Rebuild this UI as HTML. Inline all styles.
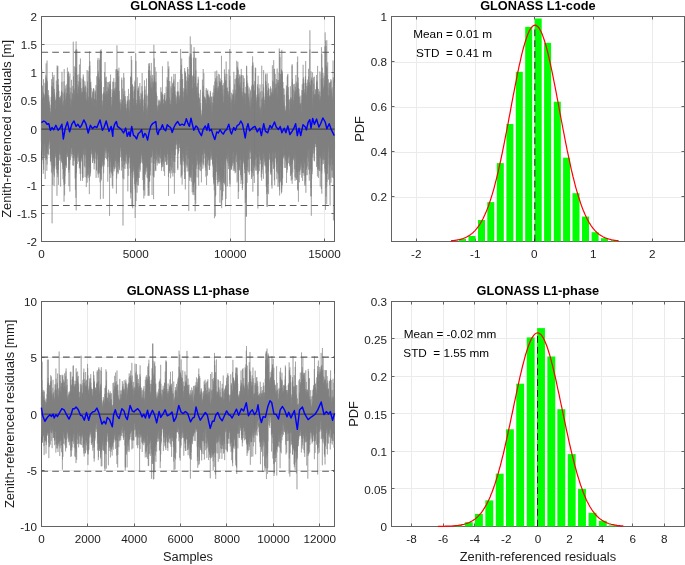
<!DOCTYPE html>
<html><head><meta charset="utf-8"><style>html,body{margin:0;padding:0;background:#fff;width:685px;height:565px;overflow:hidden}svg{display:block;will-change:transform}</style></head>
<body>
<svg width="685" height="565" viewBox="0 0 685 565">
<rect width="685" height="565" fill="#fff"/>
<line x1="135.5" y1="16.5" x2="135.5" y2="241.5" stroke="#ebebeb" stroke-width="1"/>
<line x1="230.5" y1="16.5" x2="230.5" y2="241.5" stroke="#ebebeb" stroke-width="1"/>
<line x1="324.5" y1="16.5" x2="324.5" y2="241.5" stroke="#ebebeb" stroke-width="1"/>
<line x1="41.5" y1="213.5" x2="334.5" y2="213.5" stroke="#ebebeb" stroke-width="1"/>
<line x1="41.5" y1="185.5" x2="334.5" y2="185.5" stroke="#ebebeb" stroke-width="1"/>
<line x1="41.5" y1="157.5" x2="334.5" y2="157.5" stroke="#ebebeb" stroke-width="1"/>
<line x1="41.5" y1="128.5" x2="334.5" y2="128.5" stroke="#ebebeb" stroke-width="1"/>
<line x1="41.5" y1="100.5" x2="334.5" y2="100.5" stroke="#ebebeb" stroke-width="1"/>
<line x1="41.5" y1="72.5" x2="334.5" y2="72.5" stroke="#ebebeb" stroke-width="1"/>
<line x1="41.5" y1="44.5" x2="334.5" y2="44.5" stroke="#ebebeb" stroke-width="1"/>
<rect x="41.5" y="16.5" width="293.0" height="225.0" fill="none" stroke="#636363" stroke-width="1"/>
<path d="M41.5 241.5v-3M41.5 16.5v3M135.5 241.5v-3M135.5 16.5v3M230.5 241.5v-3M230.5 16.5v3M324.5 241.5v-3M324.5 16.5v3M41.5 241.5h3M334.5 241.5h-3M41.5 213.5h3M334.5 213.5h-3M41.5 185.5h3M334.5 185.5h-3M41.5 157.5h3M334.5 157.5h-3M41.5 128.5h3M334.5 128.5h-3M41.5 100.5h3M334.5 100.5h-3M41.5 72.5h3M334.5 72.5h-3M41.5 44.5h3M334.5 44.5h-3M41.5 16.5h3M334.5 16.5h-3" stroke="#636363" stroke-width="1" fill="none"/>
<line x1="416.5" y1="16.5" x2="416.5" y2="241.5" stroke="#ebebeb" stroke-width="1"/>
<line x1="475.5" y1="16.5" x2="475.5" y2="241.5" stroke="#ebebeb" stroke-width="1"/>
<line x1="534.5" y1="16.5" x2="534.5" y2="241.5" stroke="#ebebeb" stroke-width="1"/>
<line x1="593.5" y1="16.5" x2="593.5" y2="241.5" stroke="#ebebeb" stroke-width="1"/>
<line x1="652.5" y1="16.5" x2="652.5" y2="241.5" stroke="#ebebeb" stroke-width="1"/>
<line x1="391.5" y1="197.5" x2="684.5" y2="197.5" stroke="#ebebeb" stroke-width="1"/>
<line x1="391.5" y1="152.5" x2="684.5" y2="152.5" stroke="#ebebeb" stroke-width="1"/>
<line x1="391.5" y1="107.5" x2="684.5" y2="107.5" stroke="#ebebeb" stroke-width="1"/>
<line x1="391.5" y1="62.5" x2="684.5" y2="62.5" stroke="#ebebeb" stroke-width="1"/>
<rect x="391.5" y="16.5" width="293.0" height="225.0" fill="none" stroke="#636363" stroke-width="1"/>
<path d="M416.5 241.5v-3M416.5 16.5v3M475.5 241.5v-3M475.5 16.5v3M534.5 241.5v-3M534.5 16.5v3M593.5 241.5v-3M593.5 16.5v3M652.5 241.5v-3M652.5 16.5v3M391.5 241.5h3M684.5 241.5h-3M391.5 196.5h3M684.5 196.5h-3M391.5 151.5h3M684.5 151.5h-3M391.5 106.5h3M684.5 106.5h-3M391.5 61.5h3M684.5 61.5h-3M391.5 16.5h3M684.5 16.5h-3" stroke="#636363" stroke-width="1" fill="none"/>
<line x1="87.5" y1="301.5" x2="87.5" y2="526.5" stroke="#ebebeb" stroke-width="1"/>
<line x1="134.5" y1="301.5" x2="134.5" y2="526.5" stroke="#ebebeb" stroke-width="1"/>
<line x1="180.5" y1="301.5" x2="180.5" y2="526.5" stroke="#ebebeb" stroke-width="1"/>
<line x1="226.5" y1="301.5" x2="226.5" y2="526.5" stroke="#ebebeb" stroke-width="1"/>
<line x1="273.5" y1="301.5" x2="273.5" y2="526.5" stroke="#ebebeb" stroke-width="1"/>
<line x1="319.5" y1="301.5" x2="319.5" y2="526.5" stroke="#ebebeb" stroke-width="1"/>
<line x1="41.5" y1="470.5" x2="334.5" y2="470.5" stroke="#ebebeb" stroke-width="1"/>
<line x1="41.5" y1="413.5" x2="334.5" y2="413.5" stroke="#ebebeb" stroke-width="1"/>
<line x1="41.5" y1="357.5" x2="334.5" y2="357.5" stroke="#ebebeb" stroke-width="1"/>
<rect x="41.5" y="301.5" width="293.0" height="225.0" fill="none" stroke="#636363" stroke-width="1"/>
<path d="M41.5 526.5v-3M41.5 301.5v3M87.5 526.5v-3M87.5 301.5v3M134.5 526.5v-3M134.5 301.5v3M180.5 526.5v-3M180.5 301.5v3M226.5 526.5v-3M226.5 301.5v3M273.5 526.5v-3M273.5 301.5v3M319.5 526.5v-3M319.5 301.5v3M41.5 526.5h3M334.5 526.5h-3M41.5 470.5h3M334.5 470.5h-3M41.5 413.5h3M334.5 413.5h-3M41.5 357.5h3M334.5 357.5h-3M41.5 301.5h3M334.5 301.5h-3" stroke="#636363" stroke-width="1" fill="none"/>
<line x1="411.5" y1="301.5" x2="411.5" y2="526.5" stroke="#ebebeb" stroke-width="1"/>
<line x1="443.5" y1="301.5" x2="443.5" y2="526.5" stroke="#ebebeb" stroke-width="1"/>
<line x1="474.5" y1="301.5" x2="474.5" y2="526.5" stroke="#ebebeb" stroke-width="1"/>
<line x1="506.5" y1="301.5" x2="506.5" y2="526.5" stroke="#ebebeb" stroke-width="1"/>
<line x1="537.5" y1="301.5" x2="537.5" y2="526.5" stroke="#ebebeb" stroke-width="1"/>
<line x1="569.5" y1="301.5" x2="569.5" y2="526.5" stroke="#ebebeb" stroke-width="1"/>
<line x1="601.5" y1="301.5" x2="601.5" y2="526.5" stroke="#ebebeb" stroke-width="1"/>
<line x1="632.5" y1="301.5" x2="632.5" y2="526.5" stroke="#ebebeb" stroke-width="1"/>
<line x1="664.5" y1="301.5" x2="664.5" y2="526.5" stroke="#ebebeb" stroke-width="1"/>
<line x1="391.5" y1="488.5" x2="684.5" y2="488.5" stroke="#ebebeb" stroke-width="1"/>
<line x1="391.5" y1="451.5" x2="684.5" y2="451.5" stroke="#ebebeb" stroke-width="1"/>
<line x1="391.5" y1="413.5" x2="684.5" y2="413.5" stroke="#ebebeb" stroke-width="1"/>
<line x1="391.5" y1="376.5" x2="684.5" y2="376.5" stroke="#ebebeb" stroke-width="1"/>
<line x1="391.5" y1="338.5" x2="684.5" y2="338.5" stroke="#ebebeb" stroke-width="1"/>
<rect x="391.5" y="301.5" width="293.0" height="225.0" fill="none" stroke="#636363" stroke-width="1"/>
<path d="M411.5 526.5v-3M411.5 301.5v3M443.5 526.5v-3M443.5 301.5v3M474.5 526.5v-3M474.5 301.5v3M506.5 526.5v-3M506.5 301.5v3M537.5 526.5v-3M537.5 301.5v3M569.5 526.5v-3M569.5 301.5v3M601.5 526.5v-3M601.5 301.5v3M632.5 526.5v-3M632.5 301.5v3M664.5 526.5v-3M664.5 301.5v3M391.5 526.5h3M684.5 526.5h-3M391.5 488.5h3M684.5 488.5h-3M391.5 451.5h3M684.5 451.5h-3M391.5 413.5h3M684.5 413.5h-3M391.5 376.5h3M684.5 376.5h-3M391.5 338.5h3M684.5 338.5h-3M391.5 301.5h3M684.5 301.5h-3" stroke="#636363" stroke-width="1" fill="none"/>
<path transform="translate(41.400,0) scale(0.018880,0.1)" d="M0 1397l1 -397 1 426 1 -160 1 -158 1 -161 1 222 1 44 1 -7 1 -82 1 68 1 193 1 -319 1 125 1 120 1 -86 1 158 1 125 1 -344 1 103 1 -570 1 468 1 184 1 -325 1 444 1 -582 1 583 1 -336 1 -90 1 96 1 40 1 -134 1 -63 1 151 1 259 1 -96 1 161 1 -338 1 44 1 4 1 81 1 54 1 214 1 -175 1 -90 1 194 1 -350 1 -86 1 321 1 -81 1 -8 1 127 1 -199 1 35 1 76 1 42 1 50 1 -133 1 22 1 -404 1 547 1 -418 1 228 1 387 1 -430 1 -189 1 478 1 -323 1 58 1 -1 1 135 1 6 1 -135 1 188 1 -307 1 240 1 -197 1 200 1 -208 1 34 1 295 1 -403 1 -8 1 272 1 -131 1 -26 1 45 1 361 1 -504 1 122 1 69 1 -176 1 144 1 83 1 -224 1 326 1 -365 1 161 1 78 1 469 1 -815 1 338 1 378 1 -526 1 283 1 -146 1 -279 1 309 1 -218 1 166 1 -276 1 387 1 -547 1 390 1 257 1 -136 1 -153 1 20 1 -35 1 563 1 -496 1 7 1 -131 1 47 1 196 1 -221 1 -33 1 45 1 35 1 95 1 -118 1 53 1 -99 1 351 1 -202 1 -71 1 106 1 -59 1 -264 1 241 1 317 1 -199 1 114 1 -314 1 -137 1 133 1 346 1 -393 1 34 1 314 1 -224 1 9 1 95 1 -48 1 -63 1 90 1 -154 1 107 1 110 1 -268 1 131 1 -144 1 293 1 -20 1 50 1 13 1 -2 1 -46 1 -228 1 261 1 -281 1 495 1 -312 1 46 1 -277 1 351 1 17 1 -422 1 156 1 14 1 -28 1 315 1 124 1 -506 1 332 1 -206 1 258 1 -605 1 320 1 263 1 -316 1 316 1 -277 1 268 1 -89 1 -165 1 -57 1 98 1 223 1 -196 1 -111 1 686 1 -847 1 234 1 135 1 -280 1 183 1 -74 1 -195 1 355 1 -295 1 71 1 374 1 -447 1 332 1 116 1 -36 1 -103 1 -143 1 -242 1 321 1 63 1 -201 1 -105 1 402 1 -419 1 327 1 -202 1 -268 1 735 1 -223 1 -15 1 -445 1 293 1 94 1 -234 1 550 1 -850 1 634 1 -608 1 75 1 65 1 438 1 -302 1 9 1 -57 1 -134 1 138 1 -23 1 157 1 -15 1 -495 1 427 1 451 1 -408 1 96 1 -157 1 10 1 146 1 -303 1 280 1 -357 1 475 1 -451 1 525 1 86 1 -622 1 541 1 -254 1 364 1 -393 1 58 1 -2 1 357 1 -728 1 612 1 -152 1 -130 1 56 1 263 1 -25 1 192 1 -518 1 -276 1 296 1 81 1 -53 1 360 1 227 1 -410 1 -463 1 604 1 -360 1 148 1 169 1 -100 1 -92 1 75 1 97 1 -26 1 296 1 -1040 1 454 1 41 1 287 1 -123 1 126 1 -455 1 241 1 171 1 -138 1 -68 1 132 1 267 1 -728 1 714 1 -253 1 -217 1 289 1 -118 1 223 1 -384 1 336 1 -352 1 229 1 70 1 -145 1 135 1 -230 1 306 1 -287 1 -36 1 107 1 11 1 -142 1 296 1 -167 1 131 1 -373 1 34 1 185 1 -126 1 150 1 118 1 92 1 60 1 -115 1 -250 1 209 1 -177 1 175 1 -261 1 390 1 -152 1 -112 1 -170 1 261 1 -127 1 122 1 -150 1 26 1 180 1 128 1 -412 1 160 1 87 1 -81 1 -42 1 382 1 -438 1 173 1 -121 1 56 1 -308 1 446 1 -153 1 -103 1 356 1 -261 1 -45 1 -31 1 254 1 -137 1 -44 1 -131 1 56 1 159 1 -46 1 -247 1 142 1 135 1 301 1 -421 1 -179 1 367 1 -151 1 -100 1 227 1 -94 1 -85 1 -41 1 142 1 25 1 -217 1 323 1 -260 1 309 1 -123 1 -58 1 60 1 -105 1 61 1 193 1 -247 1 155 1 -189 1 97 1 109 1 -237 1 170 1 -270 1 110 1 80 1 142 1 -17 1 -176 1 85 1 36 1 -190 1 217 1 102 1 -12 1 -198 1 20 1 -57 1 49 1 28 1 103 1 -65 1 -112 1 196 1 7 1 -166 1 42 1 17 1 -173 1 201 1 62 1 145 1 -198 1 -53 1 16 1 86 1 22 1 -186 1 120 1 53 1 -303 1 389 1 -183 1 128 1 -107 1 -23 1 21 1 44 1 70 1 -135 1 -104 1 52 1 -35 1 217 1 -215 1 315 1 -176 1 -27 1 180 1 -215 1 9 1 142 1 -6 1 -230 1 458 1 -251 1 -244 1 145 1 146 1 -94 1 87 1 208 1 -196 1 151 1 -187 1 -188 1 308 1 -316 1 239 1 -42 1 -223 1 20 1 79 1 87 1 144 1 -193 1 290 1 -163 1 -241 1 2 1 113 1 -100 1 71 1 146 1 -87 1 123 1 -287 1 -32 1 -95 1 -67 1 234 1 91 1 -48 1 37 1 370 1 -573 1 151 1 -42 1 -80 1 429 1 -264 1 246 1 -460 1 586 1 80 1 -621 1 171 1 -24 1 139 1 -379 1 362 1 54 1 -277 1 -359 1 337 1 61 1 253 1 -305 1 -121 1 397 1 -55 1 83 1 -157 1 232 1 -126 1 -531 1 459 1 134 1 -172 1 337 1 -454 1 274 1 -459 1 292 1 -131 1 -110 1 -74 1 369 1 50 1 859 1 -1263 1 90 1 394 1 -471 1 567 1 -686 1 477 1 98 1 140 1 -414 1 -85 1 -169 1 595 1 -264 1 -84 1 10 1 172 1 -56 1 297 1 -860 1 775 1 -357 1 118 1 -61 1 60 1 218 1 -138 1 -430 1 356 1 -7 1 120 1 -84 1 -31 1 284 1 -545 1 850 1 -714 1 -121 1 472 1 75 1 45 1 55 1 -254 1 -106 1 80 1 -97 1 -137 1 545 1 52 1 -456 1 -59 1 -64 1 -293 1 249 1 40 1 122 1 -241 1 -218 1 626 1 262 1 -941 1 486 1 240 1 -486 1 -63 1 352 1 -63 1 -95 1 539 1 -35 1 -198 1 -170 1 -59 1 282 1 -260 1 403 1 -56 1 -433 1 321 1 187 1 -213 1 -370 1 159 1 -16 1 106 1 -20 1 -87 1 275 1 111 1 -434 1 -204 1 415 1 -82 1 93 1 -245 1 215 1 -263 1 434 1 124 1 -557 1 -356 1 449 1 -6 1 151 1 -37 1 98 1 458 1 -676 1 38 1 167 1 -470 1 541 1 -289 1 -167 1 122 1 274 1 69 1 83 1 -165 1 -236 1 258 1 -128 1 484 1 -878 1 731 1 -169 1 -72 1 -100 1 -92 1 -76 1 -112 1 685 1 -211 1 -52 1 -58 1 -423 1 303 1 74 1 190 1 -396 1 232 1 -92 1 47 1 -143 1 201 1 -50 1 -340 1 535 1 163 1 -522 1 342 1 -358 1 75 1 378 1 -258 1 215 1 -200 1 116 1 -191 1 255 1 51 1 -175 1 -194 1 31 1 -90 1 240 1 -14 1 -188 1 248 1 -229 1 367 1 -153 1 116 1 -351 1 -43 1 -127 1 376 1 -268 1 368 1 -179 1 90 1 -299 1 100 1 114 1 79 1 -295 1 238 1 -173 1 243 1 -155 1 -11 1 111 1 107 1 -210 1 222 1 -338 1 195 1 -216 1 205 1 -175 1 147 1 91 1 -248 1 -126 1 251 1 112 1 -46 1 -186 1 287 1 -185 1 179 1 -282 1 230 1 132 1 -325 1 66 1 168 1 -18 1 -28 1 -90 1 -282 1 306 1 -260 1 279 1 -501 1 785 1 104 1 -307 1 -279 1 118 1 268 1 -50 1 -310 1 446 1 -111 1 -43 1 -213 1 85 1 -174 1 223 1 -212 1 462 1 -285 1 45 1 33 1 -1 1 -464 1 726 1 -318 1 -177 1 -117 1 78 1 18 1 178 1 -250 1 279 1 11 1 -244 1 849 1 -681 1 135 1 -66 1 -80 1 249 1 213 1 -436 1 -238 1 429 1 -829 1 711 1 -108 1 161 1 -573 1 334 1 -189 1 155 1 359 1 -251 1 -129 1 573 1 -377 1 -647 1 311 1 461 1 8 1 -68 1 12 1 -368 1 255 1 -340 1 112 1 -23 1 23 1 151 1 35 1 -174 1 567 1 -462 1 599 1 -161 1 -664 1 627 1 -685 1 853 1 -336 1 -394 1 -352 1 529 1 -278 1 717 1 -686 1 297 1 209 1 -140 1 73 1 -148 1 282 1 -480 1 435 1 -514 1 399 1 -380 1 270 1 226 1 181 1 -862 1 294 1 -57 1 613 1 -583 1 438 1 -338 1 -251 1 422 1 -333 1 496 1 21 1 130 1 -604 1 659 1 -157 1 -691 1 1000 1 -134 1 -677 1 337 1 -405 1 292 1 77 1 102 1 -342 1 188 1 -211 1 306 1 65 1 -138 1 243 1 -90 1 -88 1 172 1 -527 1 265 1 -374 1 377 1 -95 1 273 1 -267 1 -39 1 112 1 -8 1 132 1 -280 1 -120 1 -15 1 529 1 -459 1 152 1 -119 1 370 1 -270 1 332 1 -357 1 185 1 83 1 37 1 -389 1 148 1 51 1 -302 1 438 1 -56 1 19 1 -318 1 263 1 41 1 97 1 -254 1 196 1 208 1 -390 1 4 1 14 1 -185 1 179 1 315 1 -404 1 115 1 223 1 -102 1 -55 1 -91 1 35 1 21 1 110 1 -100 1 141 1 -461 1 441 1 -222 1 88 1 -71 1 173 1 -124 1 120 1 -232 1 161 1 171 1 -18 1 -244 1 83 1 -86 1 41 1 23 1 201 1 -106 1 148 1 14 1 -476 1 266 1 -128 1 -199 1 90 1 98 1 369 1 -270 1 -46 1 26 1 -125 1 159 1 -46 1 -271 1 192 1 692 1 -485 1 -131 1 140 1 -304 1 197 1 150 1 -473 1 166 1 63 1 22 1 -44 1 149 1 145 1 -131 1 131 1 3 1 -317 1 168 1 -127 1 202 1 -197 1 31 1 367 1 -366 1 -271 1 328 1 35 1 -158 1 113 1 187 1 -304 1 65 1 -102 1 202 1 -88 1 -157 1 150 1 385 1 -687 1 62 1 334 1 -331 1 639 1 -659 1 34 1 152 1 306 1 -54 1 -45 1 -53 1 190 1 -593 1 398 1 218 1 -474 1 262 1 170 1 5 1 -262 1 373 1 -254 1 104 1 -397 1 58 1 -1 1 464 1 -751 1 97 1 479 1 -117 1 -559 1 465 1 19 1 274 1 -556 1 250 1 280 1 -50 1 -290 1 112 1 -201 1 487 1 -303 1 287 1 -78 1 -278 1 125 1 135 1 -32 1 185 1 -66 1 -132 1 64 1 -236 1 21 1 207 1 -43 1 -245 1 178 1 -122 1 44 1 321 1 -386 1 52 1 217 1 -85 1 18 1 -282 1 252 1 -59 1 -77 1 46 1 51 1 208 1 196 1 -325 1 260 1 -254 1 -299 1 292 1 236 1 26 1 -435 1 601 1 -571 1 3 1 43 1 386 1 -202 1 104 1 -621 1 434 1 -10 1 169 1 -240 1 353 1 -397 1 -146 1 -55 1 627 1 -105 1 -339 1 417 1 -285 1 10 1 -311 1 210 1 151 1 22 1 -182 1 370 1 109 1 -546 1 296 1 -479 1 482 1 -350 1 205 1 83 1 -108 1 336 1 -479 1 79 1 210 1 -97 1 77 1 -126 1 -165 1 402 1 -161 1 227 1 121 1 -471 1 -108 1 79 1 -55 1 -375 1 1009 1 -342 1 536 1 -810 1 325 1 -91 1 -100 1 301 1 -281 1 -25 1 70 1 -715 1 451 1 -6 1 715 1 -321 1 59 1 -47 1 -250 1 558 1 -564 1 -370 1 623 1 169 1 -331 1 78 1 178 1 173 1 -290 1 322 1 -414 1 530 1 -1021 1 681 1 -196 1 -50 1 -402 1 670 1 -360 1 -225 1 100 1 112 1 91 1 -278 1 -3 1 361 1 -132 1 538 1 -632 1 303 1 254 1 -501 1 298 1 -173 1 -64 1 383 1 -641 1 96 1 -277 1 391 1 258 1 -290 1 245 1 -362 1 432 1 -286 1 -82 1 466 1 -363 1 126 1 -100 1 123 1 -124 1 -278 1 310 1 38 1 -19 1 -126 1 411 1 -511 1 168 1 16 1 -248 1 -19 1 349 1 1 1 -101 1 -324 1 243 1 97 1 69 1 101 1 -134 1 93 1 125 1 -726 1 602 1 -258 1 165 1 -50 1 -220 1 22 1 236 1 -109 1 160 1 -199 1 455 1 -433 1 419 1 -512 1 240 1 104 1 -450 1 62 1 255 1 137 1 42 1 -153 1 92 1 -414 1 137 1 354 1 -381 1 59 1 -284 1 293 1 -268 1 372 1 215 1 -225 1 -28 1 -111 1 186 1 -328 1 128 1 512 1 -680 1 145 1 -166 1 519 1 -291 1 -207 1 3 1 469 1 -87 1 25 1 -173 1 196 1 84 1 -132 1 -466 1 -76 1 101 1 356 1 -368 1 85 1 232 1 -189 1 -81 1 457 1 -96 1 59 1 26 1 104 1 -302 1 -30 1 -319 1 305 1 -74 1 336 1 -77 1 163 1 -81 1 17 1 -133 1 -80 1 -104 1 71 1 -187 1 267 1 -95 1 -392 1 -137 1 400 1 54 1 33 1 324 1 -390 1 -129 1 337 1 129 1 134 1 -549 1 159 1 -36 1 412 1 -174 1 -141 1 147 1 -226 1 33 1 36 1 -97 1 52 1 132 1 -23 1 277 1 -135 1 -210 1 -486 1 164 1 224 1 27 1 -215 1 218 1 116 1 -178 1 118 1 12 1 -151 1 -42 1 185 1 102 1 -336 1 -261 1 278 1 387 1 -569 1 687 1 -411 1 195 1 -244 1 371 1 -145 1 89 1 -645 1 746 1 -672 1 377 1 242 1 -202 1 202 1 -96 1 -22 1 -268 1 547 1 37 1 -502 1 -111 1 337 1 -296 1 278 1 209 1 -47 1 252 1 -312 1 -462 1 61 1 426 1 423 1 -692 1 -167 1 695 1 -456 1 247 1 116 1 -620 1 189 1 -59 1 328 1 38 1 -343 1 313 1 -688 1 628 1 -2 1 -98 1 -416 1 388 1 -272 1 709 1 -486 1 24 1 28 1 179 1 -126 1 123 1 -389 1 539 1 -418 1 326 1 -135 1 210 1 -287 1 -348 1 86 1 227 1 390 1 -435 1 113 1 279 1 -423 1 199 1 -7 1 -199 1 185 1 178 1 -3 1 -299 1 685 1 -541 1 -131 1 -89 1 -54 1 361 1 -728 1 535 1 -236 1 232 1 25 1 -238 1 60 1 419 1 -339 1 100 1 -56 1 205 1 69 1 -57 1 -65 1 0 1 -306 1 434 1 -325 1 -56 1 87 1 -71 1 203 1 51 1 91 1 -228 1 -82 1 51 1 -144 1 70 1 435 1 -440 1 49 1 171 1 -60 1 79 1 -255 1 -31 1 370 1 -311 1 89 1 48 1 -324 1 259 1 -73 1 183 1 -130 1 -301 1 469 1 -513 1 328 1 -43 1 12 1 90 1 143 1 -272 1 38 1 199 1 -35 1 30 1 -57 1 -85 1 -36 1 1 1 199 1 84 1 67 1 -432 1 114 1 34 1 -25 1 -138 1 472 1 -97 1 -239 1 -42 1 63 1 -169 1 121 1 156 1 122 1 -108 1 56 1 -328 1 -302 1 640 1 -168 1 -37 1 241 1 -365 1 0 1 30 1 324 1 -94 1 -372 1 467 1 -224 1 55 1 -162 1 356 1 -194 1 117 1 -309 1 226 1 -82 1 -42 1 -79 1 15 1 -64 1 67 1 86 1 82 1 -291 1 70 1 58 1 -143 1 186 1 3 1 10 1 82 1 73 1 -19 1 -72 1 43 1 -195 1 -22 1 226 1 -11 1 236 1 -351 1 -114 1 190 1 -111 1 -68 1 342 1 87 1 -238 1 -159 1 141 1 -49 1 -211 1 352 1 -78 1 147 1 -294 1 88 1 -17 1 -273 1 724 1 -795 1 163 1 137 1 -215 1 352 1 -159 1 97 1 29 1 -29 1 4 1 -46 1 106 1 71 1 -197 1 -35 1 7 1 132 1 -125 1 -4 1 -209 1 643 1 -597 1 557 1 -170 1 45 1 -148 1 45 1 -39 1 -857 1 965 1 136 1 -497 1 294 1 227 1 -45 1 -487 1 269 1 -7 1 -6 1 -502 1 626 1 -496 1 763 1 -310 1 -150 1 144 1 -97 1 -132 1 86 1 85 1 -222 1 290 1 75 1 -9 1 17 1 20 1 -109 1 110 1 -229 1 63 1 187 1 96 1 -423 1 -201 1 662 1 -183 1 124 1 -170 1 -122 1 -164 1 -60 1 456 1 -89 1 -124 1 -272 1 112 1 -17 1 60 1 -499 1 602 1 261 1 -410 1 112 1 50 1 -252 1 283 1 -245 1 73 1 140 1 -62 1 32 1 -207 1 339 1 -378 1 408 1 -283 1 -153 1 239 1 -211 1 115 1 83 1 207 1 4 1 -69 1 -170 1 -283 1 296 1 -22 1 44 1 -94 1 0 1 322 1 -523 1 331 1 313 1 -510 1 -55 1 194 1 -31 1 158 1 286 1 -387 1 181 1 -301 1 24 1 210 1 -261 1 518 1 -447 1 68 1 -253 1 173 1 -167 1 150 1 -385 1 527 1 537 1 -1110 1 1116 1 -575 1 314 1 -594 1 964 1 -986 1 317 1 527 1 -912 1 -338 1 726 1 -222 1 -67 1 20 1 -177 1 923 1 -62 1 -825 1 403 1 -112 1 497 1 -617 1 784 1 -515 1 -251 1 222 1 -156 1 901 1 -668 1 -199 1 183 1 433 1 -767 1 -228 1 947 1 -219 1 -336 1 117 1 371 1 -1198 1 1253 1 -456 1 267 1 -228 1 854 1 -1027 1 520 1 -1106 1 785 1 217 1 -677 1 -134 1 608 1 258 1 46 1 -522 1 284 1 -479 1 856 1 -625 1 490 1 -409 1 -15 1 510 1 -651 1 559 1 -424 1 -131 1 11 1 489 1 -300 1 -68 1 -283 1 657 1 -35 1 -175 1 105 1 -941 1 635 1 160 1 -14 1 -152 1 181 1 -215 1 17 1 -128 1 301 1 -186 1 48 1 403 1 -305 1 2 1 -313 1 211 1 312 1 -91 1 -102 1 -46 1 48 1 66 1 -145 1 -435 1 890 1 -166 1 -255 1 309 1 -535 1 509 1 -216 1 136 1 -242 1 97 1 84 1 86 1 -103 1 -14 1 -196 1 435 1 -284 1 -82 1 -19 1 -163 1 87 1 -145 1 318 1 -52 1 55 1 -272 1 153 1 -41 1 303 1 -462 1 -4 1 525 1 -174 1 -365 1 553 1 27 1 -65 1 -612 1 419 1 -190 1 116 1 -251 1 636 1 -466 1 187 1 101 1 -36 1 -38 1 -155 1 118 1 -84 1 -394 1 630 1 -315 1 20 1 23 1 -191 1 33 1 -114 1 444 1 141 1 -217 1 -242 1 486 1 -322 1 -254 1 -63 1 418 1 256 1 -370 1 -51 1 73 1 -118 1 62 1 166 1 -204 1 347 1 -401 1 356 1 -76 1 -155 1 19 1 -6 1 431 1 -535 1 430 1 -38 1 -290 1 423 1 -866 1 570 1 -25 1 -24 1 182 1 -274 1 47 1 301 1 -285 1 -210 1 368 1 -150 1 -113 1 261 1 -309 1 -47 1 167 1 16 1 59 1 -304 1 708 1 -251 1 -130 1 22 1 -676 1 851 1 -488 1 384 1 -427 1 551 1 -386 1 82 1 446 1 -138 1 -606 1 175 1 229 1 -110 1 271 1 -390 1 -320 1 257 1 194 1 198 1 57 1 137 1 -276 1 -122 1 262 1 -232 1 -103 1 1 1 388 1 157 1 -48 1 -816 1 759 1 -626 1 220 1 262 1 -539 1 31 1 133 1 675 1 -171 1 -542 1 283 1 -1 1 48 1 -280 1 590 1 -499 1 324 1 -669 1 552 1 -67 1 320 1 -1041 1 828 1 68 1 -284 1 412 1 199 1 -315 1 -20 1 135 1 -233 1 192 1 -157 1 -311 1 -86 1 532 1 -139 1 -297 1 161 1 327 1 -717 1 182 1 353 1 26 1 -429 1 39 1 245 1 257 1 -289 1 -480 1 687 1 -215 1 -87 1 -139 1 465 1 -183 1 25 1 -11 1 15 1 73 1 162 1 -513 1 181 1 -68 1 382 1 -352 1 -231 1 277 1 -123 1 -1 1 52 1 -145 1 -105 1 654 1 -351 1 -135 1 261 1 119 1 -516 1 216 1 122 1 -189 1 218 1 -288 1 96 1 94 1 93 1 -67 1 -124 1 53 1 -303 1 734 1 -439 1 19 1 96 1 54 1 -40 1 -183 1 -176 1 265 1 -115 1 44 1 101 1 44 1 197 1 -270 1 -299 1 437 1 66 1 -494 1 432 1 -81 1 -143 1 139 1 43 1 41 1 112 1 -234 1 1 1 504 1 -728 1 166 1 -18 1 239 1 73 1 -523 1 551 1 -528 1 839 1 -729 1 398 1 -309 1 221 1 -333 1 201 1 -26 1 16 1 160 1 -283 1 26 1 -230 1 272 1 -82 1 314 1 -49 1 -319 1 267 1 198 1 -348 1 -218 1 819 1 -430 1 31 1 403 1 -739 1 247 1 -494 1 534 1 -23 1 -259 1 -15 1 147 1 -12 1 390 1 -393 1 18 1 -4 1 -305 1 238 1 -184 1 313 1 -493 1 228 1 291 1 -495 1 117 1 529 1 -481 1 272 1 63 1 -275 1 -125 1 641 1 -415 1 212 1 -253 1 223 1 -338 1 -14 1 67 1 85 1 0 1 59 1 150 1 -192 1 291 1 -318 1 263 1 129 1 83 1 -738 1 734 1 -689 1 633 1 -286 1 73 1 -257 1 374 1 -49 1 -246 1 -13 1 295 1 37 1 -51 1 -234 1 79 1 193 1 -18 1 62 1 -206 1 -177 1 208 1 34 1 -205 1 206 1 -271 1 232 1 -183 1 579 1 -196 1 -197 1 -336 1 18 1 412 1 -181 1 99 1 -403 1 15 1 348 1 -70 1 -241 1 116 1 338 1 -260 1 217 1 230 1 -280 1 -44 1 -156 1 391 1 -573 1 77 1 231 1 -306 1 518 1 -338 1 242 1 -175 1 13 1 55 1 -408 1 182 1 128 1 550 1 -286 1 -18 1 -364 1 402 1 75 1 -102 1 391 1 -829 1 57 1 170 1 -148 1 214 1 97 1 -110 1 24 1 61 1 74 1 -287 1 0 1 370 1 -304 1 -97 1 222 1 -127 1 95 1 -37 1 140 1 58 1 -351 1 -76 1 563 1 -456 1 -170 1 -69 1 370 1 -120 1 -238 1 175 1 -22 1 413 1 -152 1 -49 1 -255 1 221 1 173 1 -103 1 183 1 -199 1 125 1 -47 1 -209 1 395 1 -202 1 97 1 -396 1 -4 1 191 1 -132 1 304 1 -44 1 177 1 -136 1 -370 1 450 1 -345 1 -17 1 172 1 -14 1 229 1 394 1 -526 1 227 1 -365 1 122 1 -188 1 22 1 389 1 -195 1 -1 1 -272 1 548 1 -411 1 -103 1 140 1 153 1 18 1 161 1 -562 1 141 1 450 1 162 1 -656 1 122 1 -325 1 162 1 -13 1 178 1 -247 1 481 1 -222 1 -42 1 262 1 -264 1 -218 1 285 1 480 1 -462 1 95 1 -159 1 -4 1 160 1 -694 1 308 1 145 1 73 1 380 1 221 1 -400 1 -51 1 64 1 183 1 -548 1 108 1 144 1 32 1 -478 1 507 1 -435 1 507 1 18 1 -664 1 592 1 -65 1 -173 1 337 1 227 1 -323 1 -345 1 -78 1 61 1 31 1 478 1 -185 1 -70 1 200 1 -188 1 4 1 -194 1 50 1 145 1 -268 1 635 1 -343 1 -151 1 345 1 -460 1 483 1 -222 1 415 1 -561 1 36 1 -103 1 -93 1 350 1 -308 1 326 1 -228 1 407 1 -866 1 714 1 -89 1 -12 1 -155 1 575 1 -523 1 204 1 -170 1 -24 1 109 1 145 1 -446 1 161 1 -234 1 448 1 -312 1 26 1 347 1 -166 1 104 1 -138 1 138 1 -82 1 -307 1 338 1 -142 1 26 1 131 1 -212 1 -130 1 572 1 171 1 -565 1 385 1 -198 1 -267 1 -50 1 144 1 -40 1 24 1 54 1 -262 1 516 1 -513 1 15 1 510 1 -42 1 177 1 -339 1 -202 1 460 1 -320 1 -8 1 -188 1 324 1 -729 1 762 1 -669 1 759 1 -645 1 594 1 475 1 -732 1 -240 1 838 1 -645 1 -182 1 638 1 -1104 1 362 1 44 1 166 1 -373 1 794 1 59 1 -307 1 -103 1 -328 1 578 1 -334 1 375 1 117 1 -281 1 -625 1 340 1 664 1 -315 1 334 1 -1069 1 620 1 -19 1 -428 1 286 1 484 1 -130 1 -325 1 260 1 261 1 -689 1 417 1 231 1 -534 1 612 1 -429 1 366 1 -58 1 -202 1 -170 1 -111 1 251 1 11 1 368 1 -459 1 134 1 405 1 -417 1 40 1 349 1 -460 1 93 1 106 1 -260 1 -292 1 -100 1 369 1 385 1 -39 1 177 1 -208 1 -435 1 -217 1 259 1 69 1 -125 1 436 1 -445 1 354 1 50 1 -635 1 332 1 418 1 -105 1 -177 1 -292 1 99 1 185 1 270 1 -178 1 -131 1 72 1 119 1 -550 1 168 1 218 1 243 1 -30 1 -374 1 161 1 -149 1 69 1 103 1 -94 1 -35 1 -108 1 -72 1 249 1 68 1 75 1 -251 1 18 1 342 1 -145 1 80 1 -246 1 -24 1 -71 1 355 1 -349 1 -97 1 162 1 325 1 -198 1 33 1 -19 1 -25 1 -19 1 -197 1 490 1 -290 1 216 1 -440 1 335 1 -273 1 -19 1 249 1 122 1 54 1 -6 1 -254 1 168 1 -220 1 8 1 128 1 -59 1 160 1 -448 1 499 1 -288 1 347 1 -55 1 -390 1 188 1 125 1 -251 1 8 1 75 1 183 1 27 1 -230 1 221 1 116 1 -98 1 -297 1 -19 1 204 1 98 1 -70 1 -149 1 -100 1 404 1 -260 1 373 1 -557 1 150 1 -57 1 465 1 -115 1 -324 1 -267 1 575 1 -191 1 -238 1 -71 1 360 1 -115 1 66 1 47 1 -144 1 18 1 176 1 -146 1 -31 1 172 1 -490 1 604 1 -150 1 -229 1 111 1 267 1 -129 1 -441 1 145 1 224 1 294 1 -188 1 -176 1 141 1 -102 1 -58 1 123 1 -453 1 565 1 -85 1 -175 1 -74 1 -63 1 264 1 -22 1 5 1 276 1 -705 1 266 1 -10 1 311 1 -216 1 -126 1 208 1 35 1 218 1 -246 1 -123 1 -12 1 -53 1 228 1 56 1 -182 1 16 1 268 1 -227 1 71 1 -283 1 85 1 -276 1 139 1 312 1 160 1 -276 1 -169 1 234 1 193 1 -240 1 198 1 -180 1 -215 1 59 1 120 1 471 1 -315 1 -154 1 99 1 -15 1 -124 1 64 1 -29 1 188 1 156 1 -44 1 -314 1 169 1 -249 1 -70 1 226 1 105 1 -133 1 180 1 -1 1 -15 1 -183 1 -246 1 643 1 -465 1 249 1 -51 1 -171 1 440 1 -232 1 -140 1 -82 1 -114 1 -62 1 379 1 -209 1 -2 1 198 1 -176 1 207 1 -268 1 25 1 299 1 -334 1 271 1 -22 1 -104 1 -353 1 71 1 47 1 -41 1 459 1 -371 1 -81 1 158 1 89 1 -341 1 494 1 25 1 -287 1 306 1 -513 1 218 1 84 1 50 1 232 1 -317 1 -145 1 262 1 -13 1 62 1 -166 1 108 1 -158 1 241 1 -260 1 9 1 378 1 -408 1 162 1 118 1 -184 1 252 1 -305 1 327 1 -524 1 43 1 287 1 271 1 34 1 -488 1 164 1 -90 1 -323 1 559 1 -213 1 337 1 -211 1 -154 1 -29 1 95 1 120 1 -173 1 597 1 -471 1 -236 1 213 1 185 1 -125 1 -131 1 -56 1 -22 1 -65 1 114 1 131 1 -138 1 363 1 -207 1 -134 1 67 1 243 1 -511 1 311 1 390 1 -269 1 -302 1 164 1 -57 1 470 1 -537 1 62 1 -9 1 -168 1 -291 1 474 1 115 1 -144 1 141 1 39 1 -8 1 -362 1 484 1 -97 1 -9 1 -120 1 -2 1 -84 1 149 1 79 1 -236 1 221 1 -206 1 171 1 -121 1 167 1 182 1 -288 1 -124 1 11 1 182 1 -196 1 260 1 -121 1 111 1 -266 1 -78 1 38 1 215 1 -227 1 286 1 -541 1 274 1 98 1 -333 1 239 1 -182 1 292 1 -37 1 209 1 -339 1 -175 1 236 1 147 1 -8 1 16 1 241 1 -363 1 33 1 -156 1 59 1 405 1 -169 1 -744 1 957 1 -817 1 405 1 361 1 -220 1 114 1 84 1 -154 1 -426 1 447 1 -295 1 -478 1 588 1 235 1 -120 1 -32 1 493 1 -419 1 183 1 -166 1 382 1 -586 1 453 1 187 1 -643 1 417 1 -704 1 488 1 123 1 -461 1 -283 1 542 1 -112 1 153 1 32 1 161 1 216 1 -336 1 -589 1 659 1 -85 1 -73 1 420 1 -387 1 -181 1 240 1 -606 1 750 1 -263 1 479 1 -296 1 -92 1 -55 1 -402 1 323 1 111 1 201 1 -162 1 76 1 -2 1 -357 1 243 1 -152 1 -302 1 -77 1 683 1 179 1 -4 1 -664 1 683 1 15 1 -674 1 363 1 361 1 -477 1 322 1 -531 1 82 1 357 1 -307 1 86 1 -11 1 -332 1 749 1 -486 1 -57 1 -35 1 150 1 -300 1 542 1 -366 1 350 1 -520 1 -48 1 29 1 364 1 -496 1 690 1 -375 1 394 1 -412 1 387 1 -604 1 -32 1 572 1 -392 1 555 1 -609 1 421 1 -468 1 -325 1 1126 1 -589 1 425 1 -287 1 -691 1 772 1 254 1 83 1 131 1 -465 1 -183 1 65 1 -466 1 723 1 -3 1 -144 1 -429 1 544 1 -458 1 690 1 -710 1 30 1 82 1 -273 1 53 1 236 1 -612 1 1488 1 -623 1 -31 1 -447 1 410 1 -75 1 41 1 -597 1 517 1 -661 1 632 1 -249 1 103 1 104 1 422 1 134 1 -426 1 -390 1 897 1 -999 1 295 1 117 1 -174 1 689 1 -309 1 218 1 -443 1 371 1 -323 1 3 1 140 1 27 1 54 1 -236 1 -374 1 348 1 -663 1 676 1 -145 1 451 1 -965 1 1279 1 -628 1 -326 1 527 1 17 1 -16 1 442 1 -756 1 280 1 -35 1 -198 1 231 1 225 1 -487 1 300 1 127 1 -81 1 -504 1 420 1 -146 1 349 1 -290 1 444 1 -674 1 364 1 -284 1 546 1 -43 1 -507 1 339 1 -159 1 -315 1 117 1 229 1 83 1 -175 1 132 1 3 1 -4 1 -279 1 252 1 74 1 -376 1 563 1 -17 1 -237 1 350 1 -523 1 -24 1 59 1 -16 1 458 1 -319 1 -18 1 76 1 220 1 -253 1 -96 1 116 1 178 1 -261 1 290 1 -197 1 -86 1 121 1 264 1 -397 1 291 1 -146 1 -73 1 -20 1 138 1 -36 1 -45 1 52 1 -277 1 37 1 -64 1 120 1 24 1 -30 1 168 1 -278 1 132 1 210 1 155 1 -310 1 218 1 34 1 -458 1 241 1 -249 1 126 1 155 1 -332 1 359 1 -136 1 -21 1 159 1 -281 1 -182 1 358 1 -160 1 111 1 -193 1 34 1 -24 1 -56 1 101 1 6 1 177 1 693 1 -838 1 -218 1 484 1 -405 1 75 1 122 1 86 1 7 1 39 1 -84 1 286 1 -62 1 -326 1 77 1 -273 1 480 1 -207 1 503 1 -616 1 523 1 -583 1 -187 1 200 1 289 1 162 1 -456 1 442 1 -356 1 0 1 51 1 463 1 -348 1 29 1 -431 1 396 1 26 1 314 1 -582 1 38 1 -48 1 62 1 300 1 -335 1 469 1 -281 1 -212 1 59 1 -156 1 -16 1 563 1 -60 1 -400 1 113 1 436 1 -494 1 199 1 59 1 -148 1 2 1 -32 1 94 1 -344 1 328 1 26 1 -305 1 359 1 -281 1 -343 1 139 1 410 1 93 1 -201 1 -206 1 260 1 213 1 -192 1 -284 1 385 1 -134 1 5 1 46 1 100 1 -135 1 -170 1 169 1 48 1 205 1 -475 1 214 1 -148 1 228 1 -164 1 -506 1 803 1 -322 1 -87 1 -83 1 88 1 -47 1 230 1 57 1 -46 1 89 1 -244 1 293 1 -145 1 111 1 33 1 -199 1 324 1 -89 1 -244 1 435 1 -18 1 -644 1 -141 1 322 1 219 1 96 1 -57 1 -137 1 198 1 -51 1 -233 1 124 1 177 1 -344 1 2 1 -41 1 455 1 -156 1 33 1 -239 1 67 1 239 1 -288 1 277 1 -228 1 -1 1 107 1 56 1 162 1 -386 1 369 1 -444 1 -17 1 -241 1 543 1 111 1 -469 1 151 1 12 1 -222 1 277 1 39 1 -133 1 -84 1 191 1 76 1 -329 1 217 1 107 1 -535 1 497 1 222 1 -474 1 409 1 -250 1 141 1 -119 1 -151 1 -88 1 638 1 -579 1 167 1 263 1 -173 1 -19 1 -338 1 218 1 -108 1 -73 1 334 1 71 1 -243 1 18 1 166 1 70 1 -296 1 342 1 -34 1 -143 1 -172 1 260 1 20 1 168 1 -368 1 348 1 -309 1 143 1 -103 1 33 1 226 1 -350 1 248 1 -179 1 39 1 -112 1 152 1 -369 1 294 1 217 1 -27 1 -422 1 87 1 122 1 391 1 -393 1 73 1 -40 1 95 1 -211 1 206 1 40 1 101 1 -340 1 316 1 182 1 -200 1 -16 1 -563 1 683 1 109 1 -126 1 -130 1 60 1 399 1 -681 1 58 1 281 1 -157 1 -450 1 444 1 24 1 -236 1 244 1 -24 1 -376 1 426 1 301 1 -74 1 -526 1 -34 1 253 1 41 1 -298 1 112 1 385 1 -203 1 149 1 -198 1 197 1 -288 1 2 1 -79 1 -177 1 281 1 -180 1 166 1 117 1 6 1 44 1 -152 1 66 1 235 1 -252 1 35 1 -478 1 261 1 430 1 -388 1 -42 1 410 1 -439 1 444 1 -217 1 -106 1 -292 1 691 1 -643 1 118 1 419 1 -423 1 367 1 -114 1 -49 1 -168 1 85 1 201 1 -271 1 351 1 -84 1 68 1 -69 1 76 1 -41 1 103 1 -104 1 -13 1 -294 1 -196 1 425 1 223 1 -467 1 -168 1 261 1 227 1 127 1 -301 1 -223 1 288 1 193 1 -191 1 282 1 -403 1 367 1 205 1 -710 1 31 1 417 1 684 1 -722 1 -149 1 370 1 -396 1 -422 1 184 1 647 1 -854 1 72 1 635 1 -191 1 301 1 -646 1 92 1 111 1 -247 1 280 1 17 1 287 1 -265 1 -87 1 247 1 164 1 -20 1 -207 1 -177 1 -25 1 -218 1 362 1 -25 1 440 1 -378 1 135 1 140 1 -802 1 309 1 101 1 88 1 -309 1 487 1 11 1 -99 1 40 1 -419 1 519 1 -404 1 -290 1 458 1 66 1 -244 1 -210 1 112 1 214 1 -497 1 741 1 -10 1 -239 1 245 1 -242 1 -190 1 344 1 -15 1 -283 1 -88 1 82 1 393 1 -269 1 565 1 -630 1 227 1 -51 1 -98 1 188 1 -298 1 139 1 -194 1 -170 1 384 1 -207 1 -28 1 321 1 -127 1 93 1 225 1 -261 1 45 1 -275 1 338 1 3 1 -313 1 282 1 -54 1 -87 1 51 1 390 1 -510 1 54 1 73 1 -46 1 -273 1 415 1 48 1 140 1 -389 1 -117 1 326 1 -286 1 176 1 -69 1 106 1 -112 1 205 1 -290 1 600 1 -287 1 -259 1 -62 1 146 1 -52 1 -65 1 421 1 -78 1 -394 1 319 1 -105 1 151 1 -286 1 571 1 -418 1 400 1 -512 1 381 1 -303 1 377 1 -391 1 -187 1 -4 1 95 1 272 1 -48 1 -55 1 213 1 134 1 -599 1 458 1 305 1 -674 1 12 1 229 1 -39 1 -182 1 113 1 408 1 -168 1 -414 1 -216 1 142 1 316 1 -237 1 -13 1 389 1 -250 1 -23 1 151 1 313 1 -287 1 97 1 -151 1 381 1 -719 1 31 1 159 1 656 1 -126 1 -692 1 162 1 260 1 -130 1 212 1 -368 1 -312 1 596 1 162 1 -736 1 -95 1 372 1 -373 1 595 1 -420 1 500 1 -287 1 124 1 137 1 -226 1 -215 1 506 1 -624 1 750 1 -524 1 22 1 236 1 5 1 22 1 -507 1 149 1 312 1 7 1 -118 1 352 1 -374 1 281 1 34 1 -185 1 -137 1 235 1 -75 1 41 1 -368 1 328 1 278 1 -464 1 103 1 -92 1 269 1 -706 1 872 1 -259 1 -174 1 116 1 197 1 -177 1 67 1 118 1 -233 1 126 1 162 1 -203 1 -264 1 310 1 275 1 -518 1 169 1 -6 1 100 1 -286 1 86 1 432 1 -278 1 -286 1 303 1 -156 1 314 1 -672 1 363 1 187 1 -479 1 111 1 259 1 -94 1 -73 1 129 1 -362 1 118 1 542 1 -501 1 226 1 -103 1 193 1 -113 1 16 1 160 1 -180 1 -432 1 223 1 440 1 -76 1 -274 1 -289 1 186 1 596 1 -190 1 3 1 -602 1 56 1 161 1 -164 1 312 1 -253 1 328 1 -146 1 -72 1 257 1 -44 1 -68 1 -105 1 66 1 -399 1 -8 1 273 1 173 1 343 1 -289 1 -295 1 107 1 -165 1 258 1 -10 1 11 1 65 1 162 1 -76 1 -387 1 420 1 -390 1 291 1 -60 1 327 1 -368 1 0 1 -37 1 236 1 -115 1 -120 1 230 1 268 1 -105 1 -27 1 -423 1 92 1 53 1 -388 1 712 1 -658 1 383 1 -343 1 285 1 147 1 -64 1 -290 1 44 1 331 1 -209 1 38 1 173 1 -728 1 583 1 211 1 114 1 -233 1 -302 1 363 1 202 1 -551 1 -19 1 126 1 -59 1 -367 1 -74 1 235 1 151 1 247 1 -225 1 165 1 282 1 391 1 -502 1 -445 1 478 1 -242 1 86 1 158 1 -45 1 -528 1 41 1 363 1 114 1 371 1 -392 1 -256 1 -34 1 -63 1 -165 1 -3 1 211 1 183 1 -244 1 222 1 -84 1 15 1 -61 1 215 1 -80 1 -795 1 872 1 -47 1 -220 1 243 1 -273 1 261 1 -322 1 506 1 -107 1 -591 1 246 1 468 1 -96 1 -90 1 -434 1 155 1 291 1 47 1 -108 1 -288 1 214 1 -96 1 -238 1 23 1 107 1 -248 1 707 1 109 1 46 1 -606 1 11 1 361 1 -257 1 56 1 0 1 -462 1 1026 1 -962 1 -47 1 840 1 -671 1 761 1 -255 1 6 1 -255 1 -354 1 80 1 440 1 -72 1 -372 1 26 1 95 1 268 1 165 1 151 1 -415 1 580 1 -229 1 242 1 -751 1 462 1 157 1 -899 1 845 1 -160 1 152 1 -226 1 293 1 -470 1 -28 1 364 1 -1 1 -595 1 725 1 -7 1 -43 1 -492 1 556 1 -208 1 112 1 -270 1 -102 1 -73 1 27 1 397 1 -433 1 43 1 239 1 -149 1 -444 1 349 1 74 1 476 1 -229 1 -396 1 -25 1 155 1 160 1 -236 1 285 1 -427 1 401 1 194 1 -867 1 592 1 63 1 42 1 -77 1 -35 1 74 1 -37 1 -4 1 304 1 -112 1 -22 1 -317 1 31 1 310 1 -418 1 404 1 -455 1 663 1 -170 1 -337 1 18 1 -285 1 361 1 219 1 -104 1 -151 1 389 1 -251 1 -25 1 -116 1 143 1 327 1 -350 1 -333 1 296 1 260 1 -113 1 -258 1 130 1 -268 1 309 1 -219 1 51 1 -4 1 -19 1 333 1 -32 1 -240 1 51 1 209 1 -259 1 -20 1 -51 1 309 1 -179 1 -19 1 -53 1 -58 1 225 1 -207 1 30 1 -134 1 68 1 69 1 4 1 -115 1 102 1 54 1 -276 1 356 1 -95 1 -117 1 118 1 78 1 -48 1 5 1 -3 1 70 1 -219 1 84 1 106 1 -39 1 -118 1 85 1 -46 1 79 1 -185 1 4 1 19 1 145 1 297 1 -168 1 29 1 -141 1 187 1 -145 1 -35 1 124 1 -279 1 -120 1 121 1 324 1 -63 1 -90 1 -54 1 8 1 74 1 -166 1 219 1 -236 1 316 1 -230 1 -81 1 88 1 -89 1 110 1 -236 1 185 1 81 1 46 1 -114 1 238 1 -433 1 220 1 -41 1 73 1 -40 1 262 1 -221 1 -151 1 564 1 -406 1 -33 1 176 1 -249 1 62 1 187 1 -351 1 125 1 242 1 151 1 -329 1 -4 1 209 1 -450 1 137 1 -18 1 -227 1 -152 1 447 1 239 1 -43 1 109 1 -730 1 472 1 272 1 -404 1 -81 1 305 1 -61 1 116 1 -119 1 232 1 -102 1 -80 1 -117 1 201 1 -253 1 300 1 36 1 -37 1 -411 1 318 1 -13 1 93 1 -450 1 178 1 98 1 275 1 -371 1 279 1 -140 1 338 1 -303 1 -364 1 251 1 100 1 190 1 -112 1 -177 1 -182 1 242 1 -29 1 271 1 -75 1 -431 1 -167 1 351 1 126 1 -228 1 84 1 315 1 -83 1 -455 1 383 1 -34 1 -67 1 144 1 5 1 356 1 -423 1 -180 1 44 1 230 1 234 1 568 1 -834 1 -51 1 -136 1 100 1 -250 1 382 1 -53 1 -56 1 -205 1 118 1 -61 1 173 1 -116 1 129 1 114 1 69 1 -460 1 139 1 -155 1 481 1 -432 1 454 1 -383 1 320 1 -329 1 67 1 74 1 -8 1 -50 1 171 1 110 1 -71 1 -282 1 -286 1 410 1 -619 1 736 1 -11 1 -386 1 377 1 -261 1 405 1 -428 1 -14 1 37 1 186 1 -266 1 688 1 -550 1 441 1 -425 1 -7 1 -84 1 -11 1 252 1 156 1 -226 1 -206 1 226 1 -204 1 -379 1 564 1 -372 1 221 1 135 1 -90 1 27 1 353 1 -116 1 104 1 -250 1 2 1 296 1 -459 1 181 1 -38 1 29 1 57 1 -90 1 126 1 -304 1 246 1 -283 1 386 1 -19 1 -215 1 -55 1 86 1 104 1 -372 1 92 1 344 1 -203 1 -189 1 -166 1 313 1 -231 1 329 1 -37 1 335 1 -540 1 328 1 -318 1 28 1 142 1 -113 1 464 1 -326 1 -121 1 528 1 -536 1 72 1 28 1 -99 1 237 1 102 1 -428 1 137 1 17 1 -178 1 12 1 164 1 -95 1 214 1 89 1 -112 1 17 1 -213 1 55 1 174 1 33 1 -118 1 112 1 -143 1 -166 1 267 1 -135 1 -234 1 466 1 -84 1 64 1 -225 1 361 1 -184 1 91 1 -297 1 63 1 294 1 -239 1 10 1 268 1 -61 1 -167 1 305 1 -613 1 258 1 -87 1 366 1 21 1 -370 1 114 1 143 1 -74 1 -45 1 131 1 171 1 -324 1 -216 1 177 1 14 1 -59 1 191 1 7 1 32 1 -75 1 -37 1 -223 1 120 1 -88 1 204 1 -74 1 14 1 97 1 -138 1 231 1 -3 1 -333 1 378 1 -274 1 -61 1 68 1 -153 1 261 1 140 1 -437 1 313 1 26 1 13 1 -2 1 -32 1 -142 1 215 1 -87 1 74 1 -75 1 -89 1 35 1 103 1 68 1 -461 1 98 1 -56 1 176 1 -20 1 138 1 -79 1 262 1 -311 1 -13 1 -18 1 84 1 76 1 -104 1 -71 1 -68 1 250 1 -118 1 -70 1 116 1 96 1 278 1 -68 1 -411 1 71 1 -251 1 -2 1 17 1 461 1 -180 1 -222 1 134 1 26 1 -28 1 364 1 -584 1 254 1 120 1 41 1 -467 1 415 1 -261 1 121 1 -185 1 431 1 432 1 -389 1 -241 1 -269 1 484 1 61 1 -428 1 381 1 -515 1 99 1 266 1 -289 1 402 1 129 1 -259 1 82 1 215 1 -210 1 153 1 27 1 -485 1 630 1 -196 1 -199 1 130 1 -99 1 -17 1 -235 1 114 1 13 1 267 1 -115 1 -15 1 -96 1 250 1 -671 1 279 1 330 1 -242 1 185 1 161 1 -137 1 -388 1 212 1 -157 1 273 1 91 1 -210 1 122 1 -116 1 336 1 -284 1 15 1 51 1 75 1 -57 1 -111 1 13 1 67 1 11 1 -143 1 -30 1 50 1 100 1 -130 1 -88 1 107 1 -20 1 153 1 -154 1 16 1 311 1 -194 1 -183 1 284 1 -207 1 -58 1 192 1 -269 1 178 1 83 1 23 1 -163 1 4 1 54 1 170 1 -393 1 345 1 -68 1 147 1 -336 1 307 1 -273 1 160 1 -94 1 -293 1 340 1 66 1 70 1 -218 1 -81 1 283 1 -162 1 219 1 61 1 -259 1 10 1 -90 1 -217 1 336 1 125 1 60 1 -185 1 330 1 -418 1 90 1 -95 1 19 1 30 1 -78 1 50 1 138 1 -34 1 -233 1 312 1 -274 1 265 1 -81 1 -439 1 190 1 445 1 -362 1 -5 1 48 1 126 1 108 1 -207 1 480 1 -550 1 24 1 67 1 85 1 318 1 219 1 -665 1 40 1 201 1 -191 1 250 1 -494 1 490 1 -787 1 704 1 37 1 477 1 -897 1 421 1 -13 1 -417 1 312 1 -286 1 -86 1 -92 1 335 1 -217 1 -269 1 613 1 -517 1 618 1 -117 1 -274 1 -194 1 172 1 -115 1 245 1 2 1 726 1 -1167 1 381 1 290 1 116 1 81 1 -590 1 449 1 -934 1 672 1 272 1 -38 1 -539 1 145 1 -345 1 362 1 -166 1 427 1 -271 1 352 1 -185 1 -59 1 545 1 -155 1 -656 1 714 1 -164 1 150 1 -233 1 -608 1 381 1 -561 1 280 1 195 1 542 1 -338 1 50 1 148 1 -461 1 570 1 -250 1 -341 1 111 1 97 1 252 1 242 1 -511 1 26 1 602 1 247 1 -240 1 -480 1 -166 1 317 1 -114 1 -334 1 658 1 361 1 -1035 1 18 1 87 1 -232 1 643 1 -696 1 653 1 -83 1 109 1 -683 1 500 1 39 1 187 1 -154 1 -288 1 520 1 69 1 -8 1 -622 1 374 1 -411 1 212 1 263 1 -615 1 1173 1 -434 1 -542 1 56 1 134 1 -16 1 -279 1 284 1 -363 1 242 1 613 1 -470 1 -79 1 481 1 -306 1 73 1 -281 1 388 1 -328 1 273 1 -52 1 241 1 -164 1 -221 1 -229 1 168 1 -82 1 478 1 -421 1 -383 1 558 1 88 1 -350 1 329 1 -405 1 313 1 -80 1 94 1 23 1 -214 1 288 1 -253 1 119 1 251 1 -450 1 191 1 291 1 -64 1 -370 1 12 1 222 1 -229 1 139 1 -273 1 380 1 -425 1 330 1 107 1 -260 1 -170 1 56 1 -124 1 711 1 -719 1 124 1 315 1 -55 1 193 1 57 1 -170 1 -102 1 -99 1 75 1 228 1 -67 1 3 1 -473 1 188 1 14 1 31 1 -110 1 369 1 82 1 166 1 -506 1 92 1 43 1 -23 1 -186 1 369 1 -644 1 352 1 -334 1 593 1 -474 1 54 1 270 1 -248 1 312 1 -155 1 577 1 -782 1 97 1 345 1 -112 1 84 1 -187 1 317 1 -154 1 252 1 -692 1 418 1 -125 1 165 1 -359 1 473 1 -581 1 603 1 -91 1 -647 1 609 1 -668 1 718 1 -622 1 440 1 -57 1 -396 1 -65 1 687 1 -288 1 461 1 -333 1 829 1 -761 1 472 1 -420 1 -78 1 135 1 -383 1 31 1 688 1 -551 1 -284 1 495 1 -401 1 274 1 317 1 49 1 161 1 -193 1 -156 1 -32 1 -74 1 -101 1 700 1 -710 1 531 1 -542 1 402 1 -1218 1 899 1 -229 1 649 1 -20 1 -624 1 161 1 286 1 -177 1 -57 1 244 1 -632 1 805 1 -317 1 -909 1 538 1 228 1 634 1 -613 1 -398 1 766 1 -257 1 -106 1 272 1 -368 1 71 1 278 1 -140 1 129 1 -325 1 492 1 -735 1 14 1 436 1 -186 1 116 1 -36 1 -43 1 -197 1 299 1 217 1 -463 1 581 1 -70 1 -506 1 344 1 -393 1 200 1 -195 1 114 1 -258 1 332 1 -173 1 30 1 -207 1 385 1 354 1 -432 1 40 1 -189 1 127 1 -74 1 -133 1 127 1 70 1 154 1 -123 1 115 1 190 1 -69 1 -255 1 -256 1 298 1 51 1 173 1 -164 1 506 1 -596 1 187 1 -302 1 -17 1 134 1 95 1 95 1 -749 1 833 1 72 1 -29 1 -97 1 -193 1 137 1 150 1 -465 1 339 1 -34 1 -136 1 412 1 -533 1 -65 1 203 1 -130 1 441 1 -681 1 75 1 375 1 102 1 -459 1 596 1 -783 1 720 1 -473 1 102 1 565 1 -465 1 -148 1 223 1 421 1 -466 1 -217 1 252 1 -378 1 142 1 29 1 322 1 -303 1 259 1 178 1 117 1 -888 1 446 1 -301 1 494 1 -110 1 -74 1 -146 1 -122 1 -203 1 741 1 -326 1 63 1 79 1 127 1 293 1 -556 1 223 1 -613 1 332 1 -85 1 22 1 480 1 -284 1 -11 1 3 1 -80 1 1 1 -112 1 30 1 28 1 64 1 -435 1 498 1 -26 1 113 1 -382 1 48 1 423 1 -369 1 289 1 -276 1 -125 1 -61 1 202 1 33 1 -177 1 621 1 -329 1 -212 1 552 1 -155 1 -364 1 -62 1 193 1 208 1 -483 1 577 1 -347 1 277 1 -222 1 144 1 37 1 149 1 -462 1 603 1 -734 1 368 1 85 1 -151 1 202 1 -586 1 367 1 247 1 -233 1 -267 1 302 1 7 1 -282 1 553 1 -445 1 -121 1 276 1 -185 1 112 1 105 1 -160 1 246 1 -72 1 225 1 -541 1 260 1 46 1 7 1 -580 1 250 1 340 1 60 1 -132 1 36 1 253 1 -384 1 -99 1 544 1 -213 1 -186 1 -131 1 550 1 -446 1 -127 1 490 1 -644 1 310 1 178 1 -209 1 -53 1 216 1 -373 1 225 1 208 1 -399 1 539 1 -346 1 28 1 -85 1 220 1 -217 1 142 1 207 1 -8 1 -544 1 561 1 -359 1 152 1 -38 1 32 1 -164 1 219 1 77 1 -292 1 103 1 149 1 43 1 -133 1 -12 1 36 1 -140 1 113 1 -103 1 -12 1 -330 1 90 1 357 1 60 1 -48 1 -57 1 -66 1 139 1 -156 1 63 1 238 1 -460 1 125 1 57 1 -272 1 118 1 365 1 -89 1 -107 1 233 1 -372 1 476 1 -327 1 -90 1 285 1 -96 1 -55 1 -55 1 -289 1 -50 1 358 1 168 1 -308 1 155 1 -296 1 13 1 256 1 136 1 11 1 85 1 -365 1 116 1 176 1 -335 1 135 1 58 1 -3 1 173 1 -86 1 -166 1 -368 1 610 1 42 1 -94 1 -30 1 18 1 150 1 -336 1 88 1 -182 1 153 1 -119 1 2 1 -227 1 371 1 221 1 -799 1 851 1 -258 1 -127 1 196 1 -108 1 34 1 289 1 -240 1 37 1 -118 1 18 1 -133 1 145 1 -118 1 348 1 -247 1 174 1 98 1 -50 1 -296 1 411 1 -619 1 578 1 -684 1 281 1 144 1 -108 1 -237 1 109 1 294 1 -327 1 391 1 85 1 34 1 -180 1 -47 1 -57 1 508 1 -249 1 -91 1 -46 1 122 1 -480 1 445 1 -227 1 -272 1 538 1 -292 1 188 1 -184 1 54 1 323 1 -204 1 11 1 -316 1 398 1 -250 1 181 1 -243 1 225 1 30 1 -332 1 294 1 -203 1 360 1 -148 1 -54 1 523 1 -386 1 -215 1 222 1 -105 1 192 1 -425 1 542 1 -455 1 22 1 -69 1 82 1 430 1 -337 1 -249 1 182 1 80 1 145 1 -263 1 107 1 582 1 -651 1 53 1 -286 1 468 1 -311 1 519 1 -142 1 -90 1 -302 1 37 1 -13 1 111 1 -104 1 -48 1 155 1 -31 1 -89 1 325 1 35 1 -410 1 693 1 -452 1 220 1 171 1 -863 1 506 1 109 1 76 1 -110 1 59 1 -673 1 148 1 407 1 -698 1 398 1 96 1 150 1 141 1 -178 1 -287 1 -34 1 366 1 46 1 -57 1 -63 1 -9 1 -406 1 368 1 212 1 -508 1 417 1 69 1 433 1 -633 1 -48 1 -247 1 33 1 -131 1 -35 1 617 1 -174 1 76 1 -451 1 -101 1 64 1 796 1 -118 1 -572 1 333 1 15 1 -259 1 78 1 352 1 -52 1 39 1 -125 1 -44 1 82 1 -139 1 385 1 -305 1 66 1 -129 1 -119 1 127 1 -57 1 -93 1 322 1 235 1 -339 1 -77 1 -119 1 -142 1 398 1 -8 1 -257 1 165 1 -174 1 425 1 -244 1 61 1 232 1 -720 1 481 1 -26 1 -99 1 55 1 218 1 -337 1 2 1 420 1 -125 1 -93 1 57 1 -124 1 -66 1 27 1 81 1 -135 1 -198 1 251 1 80 1 -73 1 142 1 -65 1 120 1 -148 1 -52 1 134 1 56 1 -236 1 -74 1 395 1 -334 1 162 1 -151 1 124 1 214 1 51 1 -538 1 -22 1 -335 1 699 1 170 1 -229 1 -96 1 197 1 -308 1 279 1 124 1 -20 1 -93 1 -213 1 32 1 -103 1 492 1 -108 1 -231 1 -1 1 55 1 -158 1 208 1 -4 1 -11 1 -66 1 -442 1 401 1 -209 1 -48 1 673 1 -465 1 52 1 -19 1 -93 1 422 1 -593 1 400 1 -184 1 324 1 -72 1 -135 1 -279 1 406 1 36 1 -55 1 -172 1 169 1 -258 1 190 1 24 1 -113 1 -143 1 145 1 -125 1 -62 1 436 1 -234 1 -71 1 -1 1 192 1 -155 1 -81 1 202 1 -28 1 -224 1 -41 1 519 1 -350 1 334 1 -137 1 -154 1 -40 1 441 1 -542 1 58 1 -111 1 166 1 -207 1 276 1 -370 1 478 1 -50 1 -34 1 -227 1 526 1 214 1 -614 1 -192 1 424 1 -262 1 111 1 162 1 -652 1 680 1 -588 1 -72 1 287 1 636 1 -727 1 381 1 -489 1 546 1 -108 1 296 1 -348 1 -62 1 -667 1 775 1 170 1 -213 1 -6 1 137 1 111 1 -644 1 299 1 180 1 -65 1 -437 1 -373 1 832 1 143 1 337 1 -450 1 -457 1 462 1 -198 1 -200 1 -264 1 -136 1 393 1 98 1 164 1 -16 1 69 1 547 1 -646 1 457 1 -684 1 20 1 62 1 -382 1 1033 1 -420 1 132 1 288 1 -369 1 328 1 -1119 1 1016 1 -272 1 -235 1 445 1 -288 1 -195 1 -331 1 985 1 -1153 1 701 1 385 1 -241 1 -320 1 90 1 -84 1 206 1 -78 1 -282 1 -37 1 592 1 -543 1 34 1 757 1 -691 1 -104 1 77 1 370 1 -324 1 129 1 -454 1 353 1 134 1 2 1 289 1 -197 1 -688 1 259 1 147 1 117 1 67 1 110 1 -449 1 -98 1 573 1 -341 1 -260 1 266 1 97 1 -146 1 7 1 409 1 -393 1 260 1 -18 1 -106 1 499 1 -686 1 732 1 -661 1 129 1 105 1 149 1 -77 1 -194 1 0 1 277 1 61 1 -371 1 314 1 -118 1 -57 1 -244 1 -32 1 308 1 -586 1 415 1 168 1 -384 1 604 1 6 1 -502 1 175 1 -4 1 -80 1 9 1 185 1 225 1 -301 1 4 1 5 1 -159 1 255 1 -220 1 -99 1 327 1 -505 1 272 1 21 1 53 1 -293 1 120 1 169 1 158 1 -152 1 -21 1 -137 1 186 1 -628 1 768 1 75 1 -224 1 -222 1 538 1 -473 1 480 1 -386 1 -120 1 133 1 -117 1 127 1 167 1 -191 1 -51 1 111 1 103 1 -98 1 136 1 10 1 -75 1 109 1 -178 1 286 1 -187 1 110 1 -263 1 -320 1 252 1 127 1 86 1 -106 1 392 1 -719 1 -125 1 413 1 -131 1 186 1 164 1 534 1 -1049 1 65 1 262 1 -357 1 181 1 509 1 -334 1 7 1 281 1 -697 1 452 1 -42 1 77 1 -304 1 136 1 78 1 196 1 -340 1 308 1 -630 1 586 1 77 1 -376 1 137 1 63 1 64 1 199 1 -221 1 -90 1 6 1 100 1 107 1 -111 1 -169 1 44 1 -94 1 -19 1 82 1 -19 1 280 1 -407 1 262 1 -258 1 407 1 -102 1 196 1 -147 1 -322 1 218 1 -137 1 22 1 -103 1 146 1 83 1 25 1 478 1 -557 1 53 1 -39 1 -35 1 -10 1 77 1 -56 1 205 1 -66 1 -296 1 201 1 71 1 -136 1 10 1 31 1 167 1 -102 1 -173 1 119 1 313 1 -537 1 397 1 -224 1 823 1 -599 1 -148 1 -43 1 -372 1 263 1 674 1 -440 1 -175 1 76 1 14 1 -278 1 296 1 114 1 -563 1 350 1 -713 1 298 1 723 1 119 1 186 1 -926 1 356 1 -75 1 418 1 -221 1 -73 1 158 1 -320 1 432 1 -398 1 437 1 -278 1 14 1 -411 1 -124 1 -8 1 620 1 -792 1 1054 1 -507 1 -302 1 501 1 -468 1 377 1 -90 1 430 1 -89 1 11 1 -409 1 498 1 -384 1 54 1 92 1 -50 1 -447 1 549 1 -615 1 564 1 -147 1 39 1 -315 1 558 1 -303 1 261 1 -412 1 4 1 204 1 247 1 -603 1 190 1 19 1 60 1 -48 1 386 1 -95 1 -170 1 200 1 41 1 -394 1 -25 1 334 1 328 1 -1040 1 406 1 323 1 -365 1 386 1 -149 1 -344 1 184 1 194 1 -293 1 341 1 -64 1 -140 1 158 1 -171 1 131 1 -276 1 546 1 -379 1 319 1 217 1 -126 1 -355 1 39 1 -45 1 78 1 -252 1 -217 1 470 1 -60 1 322 1 59 1 -689 1 95 1 371 1 87 1 -228 1 -12 1 -407 1 884 1 -633 1 267 1 -44 1 -255 1 363 1 124 1 -307 1 41 1 105 1 66 1 -22 1 -349 1 -7 1 78 1 -420 1 273 1 224 1 -91 1 -34 1 340 1 -105 1 94 1 -188 1 -45 1 -83 1 211 1 -380 1 178 1 268 1 48 1 -163 1 -191 1 306 1 -227 1 109 1 -143 1 479 1 -55 1 -396 1 -50 1 188 1 114 1 104 1 -214 1 -189 1 249 1 -4 1 -287 1 209 1 -4 1 -99 1 181 1 123 1 -6 1 -275 1 45 1 185 1 -146 1 -2 1 362 1 -670 1 270 1 -24 1 107 1 240 1 -251 1 -18 1 59 1 -60 1 90 1 283 1 -421 1 64 1 17 1 -261 1 349 1 -85 1 -242 1 217 1 56 1 -134 1 251 1 -211 1 -111 1 288 1 -118 1 35 1 -218 1 30 1 47 1 107 1 3 1 188 1 22 1 -175 1 -28 1 250 1 -230 1 120 1 -187 1 49 1 -22 1 -52 1 135 1 -151 1 91 1 67 1 217 1 -511 1 253 1 75 1 -128 1 158 1 -45 1 -5 1 -121 1 26 1 -2 1 -103 1 156 1 -168 1 15 1 -65 1 344 1 -233 1 -47 1 237 1 -173 1 107 1 -74 1 77 1 -26 1 -347 1 536 1 -70 1 -365 1 347 1 -166 1 50 1 172 1 -42 1 -3 1 156 1 -141 1 -255 1 -103 1 320 1 -387 1 205 1 -2 1 -53 1 315 1 -160 1 -85 1 175 1 -207 1 255 1 132 1 -345 1 -6 1 210 1 -499 1 111 1 35 1 -98 1 262 1 48 1 -53 1 -1 1 152 1 26 1 30 1 -229 1 26 1 246 1 -179 1 153 1 -304 1 73 1 -102 1 106 1 75 1 -148 1 409 1 -584 1 398 1 -333 1 236 1 -182 1 143 1 0 1 -148 1 -71 1 86 1 124 1 132 1 133 1 -557 1 364 1 -154 1 79 1 51 1 79 1 -65 1 -71 1 264 1 -213 1 -48 1 191 1 -379 1 35 1 389 1 -269 1 -258 1 419 1 66 1 -320 1 -87 1 203 1 66 1 -154 1 -52 1 232 1 0 1 -338 1 74 1 127 1 -48 1 133 1 47 1 208 1 -233 1 86 1 -385 1 136 1 269 1 -386 1 428 1 -121 1 -64 1 -39 1 -159 1 14 1 83 1 14 1 253 1 -344 1 59 1 -171 1 293 1 -26 1 169 1 126 1 -212 1 -215 1 166 1 9 1 -54 1 -159 1 222 1 -246 1 177 1 -35 1 -364 1 509 1 246 1 -404 1 -42 1 252 1 -369 1 219 1 37 1 -136 1 82 1 -133 1 44 1 214 1 -264 1 50 1 -22 1 208 1 -154 1 -86 1 209 1 -416 1 16 1 392 1 288 1 -432 1 153 1 -322 1 281 1 14 1 72 1 -256 1 526 1 -571 1 488 1 -512 1 371 1 112 1 171 1 -467 1 -315 1 511 1 -321 1 -78 1 101 1 -69 1 355 1 -123 1 107 1 40 1 -274 1 240 1 112 1 146 1 -377 1 -97 1 -151 1 120 1 91 1 54 1 -361 1 211 1 46 1 -91 1 -3 1 218 1 -304 1 332 1 -356 1 297 1 -308 1 534 1 -105 1 138 1 -504 1 -111 1 -1 1 252 1 294 1 -82 1 -8 1 -437 1 528 1 -79 1 -292 1 -458 1 402 1 153 1 391 1 -310 1 -64 1 378 1 -7 1 -268 1 56 1 144 1 -449 1 256 1 -187 1 -120 1 328 1 136 1 168 1 -242 1 80 1 -288 1 -282 1 188 1 218 1 -205 1 518 1 -144 1 -290 1 395 1 -222 1 198 1 -364 1 193 1 -202 1 49 1 220 1 146 1 -343 1 33 1 -221 1 126 1 132 1 -320 1 151 1 -122 1 237 1 123 1 -97 1 -109 1 -127 1 -105 1 286 1 260 1 -308 1 35 1 -63 1 -115 1 371 1 -60 1 -368 1 38 1 440 1 -375 1 141 1 -162 1 223 1 -181 1 31 1 -84 1 495 1 115 1 -389 1 74 1 -16 1 -92 1 -15 1 -44 1 190 1 -336 1 66 1 261 1 -360 1 520 1 -325 1 79 1 198 1 -238 1 32 1 -128 1 196 1 33 1 -282 1 278 1 59 1 -92 1 -224 1 312 1 81 1 -346 1 -253 1 211 1 138 1 242 1 -17 1 -97 1 -255 1 272 1 -149 1 -199 1 -150 1 549 1 -521 1 575 1 208 1 -452 1 -181 1 42 1 -9 1 221 1 128 1 -364 1 88 1 -67 1 377 1 -37 1 -379 1 112 1 98 1 -406 1 261 1 140 1 -318 1 334 1 -35 1 -121 1 321 1 -397 1 275 1 -137 1 270 1 -374 1 274 1 2 1 101 1 90 1 -602 1 277 1 -194 1 395 1 75 1 -318 1 103 1 202 1 -210 1 -62 1 -276 1 171 1 310 1 -446 1 319 1 -13 1 -42 1 147 1 -280 1 389 1 -333 1 266 1 -292 1 155 1 -109 1 369 1 -498 1 76 1 376 1 -118 1 -153 1 -40 1 -187 1 183 1 113 1 153 1 -49 1 90 1 -192 1 -198 1 65 1 337 1 -257 1 235 1 -543 1 198 1 -60 1 195 1 -193 1 -100 1 229 1 -412 1 315 1 188 1 -293 1 203 1 -156 1 100 1 108 1 41 1 -6 1 -222 1 426 1 -225 1 -186 1 377 1 -330 1 444 1 -211 1 -179 1 -72 1 -68 1 9 1 96 1 309 1 -223 1 -51 1 96 1 -142 1 -182 1 -42 1 554 1 -326 1 363 1 55 1 -312 1 93 1 -216 1 43 1 40 1 -18 1 281 1 -299 1 184 1 -145 1 92 1 222 1 -622 1 497 1 -329 1 150 1 -100 1 -25 1 -162 1 -239 1 877 1 -233 1 -202 1 -293 1 455 1 161 1 -205 1 -385 1 213 1 142 1 -61 1 217 1 -380 1 59 1 -340 1 667 1 -91 1 -199 1 -257 1 501 1 -430 1 27 1 -123 1 92 1 91 1 -28 1 417 1 -75 1 -120 1 -125 1 102 1 -249 1 335 1 -259 1 82 1 165 1 -235 1 -101 1 470 1 -533 1 86 1 19 1 88 1 114 1 -614 1 542 1 379 1 -41 1 -60 1 -195 1 61 1 -155 1 -226 1 410 1 148 1 -159 1 -66 1 185 1 -113 1 167 1 -321 1 -288 1 479 1 84 1 -350 1 214 1 100 1 -720 1 1081 1 -348 1 -204 1 -199 1 -89 1 1030 1 -768 1 217 1 -288 1 71 1 209 1 -338 1 182 1 -26 1 144 1 80 1 -218 1 330 1 -392 1 19 1 99 1 -71 1 216 1 -762 1 230 1 -83 1 745 1 -120 1 -316 1 226 1 -448 1 303 1 374 1 -175 1 307 1 -544 1 344 1 -218 1 44 1 -12 1 109 1 119 1 -268 1 67 1 -101 1 81 1 -229 1 378 1 -62 1 -78 1 -70 1 -135 1 -57 1 -36 1 68 1 354 1 -102 1 -383 1 95 1 477 1 68 1 -169 1 264 1 -580 1 234 1 -221 1 588 1 -367 1 -1 1 -10 1 -216 1 129 1 -456 1 377 1 -112 1 364 1 112 1 -215 1 -262 1 -13 1 369 1 -201 1 1 1 -162 1 264 1 -8 1 118 1 -343 1 179 1 -274 1 325 1 -43 1 -73 1 250 1 -426 1 552 1 -223 1 33 1 -58 1 -190 1 28 1 291 1 -185 1 64 1 -127 1 227 1 -38 1 -368 1 620 1 -174 1 -40 1 -96 1 -74 1 174 1 328 1 -507 1 -189 1 201 1 20 1 166 1 -408 1 148 1 23 1 244 1 27 1 -172 1 165 1 -182 1 0 1 -455 1 265 1 -43 1 301 1 -72 1 -222 1 216 1 -33 1 99 1 -181 1 -31 1 376 1 -289 1 253 1 -376 1 131 1 -19 1 -128 1 335 1 -406 1 311 1 -467 1 558 1 -128 1 215 1 176 1 -533 1 138 1 -253 1 162 1 102 1 -4 1 146 1 -56 1 95 1 -324 1 162 1 -233 1 172 1 -512 1 526 1 31 1 -103 1 13 1 -262 1 212 1 11 1 167 1 49 1 -183 1 61 1 101 1 -253 1 389 1 209 1 -337 1 -175 1 144 1 196 1 21 1 -536 1 342 1 -212 1 58 1 144 1 52 1 -161 1 -113 1 130 1 -164 1 552 1 -662 1 433 1 -99 1 -21 1 -214 1 113 1 29 1 -42 1 60 1 71 1 -114 1 180 1 60 1 -261 1 258 1 -138 1 -127 1 209 1 130 1 -291 1 -310 1 532 1 43 1 -429 1 198 1 119 1 -569 1 631 1 -12 1 16 1 137 1 -513 1 404 1 269 1 -916 1 378 1 215 1 -287 1 -227 1 435 1 -30 1 -184 1 198 1 136 1 17 1 -120 1 -338 1 188 1 -402 1 248 1 248 1 77 1 -117 1 2 1 -394 1 137 1 26 1 112 1 -3 1 563 1 -239 1 -413 1 72 1 24 1 -9 1 12 1 -310 1 649 1 -100 1 -7 1 -109 1 71 1 -165 1 -329 1 425 1 -21 1 -274 1 -189 1 688 1 -442 1 166 1 -102 1 491 1 -657 1 525 1 -745 1 718 1 -296 1 -367 1 482 1 -28 1 -321 1 409 1 -81 1 106 1 -392 1 135 1 -47 1 228 1 -137 1 -99 1 498 1 -401 1 341 1 -54 1 -328 1 -236 1 429 1 100 1 104 1 -165 1 9 1 -225 1 -20 1 836 1 -441 1 -528 1 349 1 33 1 -483 1 323 1 182 1 233 1 -9 1 -421 1 8 1 -30 1 144 1 132 1 -396 1 179 1 -85 1 -38 1 54 1 477 1 -18 1 -59 1 -631 1 397 1 422 1 -401 1 -227 1 261 1 -169 1 -29 1 129 1 41 1 -125 1 29 1 -190 1 185 1 141 1 -116 1 -50 1 -230 1 463 1 -406 1 322 1 -180 1 198 1 39 1 -228 1 -449 1 167 1 175 1 8 1 196 1 267 1 -210 1 -126 1 229 1 -237 1 159 1 -74 1 -346 1 434 1 115 1 -310 1 160 1 -36 1 -112 1 -15 1 190 1 -225 1 14 1 187 1 11 1 83 1 -286 1 -100 1 320 1 -343 1 146 1 25 1 251 1 -219 1 -158 1 151 1 172 1 -397 1 63 1 292 1 -113 1 -141 1 100 1 34 1 -149 1 71 1 244 1 -137 1 95 1 -138 1 -62 1 102 1 -145 1 152 1 -81 1 2 1 2 1 -82 1 280 1 -350 1 211 1 -184 1 268 1 -139 1 49 1 35 1 -14 1 -21 1 22 1 -2 1 -100 1 19 1 7 1 -60 1 22 1 233 1 -349 1 398 1 -283 1 147 1 -80 1 -24 1 96 1 151 1 -239 1 11 1 -68 1 341 1 -112 1 -6 1 -148 1 -267 1 329 1 -316 1 161 1 224 1 -219 1 -15 1 -205 1 404 1 -43 1 -130 1 122 1 -288 1 98 1 166 1 102 1 -136 1 -183 1 111 1 249 1 -268 1 134 1 29 1 -159 1 93 1 -300 1 200 1 101 1 100 1 111 1 -298 1 160 1 -102 1 -112 1 2 1 121 1 11 1 -130 1 601 1 -477 1 121 1 -162 1 536 1 -881 1 330 1 95 1 177 1 -218 1 -166 1 454 1 -160 1 -164 1 1 1 0 1 74 1 -334 1 330 1 -132 1 195 1 -27 1 -245 1 424 1 -104 1 -291 1 -25 1 65 1 179 1 159 1 -373 1 23 1 221 1 -97 1 0 1 -11 1 -34 1 346 1 -129 1 -216 1 263 1 107 1 -236 1 -28 1 -130 1 101 1 16 1 173 1 -358 1 -105 1 177 1 135 1 -361 1 275 1 -90 1 -46 1 187 1 152 1 -368 1 230 1 -57 1 119 1 -93 1 -91 1 218 1 -66 1 -205 1 -134 1 181 1 126 1 79 1 -185 1 26 1 -195 1 185 1 79 1 -96 1 67 1 -121 1 11 1 162 1 -250 1 215 1 163 1 -243 1 10 1 -48 1 -63 1 99 1 -97 1 146 1 -47 1 -83 1 167 1 142 1 -31 1 -157 1 37 1 -152 1 119 1 136 1 15 1 91 1 -436 1 474 1 -183 1 185 1 -243 1 195 1 -200 1 -168 1 224 1 -136 1 78 1 95 1 44 1 -19 1 57 1 -447 1 484 1 -361 1 168 1 -93 1 -139 1 381 1 -360 1 88 1 384 1 -719 1 109 1 518 1 -270 1 241 1 -162 1 -96 1 241 1 -288 1 30 1 163 1 -279 1 -75 1 -50 1 555 1 216 1 -158 1 -398 1 26 1 -106 1 218 1 234 1 -250 1 11 1 -733 1 808 1 -346 1 217 1 143 1 -56 1 144 1 186 1 -890 1 168 1 753 1 -274 1 -282 1 107 1 64 1 246 1 -323 1 75 1 -313 1 658 1 -237 1 -217 1 -203 1 308 1 213 1 338 1 -89 1 -544 1 -10 1 -130 1 338 1 -286 1 313 1 -59 1 22 1 -326 1 496 1 -313 1 -237 1 274 1 50 1 -27 1 207 1 59 1 246 1 -547 1 300 1 -865 1 1012 1 -429 1 290 1 -338 1 175 1 19 1 -279 1 9 1 -523 1 778 1 -161 1 -15 1 323 1 -196 1 -25 1 -473 1 455 1 -99 1 280 1 -325 1 -160 1 219 1 456 1 -596 1 473 1 -320 1 -408 1 581 1 376 1 -413 1 -330 1 185 1 -143 1 799 1 -492 1 -616 1 673 1 -80 1 -309 1 87 1 113 1 373 1 -467 1 -47 1 354 1 -329 1 -85 1 188 1 201 1 -141 1 -108 1 377 1 -9 1 -625 1 93 1 49 1 147 1 81 1 -51 1 31 1 78 1 -358 1 -184 1 510 1 193 1 -214 1 -122 1 197 1 -179 1 -196 1 185 1 231 1 -88 1 71 1 -235 1 208 1 173 1 -347 1 -31 1 338 1 -221 1 -251 1 150 1 341 1 -188 1 294 1 -240 1 -73 1 157 1 -327 1 328 1 -225 1 -32 1 127 1 -169 1 -130 1 45 1 279 1 -43 1 -42 1 125 1 -318 1 96 1 406 1 -513 1 443 1 -308 1 158 1 -56 1 -99 1 74 1 169 1 -331 1 -50 1 363 1 -253 1 46 1 -3 1 -49 1 -283 1 350 1 -76 1 -188 1 166 1 168 1 317 1 -482 1 400 1 -382 1 197 1 -154 1 218 1 -132 1 -116 1 -253 1 557 1 -552 1 197 1 538 1 -346 1 -35 1 10 1 27 1 -136 1 160 1 -118 1 -41 1 192 1 42 1 -68 1 149 1 232 1 -38 1 -405 1 -305 1 572 1 -264 1 169 1 -292 1 317 1 -519 1 339 1 -403 1 897 1 -609 1 -500 1 915 1 -82 1 108 1 -681 1 411 1 256 1 -409 1 155 1 -165 1 -26 1 459 1 -584 1 218 1 145 1 -144 1 216 1 -764 1 843 1 -631 1 264 1 -35 1 218 1 -176 1 -65 1 298 1 365 1 -712 1 -15 1 20 1 -168 1 3 1 194 1 306 1 -315 1 -80 1 181 1 -170 1 861 1 -289 1 -370 1 -410 1 268 1 -81 1 8 1 -296 1 380 1 -17 1 -17 1 -134 1 363 1 -267 1 -301 1 265 1 390 1 83 1 -494 1 203 1 149 1 73 1 -286 1 155 1 -148 1 -272 1 540 1 -196 1 95 1 -124 1 -131 1 75 1 161 1 -318 1 549 1 143 1 -880 1 611 1 -259 1 198 1 -81 1 -70 1 200 1 -150 1 252 1 -211 1 -323 1 232 1 30 1 -106 1 -120 1 585 1 -374 1 8 1 -292 1 402 1 -124 1 226 1 109 1 -429 1 -14 1 344 1 -13 1 -139 1 76 1 -191 1 55 1 4 1 -394 1 532 1 6 1 -309 1 68 1 156 1 80 1 -131 1 -88 1 166 1 -56 1 -210 1 127 1 -9 1 198 1 -379 1 96 1 82 1 81 1 460 1 -499 1 244 1 -52 1 102 1 87 1 -228 1 -311 1 124 1 376 1 137 1 -175 1 235 1 -356 1 -314 1 194 1 41 1 132 1 -13 1 -362 1 434 1 -369 1 180 1 81 1 12 1 -39 1 -228 1 88 1 231 1 -301 1 -156 1 -301 1 562 1 -205 1 202 1 -243 1 142 1 16 1 308 1 -430 1 -76 1 312 1 171 1 -416 1 341 1 -119 1 119 1 -577 1 480 1 -86 1 114 1 -219 1 139 1 -515 1 540 1 347 1 -292 1 -31 1 67 1 267 1 -518 1 -196 1 88 1 107 1 193 1 182 1 -387 1 -70 1 474 1 45 1 -456 1 379 1 -234 1 -76 1 90 1 -184 1 -214 1 72 1 167 1 268 1 25 1 119 1 -420 1 194 1 -356 1 117 1 505 1 -291 1 501 1 -299 1 -282 1 -55 1 -333 1 820 1 -78 1 624 1 -364 1 -416 1 -332 1 -175 1 335 1 86 1 -347 1 522 1 66 1 -468 1 175 1 -279 1 587 1 -463 1 -58 1 -197 1 226 1 -172 1 678 1 -104 1 -456 1 81 1 203 1 47 1 -291 1 601 1 -179 1 349 1 -1199 1 297 1 579 1 -125 1 -128 1 -227 1 430 1 -269 1 492 1 -66 1 -47 1 -744 1 583 1 396 1 32 1 -164 1 -29 1 -547 1 650 1 129 1 -433 1 27 1 -201 1 102 1 -155 1 246 1 -207 1 -436 1 287 1 336 1 -67 1 413 1 -161 1 114 1 -456 1 386 1 -616 1 10 1 549 1 -232 1 -366 1 617 1 188 1 -248 1 200 1 -140 1 -5 1 -637 1 -389 1 559 1 -728 1 643 1 -216 1 465 1 -311 1 266 1 -338 1 239 1 665 1 -963 1 -269 1 1195 1 -244 1 -308 1 -139 1 266 1 -254 1 500 1 -476 1 -121 1 432 1 -491 1 484 1 -610 1 225 1 248 1 -301 1 567 1 -361 1 99 1 -718 1 829 1 -156 1 -667 1 717 1 25 1 -328 1 -117 1 -93 1 436 1 3 1 -73 1 665 1 -606 1 54 1 -508 1 551 1 178 1 -515 1 833 1 -734 1 193 1 -136 1 -3 1 -641 1 964 1 -778 1 875 1 -592 1 146 1 757 1 -861 1 185 1 -248 1 259 1 145 1 277 1 -996 1 605 1 158 1 72 1 -390 1 201 1 416 1 -348 1 406 1 -768 1 117 1 171 1 -239 1 379 1 -397 1 329 1 -413 1 146 1 250 1 79 1 -351 1 -123 1 467 1 -350 1 317 1 206 1 -147 1 -495 1 634 1 -25 1 -396 1 39 1 437 1 -260 1 29 1 163 1 -133 1 559 1 -341 1 -306 1 -7 1 -106 1 389 1 -619 1 541 1 -386 1 -331 1 751 1 -146 1 -37 1 -161 1 79 1 -168 1 552 1 15 1 -401 1 17 1 81 1 182 1 -196 1 -199 1 65 1 155 1 -127 1 -73 1 496 1 -247 1 158 1 -563 1 544 1 -255 1 -88 1 -138 1 15 1 54 1 192 1 -65 1 699 1 -507 1 -78 1 -113 1 -246 1 -5 1 410 1 -652 1 1097 1 -19 1 -1064 1 942 1 -36 1 12 1 -160 1 341 1 -860 1 123 1 378 1 -196 1 -518 1 787 1 72 1 -430 1 205 1 200 1 -1054 1 535 1 -106 1 249 1 -368 1 -9 1 503 1 540 1 -1025 1 946 1 -216 1 11 1 99 1 -559 1 495 1 -839 1 231 1 355 1 136 1 -662 1 -158 1 705 1 -38 1 120 1 -231 1 -367 1 722 1 -105 1 -179 1 590 1 -571 1 371 1 -481 1 -799 1 505 1 -444 1 709 1 396 1 -808 1 677 1 -277 1 325 1 -146 1 -376 1 431 1 -169 1 254 1 282 1 -580 1 498 1 -471 1 189 1 -113 1 -231 1 215 1 -154 1 268 1 -431 1 23 1 493 1 -91 1 8 1 1 1 129 1 -152 1 121 1 -467 1 356 1 -348 1 -141 1 283 1 248 1 -179 1 507 1 -316 1 -73 1 -91 1 -428 1 410 1 -9 1 516 1 -760 1 199 1 -181 1 263 1 -574 1 619 1 -87 1 52 1 760 1 -843 1 178 1 -158 1 353 1 358 1 -169 1 -432 1 -510 1 541 1 -667 1 249 1 91 1 -165 1 352 1 -117 1 -123 1 360 1 -359 1 651 1 -210 1 -345 1 281 1 -362 1 16 1 529 1 -838 1 658 1 461 1 -1310 1 1457 1 -1368 1 -94 1 42 1 298 1 178 1 -393 1 513 1 301 1 -473 1 265 1 145 1 320 1 -527 1 228 1 -59 1 -130 1 -109 1 193 1 89 1 -539 1 253 1 187 1 -11 1 8 1 333 1 -155 1 -575 1 702 1 -562 1 -28 1 457 1 -335 1 -316 1 535 1 -41 1 18 1 -425 1 480 1 -307 1 326 1 -459 1 65 1 -206 1 248 1 375 1 -169 1 -158 1 379 1 -227 1 106 1 -82 1 -83 1 45 1 56 1 128 1 -99 1 52 1 -366 1 -138 1 399 1 -29 1 51 1 -259 1 205 1 -212 1 202 1 -28 1 -17 1 85 1 -141 1 83 1 126 1 145 1 -195 1 73 1 -40 1 192 1 77 1 -486 1 238 1 -70 1 231 1 -729 1 326 1 -200 1 576 1 -204 1 75 1 -47 1 -24 1 26 1 -164 1 -323 1 471 1 -77 1 -103 1 -8 1 391 1 -422 1 -70 1 368 1 177 1 -604 1 66 1 -15 1 324 1 42 1 200 1 -341 1 -45 1 -84 1 411 1 -411 1 -59 1 147 1 50 1 106 1 -254 1 595 1 49 1 -772 1 322 1 -295 1 187 1 -248 1 248 1 144 1 -25 1 -396 1 -174 1 38 1 812 1 -370 1 68 1 377 1 -667 1 385 1 -294 1 233 1 -554 1 396 1 89 1 48 1 -404 1 312 1 296 1 -254 1 243 1 -50 1 -106 1 -154 1 112 1 -250 1 396 1 -84 1 210 1 261 1 -343 1 -69 1 -90 1 158 1 125 1 -394 1 -230 1 -20 1 547 1 -121 1 14 1 -496 1 252 1 -218 1 94 1 128 1 -23 1 481 1 -600 1 137 1 -24 1 168 1 133 1 -308 1 -172 1 249 1 165 1 -294 1 408 1 -394 1 75 1 39 1 463 1 -220 1 -85 1 -265 1 -20 1 82 1 444 1 -55 1 -225 1 -164 1 -202 1 252 1 187 1 7 1 -31 1 -208 1 230 1 -126 1 196 1 -117 1 98 1 -83 1 -151 1 308 1 -410 1 316 1 -205 1 14 1 118 1 -145 1 -91 1 17 1 -37 1 213 1 53 1 -73 1 -267 1 307 1 149 1 -382 1 43 1 336 1 -199 1 230 1 -261 1 -202 1 258 1 -3 1 65 1 -209 1 71 1 457 1 -473 1 388 1 -488 1 243 1 26 1 89 1 -156 1 -114 1 134 1 -281 1 -181 1 174 1 548 1 -129 1 176 1 -237 1 -340 1 86 1 222 1 -194 1 -19 1 -22 1 55 1 -190 1 389 1 -188 1 325 1 62 1 -279 1 180 1 9 1 -144 1 -61 1 233 1 -98 1 -135 1 -51 1 81 1 151 1 -40 1 -204 1 70 1 51 1 -93 1 53 1 -143 1 28 1 176 1 -8 1 -86 1 398 1 -376 1 142 1 -68 1 -122 1 188 1 69 1 -177 1 80 1 383 1 -610 1 111 1 127 1 -95 1 -134 1 54 1 41 1 -8 1 53 1 247 1 -220 1 -99 1 175 1 -8 1 -286 1 76 1 -83 1 240 1 89 1 -184 1 247 1 -308 1 42 1 42 1 43 1 249 1 -470 1 284 1 -83 1 193 1 -443 1 30 1 507 1 -80 1 -32 1 -215 1 212 1 -189 1 -201 1 172 1 -24 1 -143 1 83 1 -23 1 226 1 83 1 24 1 -3 1 -401 1 303 1 43 1 -75 1 -247 1 -358 1 555 1 -179 1 312 1 -432 1 367 1 -179 1 -163 1 158 1 54 1 183 1 -6 1 82 1 -90 1 -232 1 3 1 114 1 -98 1 -250 1 -79 1 539 1 -124 1 355 1 -478 1 300 1 -174 1 66 1 -82 1 201 1 -115 1 -194 1 71 1 -25 1 60 1 28 1 -129 1 -31 1 112 1 -351 1 432 1 -7 1 -681 1 395 1 208 1 -434 1 522 1 105 1 -100 1 87 1 -198 1 180 1 -30 1 -155 1 39 1 -323 1 57 1 432 1 6 1 -338 1 -131 1 -80 1 565 1 -146 1 281 1 -114 1 135 1 -216 1 -250 1 39 1 258 1 -451 1 354 1 -174 1 300 1 -326 1 -30 1 294 1 -720 1 736 1 -134 1 -153 1 215 1 -196 1 189 1 -91 1 112 1 -286 1 47 1 414 1 -254 1 -80 1 -117 1 62 1 121 1 -232 1 186 1 -34 1 -272 1 314 1 194 1 -266 1 35 1 75 1 -138 1 -182 1 282 1 -77 1 -33 1 330 1 -208 1 -140 1 8 1 378 1 -129 1 -435 1 400 1 -186 1 -16 1 292 1 -70 1 -272 1 145 1 116 1 -135 1 96 1 -203 1 367 1 31 1 -394 1 -148 1 179 1 258 1 -127 1 -51 1 46 1 -325 1 280 1 -12 1 -105 1 283 1 -291 1 3 1 270 1 -13 1 -114 1 32 1 32 1 -10 1 -273 1 375 1 243 1 -337 1 -134 1 300 1 -112 1 -291 1 139 1 -100 1 339 1 -494 1 544 1 -410 1 208 1 -156 1 177 1 169 1 -116 1 -394 1 206 1 83 1 367 1 -502 1 25 1 -76 1 149 1 147 1 -337 1 489 1 -27 1 -93 1 -38 1 367 1 -705 1 102 1 543 1 -676 1 308 1 -96 1 -147 1 -1 1 143 1 93 1 42 1 20 1 -99 1 -7 1 109 1 -232 1 -126 1 399 1 -536 1 485 1 132 1 -461 1 -176 1 251 1 210 1 -226 1 353 1 -68 1 -285 1 308 1 -388 1 175 1 120 1 194 1 -93 1 124 1 -517 1 812 1 -710 1 201 1 224 1 -181 1 117 1 -415 1 18 1 116 1 -20 1 116 1 -74 1 -141 1 235 1 -274 1 122 1 170 1 -204 1 148 1 111 1 139 1 -48 1 -53 1 -67 1 -297 1 66 1 -4 1 55 1 69 1 -140 1 86 1 264 1 -266 1 -259 1 284 1 23 1 -37 1 419 1 -205 1 128 1 -389 1 232 1 -88 1 -58 1 -129 1 179 1 -372 1 498 1 316 1 -226 1 -620 1 394 1 -165 1 23 1 59 1 251 1 -78 1 -278 1 247 1 -73 1 329 1 -617 1 237 1 -149 1 162 1 -356 1 194 1 145 1 -87 1 -51 1 133 1 -79 1 -65 1 120 1 46 1 53 1 -368 1 235 1 282 1 -471 1 282 1 -113 1 285 1 24 1 -175 1 -138 1 -197 1 187 1 -58 1 161 1 274 1 64 1 -291 1 -33 1 -46 1 80 1 -91 1 360 1 -457 1 159 1 -133 1 286 1 154 1 -204 1 -83 1 -24 1 96 1 -189 1 392 1 21 1 -136 1 -35 1 -224 1 418 1 -600 1 125 1 532 1 -471 1 -72 1 -156 1 501 1 30 1 -180 1 -341 1 288 1 -132 1 323 1 108 1 -193 1 -3 1 215 1 31 1 -549 1 313 1 -309 1 80 1 365 1 -427 1 180 1 272 1 -149 1 -405 1 300 1 -24 1 -132 1 579 1 -387 1 0 1 194 1 -169 1 -291 1 262 1 85 1 -51 1 180 1 -38 1 -69 1 -131 1 41 1 374 1 -705 1 551 1 -135 1 -227 1 136 1 123 1 -399 1 311 1 81 1 -290 1 202 1 248 1 -235 1 -207 1 -144 1 -35 1 540 1 -232 1 19 1 -22 1 -102 1 482 1 -206 1 152 1 -513 1 340 1 10 1 -335 1 50 1 10 1 337 1 -146 1 -172 1 258 1 -247 1 142 1 -36 1 -141 1 325 1 -162 1 -415 1 372 1 295 1 -649 1 542 1 -117 1 -244 1 201 1 -187 1 -64 1 318 1 -18 1 -342 1 207 1 92 1 -262 1 434 1 -297 1 184 1 40 1 -258 1 209 1 -37 1 46 1 -136 1 228 1 -42 1 135 1 -77 1 -394 1 128 1 160 1 92 1 -273 1 114 1 47 1 -67 1 179 1 -322 1 242 1 -210 1 197 1 -220 1 104 1 199 1 -310 1 169 1 94 1 -125 1 -26 1 46 1 -149 1 274 1 -6 1 170 1 -242 1 136 1 -264 1 164 1 -231 1 192 1 -92 1 214 1 -500 1 312 1 -21 1 161 1 -227 1 48 1 278 1 -312 1 41 1 258 1 -547 1 424 1 -10 1 -13 1 -342 1 60 1 99 1 -5 1 262 1 -190 1 320 1 -247 1 109 1 -216 1 12 1 175 1 76 1 -259 1 328 1 -256 1 306 1 -472 1 150 1 168 1 -120 1 -84 1 206 1 50 1 -225 1 196 1 -199 1 -60 1 347 1 -307 1 12 1 210 1 -290 1 5 1 116 1 60 1 143 1 -189 1 -78 1 -109 1 166 1 -24 1 270 1 -464 1 -28 1 -18 1 280 1 118 1 210 1 -571 1 315 1 -138 1 405 1 -230 1 220 1 -286 1 206 1 -133 1 -188 1 303 1 -240 1 -374 1 414 1 -219 1 345 1 203 1 -247 1 53 1 -363 1 89 1 41 1 532 1 -497 1 148 1 -453 1 285 1 138 1 -57 1 -34 1 164 1 13 1 -388 1 -34 1 443 1 61 1 -516 1 488 1 -502 1 300 1 360 1 -733 1 414 1 -54 1 -241 1 496 1 -444 1 69 1 -116 1 411 1 36 1 222 1 -441 1 -163 1 652 1 -597 1 371 1 271 1 -234 1 -758 1 224 1 76 1 473 1 -472 1 455 1 -162 1 -16 1 -54 1 -219 1 629 1 -367 1 409 1 -712 1 -231 1 911 1 -760 1 381 1 -144 1 65 1 -52 1 -226 1 -30 1 416 1 -273 1 729 1 -494 1 397 1 -565 1 390 1 -430 1 -104 1 215 1 13 1 857 1 -1203 1 208 1 418 1 -267 1 94 1 192 1 -278 1 -176 1 -196 1 395 1 187 1 -102 1 291 1 -480 1 211 1 -338 1 -322 1 749 1 -314 1 332 1 -380 1 -278 1 190 1 182 1 -117 1 119 1 250 1 -172 1 146 1 -189 1 -160 1 -90 1 -371 1 841 1 153 1 -629 1 11 1 28 1 356 1 -73 1 -99 1 53 1 -481 1 456 1 -19 1 201 1 -360 1 56 1 220 1 736 1 -979 1 781 1 -877 1 290 1 -292 1 672 1 -359 1 18 1 236 1 79 1 -562 1 258 1 -210 1 464 1 -902 1 1171 1 -658 1 -495 1 632 1 -300 1 231 1 24 1 243 1 -748 1 571 1 191 1 -620 1 514 1 12 1 -333 1 -337 1 505 1 -151 1 486 1 -429 1 219 1 -84 1 -37 1 -331 1 118 1 190 1 -44 1 -6 1 198 1 -164 1 147 1 -140 1 62 1 -195 1 -210 1 502 1 3 1 -48 1 -308 1 401 1 -212 1 14 1 -177 1 37 1 -30 1 209 1 -223 1 138 1 -110 1 -158 1 283 1 15 1 -12 1 -631 1 828 1 -217 1 -198 1 599 1 -395 1 152 1 -130 1 -526 1 759 1 -510 1 488 1 -266 1 -164 1 -363 1 447 1 -126 1 242 1 -266 1 429 1 -298 1 19 1 590 1 -288 1 -353 1 252 1 -500 1 217 1 146 1 -145 1 -66 1 421 1 -320 1 -56 1 55 1 -15 1 377 1 -130 1 -468 1 742 1 -64 1 -361 1 -189 1 270 1 -160 1 293 1 -149 1 355 1 -784 1 273 1 244 1 -211 1 20 1 -200 1 830 1 -564 1 234 1 -393 1 84 1 104 1 450 1 -73 1 183 1 -145 1 -8 1 -442 1 -123 1 516 1 -521 1 320 1 -291 1 -113 1 284 1 -241 1 150 1 291 1 -261 1 287 1 -348 1 190 1 -315 1 537 1 -766 1 527 1 61 1 -711 1 221 1 27 1 320 1 -40 1 -16 1 207 1 363 1 -715 1 293 1 -67 1 220 1 -674 1 109 1 110 1 -1 1 275 1 -150 1 -318 1 262 1 -180 1 176 1 116 1 -122 1 414 1 218 1 -367 1 -426 1 615 1 137 1 -471 1 116 1 150 1 -187 1 217 1 -143 1 -245 1 24 1 50 1 -94 1 431 1 -215 1 -114 1 223 1 -163 1 218 1 132 1 -329 1 -175 1 -138 1 683 1 -322 1 -230 1 117 1 -245 1 586 1 -247 1 -161 1 -269 1 874 1 -489 1 -584 1 409 1 136 1 46 1 -317 1 572 1 -144 1 -140 1 -185 1 -304 1 350 1 68 1 -267 1 404 1 139 1 -354 1 18 1 108 1 475 1 -66 1 -882 1 335 1 881 1 -836 1 611 1 -368 1 226 1 -481 1 133 1 138 1 -168 1 -11 1 446 1 -479 1 458 1 -594 1 89 1 326 1 -66 1 146 1 -294 1 -21 1 -141 1 -357 1 375 1 464 1 -352 1 86 1 336 1 -694 1 407 1 -291 1 539 1 -824 1 353 1 -53 1 57 1 -69 1 783 1 -676 1 24 1 -424 1 37 1 185 1 -148 1 568 1 -362 1 46 1 102 1 -249 1 -111 1 189 1 284 1 -100 1 -242 1 797 1 -399 1 97 1 278 1 -788 1 598 1 -223 1 12 1 -571 1 228 1 254 1 -16 1 495 1 -596 1 193 1 -171 1 -306 1 294 1 139 1 504 1 -150 1 -548 1 -111 1 269 1 -164 1 916 1 -489 1 -269 1 -144 1 -158 1 292 1 -729 1 644 1 -20 1 581 1 -963 1 784 1 -367 1 331 1 -449 1 340 1 129 1 514 1 -1002 1 202 1 8 1 -146 1 149 1 37 1 -110 1 -413 1 594 1 -513 1 409 1 326 1 -677 1 338 1 99 1 -73 1 -123 1 142 1 196 1 -499 1 250 1 263 1 -391 1 -185 1 596 1 -21 1 79 1 -294 1 -191 1 655 1 -85 1 -133 1 -391 1 187 1 -301 1 -50 1 343 1 70 1 75 1 -140 1 600 1 -928 1 698 1 -523 1 406 1 -558 1 945 1 -235 1 -914 1 874 1 -336 1 214 1 -268 1 -39 1 -367 1 269 1 132 1 -479 1 199 1 291 1 128 1 -260 1 528 1 -542 1 320 1 192 1 -581 1 531 1 -351 1 -191 1 656 1 7 1 -514 1 358 1 -21 1 -260 1 570 1 -593 1 -136 1 174 1 -34 1 -80 1 39 1 -257 1 474 1 -476 1 594 1 -98 1 -262 1 2 1 -63 1 155 1 406 1 -332 1 -174 1 497 1 -490 1 10 1 557 1 -329 1 116 1 -128 1 -20 1 32 1 17 1 311 1 -732 1 -262 1 454 1 -261 1 355 1 -295 1 268 1 236 1 -357 1 -51 1 336 1 -339 1 147 1 -14 1 -253 1 492 1 -451 1 444 1 -118 1 -325 1 161 1 272 1 -258 1 557 1 -717 1 494 1 -648 1 317 1 287 1 -672 1 505 1 -323 1 -55 1 139 1 41 1 12 1 -26 1 -65 1 -427 1 967 1 185 1 -405 1 -181 1 -172 1 308 1 1 1 -293 1 178 1 231 1 -114 1 -87 1 45 1 -217 1 170 1 33 1 -210 1 160 1 261 1 31 1 -818 1 189 1 620 1 -148 1 3 1 -467 1 373 1 129 1 -38 1 -295 1 38 1 226 1 -32 1 287 1 -915 1 428 1 468 1 -610 1 321 1 342 1 -629 1 344 1 409 1 -822 1 -185 1 785 1 -399 1 113 1 31 1 299 1 -391 1 327 1 -59 1 -197 1 269 1 -191 1 -100 1 775 1 -1246 1 212 1 31 1 146 1 146 1 -97 1 612 1 -684 1 -139 1 268 1 -111 1 -14 1 346 1 -149 1 201 1 -539 1 413 1 -149 1 -160 1 -237 1 373 1 -269 1 467 1 -66 1 5 1 566 1 -372 1 -814 1 647 1 -94 1 0 1 -176 1 350 1 -916 1 366 1 470 1 -103 1 175 1 -312 1 -38 1 318 1 -149 1 -462 1 653 1 -499 1 484 1 -170 1 95 1 111 1 -505 1 415 1 -178 1 -50 1 66 1 -128 1 136 1 51 1 -222 1 432 1 -249 1 -296 1 382 1 15 1 -473 1 416 1 -162 1 153 1 -104 1 135 1 -50 1 -599 1 573 1 113 1 42 1 125 1 -219 1 235 1 -112 1 -320 1 -50 1 463 1 -134 1 -583 1 166 1 522 1 -236 1 -444 1 508 1 130 1 -82 1 -164 1 -35 1 -78 1 4 1 181 1 507 1 12 1 -620 1 -295 1 310 1 -42 1 6 1 -311 1 351 1 -123 1 147 1 -335 1 331 1 -259 1 80 1 38 1 21 1 2 1 -3 1 -10 1 -16 1 25 1 43 1 427 1 -187 1 -288 1 -145 1 470 1 -216 1 68 1 147 1 -564 1 239 1 144 1 215 1 -264 1 28 1 -21 1 -1 1 33 1 -123 1 -24 1 55 1 169 1 88 1 -173 1 -66 1 244 1 -110 1 28 1 -139 1 -49 1 148 1 -106 1 216 1 -336 1 198 1 -51 1 -171 1 108 1 -114 1 114 1 13 1 484 1 -615 1 283 1 -189 1 142 1 -122 1 -80 1 385 1 -53 1 -499 1 278 1 -38 1 -219 1 311 1 60 1 -82 1 76 1 242 1 -409 1 321 1 177 1 -966 1 512 1 313 1 -199 1 -190 1 417 1 -108 1 -523 1 518 1 -215 1 84 1 -301 1 380 1 -83 1 -248 1 136 1 405 1 29 1 -705 1 472 1 -190 1 -50 1 183 1 312 1 -234 1 -373 1 253 1 100 1 167 1 -295 1 53 1 26 1 108 1 -646 1 835 1 -270 1 -79 1 -284 1 351 1 447 1 -668 1 -267 1 537 1 -105 1 -19 1 -374 1 495 1 55 1 -966 1 847 1 155 1 -422 1 -311 1 564 1 515 1 -446 1 475 1 -479 1 -138 1 -135 1 532 1 -660 1 174 1 48 1 170 1 -58 1 -353 1 73 1 665 1 -372 1 -19 1 -79 1 144 1 -230 1 412 1 -55 1 -190 1 202 1 -233 1 -57 1 310 1 -236 1 -154 1 515 1 -379 1 136 1 224 1 -587 1 204 1 264 1 -260 1 -29 1 61 1 -30 1 -2 1 145 1 -63 1 323 1 -276 1 268 1 -304 1 319 1 -371 1 268 1 -208 1 285 1 -468 1 63 1 165 1 -260 1 469 1 -317 1 137 1 95 1 -81 1 -255 1 -118 1 -64 1 148 1 32 1 -9 1 243 1 -352 1 -52 1 350 1 313 1 -525 1 156 1 13 1 220 1 -43 1 -251 1 260 1 -161 1 142 1 196 1 -770 1 147 1 12 1 21 1 259 1 2 1 314 1 -64 1 -220 1 -80 1 151 1 -46 1 -173 1 222 1 -230 1 78 1 -12 1 -86 1 -10 1 136 1 -37 1 -216 1 560 1 8 1 -13 1 -94 1 -244 1 -163 1 -13 1 -141 1 270 1 -273 1 355 1 31 1 -159 1 -1 1 93 1 124 1 -180 1 400 1 -509 1 53 1 26 1 54 1 80 1 64 1 -170 1 371 1 -674 1 416 1 -44 1 -278 1 -11 1 298 1 202 1 -146 1 -95 1 -47 1 -36 1 18 1 202 1 84 1 -103 1 -244 1 249 1 89 1 -564 1 422 1 -169 1 127 1 -274 1 40 1 187 1 -86 1 10 1 -78 1 260 1 129 1 -412 1 247 1 -144 1 143 1 174 1 -176 1 -78 1 -189 1 441 1 107 1 -727 1 508 1 -154 1 -225 1 611 1 -245 1 316 1 -585 1 64 1 -214 1 323 1 -358 1 277 1 299 1 -125 1 88 1 -172 1 129 1 -182 1 -234 1 356 1 -112 1 -151 1 -64 1 474 1 -588 1 167 1 246 1 50 1 -77 1 -362 1 538 1 -248 1 -284 1 532 1 -244 1 -356 1 -175 1 518 1 -98 1 188 1 -25 1 -192 1 250 1 -41 1 -266 1 383 1 -121 1 -80 1 112 1 -240 1 3 1 143 1 -172 1 509 1 -263 1 98 1 219 1 -70 1 137 1 -607 1 515 1 -423 1 43 1 87 1 -25 1 -20 1 66 1 245 1 -748 1 148 1 33 1 322 1 -37 1 56 1 301 1 -371 1 -292 1 374 1 282 1 33 1 -414 1 45 1 37 1 54 1 -151 1 -68 1 417 1 -7 1 -307 1 -121 1 -9 1 -105 1 -17 1 193 1 -90 1 203 1 -160 1 -82 1 109 1 -428 1 580 1 -123 1 332 1 -374 1 61 1 -156 1 621 1 -376 1 201 1 -329 1 197 1 -330 1 71 1 68 1 -128 1 354 1 25 1 79 1 -465 1 73 1 118 1 155 1 -433 1 225 1 292 1 -211 1 -47 1 -237 1 182 1 239 1 75 1 -632 1 485 1 -178 1 -135 1 652 1 -279 1 -412 1 12 1 283 1 -393 1 301 1 165 1 -435 1 357 1 62 1 -262 1 245 1 69 1 -57 1 -264 1 366 1 -286 1 129 1 -36 1 -17 1 -485 1 738 1 -137 1 -86 1 117 1 -250 1 65 1 156 1 -637 1 338 1 35 1 69 1 -55 1 -57 1 239 1 125 1 -78 1 128 1 -117 1 218 1 25 1 -466 1 -79 1 48 1 56 1 239 1 -47 1 -68 1 -192 1 54 1 47 1 90 1 -695 1 700 1 51 1 -259 1 452 1 -140 1 -15 1 -474 1 493 1 -133 1 8 1 -517 1 155 1 256 1 -215 1 547 1 -502 1 384 1 -77 1 503 1 -567 1 296 1 -396 1 -148 1 311 1 193 1 -380 1 332 1 -96 1 -119 1 41 1 -15 1 -162 1 164 1 61 1 -255 1 -418 1 723 1 -295 1 277 1 -319 1 281 1 -140 1 -22 1 62 1 94 1 -494 1 704 1 -54 1 -163 1 -469 1 597 1 -204 1 403 1 -518 1 66 1 299 1 -811 1 455 1 56 1 -577 1 365 1 323 1 29 1 365 1 -191 1 -651 1 610 1 -114 1 -82 1 -375 1 909 1 -30 1 -443 1 -345 1 -101 1 0 1 633 1 -819 1 903 1 -420 1 168 1 128 1 510 1 -519 1 -284 1 170 1 -74 1 -32 1 21 1 -341 1 407 1 -521 1 777 1 -472 1 -244 1 564 1 6 1 -175 1 -493 1 66 1 557 1 514 1 -599 1 10 1 88 1 -434 1 587 1 -511 1 194 1 -247 1 -111 1 126 1 -43 1 150 1 541 1 -347 1 -236 1 268 1 -270 1 464 1 -90 1 -313 1 84 1 32 1 -284 1 -32 1 262 1 -194 1 222 1 219 1 -268 1 198 1 285 1 -533 1 446 1 -537 1 -75 1 312 1 -79 1 -305 1 640 1 -102 1 -421 1 177 1 28 1 -265 1 356 1 -379 1 -86 1 713 1 -465 1 -29 1 119 1 -109 1 631 1 -371 1 81 1 10 1 270 1 -952 1 657 1 -130 1 -22 1 240 1 -121 1 -516 1 433 1 -92 1 281 1 -707 1 604 1 -110 1 116 1 -61 1 -560 1 628 1 -166 1 -172 1 396 1 -227 1 387 1 -133 1 -500 1 433 1 -179 1 -6 1 -29 1 265 1 -414 1 281 1 -445 1 419 1 -359 1 -3 1 277 1 -246 1 504 1 -496 1 612 1 -178 1 -166 1 122 1 -97 1 488 1 -422 1 -249 1 223 1 -168 1 62 1 -119 1 12 1 316 1 -204 1 187 1 -248 1 50 1 -86 1 394 1 79 1 -385 1 222 1 -528 1 37 1 457 1 -557 1 1015 1 -398 1 159 1 -402 1 -279 1 103 1 4 1 381 1 -416 1 49 1 528 1 -619 1 131 1 442 1 251 1 -914 1 -170 1 380 1 201 1 -56 1 -113 1 -159 1 470 1 -300 1 -30 1 153 1 312 1 -280 1 535 1 -645 1 208 1 -613 1 335 1 138 1 -148 1 -17 1 50 1 -89 1 94 1 134 1 66 1 -319 1 193 1 -130 1 376 1 184 1 -339 1 50 1 -153 1 171 1 -156 1 -237 1 564 1 231 1 -366 1 -143 1 110 1 279 1 -494 1 277 1 -128 1 -535 1 413 1 214 1 -48 1 -109 1 -263 1 350 1 -17 1 86 1 293 1 -408 1 247 1 -142 1 535 1 -530 1 511 1 -865 1 -49 1 403 1 -147 1 348 1 -119 1 7 1 -388 1 186 1 217 1 -347 1 144 1 296 1 -306 1 70 1 241 1 -187 1 -468 1 389 1 -22 1 79 1 478 1 -280 1 -243 1 -197 1 373 1 -162 1 281 1 -246 1 172 1 -449 1 156 1 58 1 -219 1 306 1 -192 1 3 1 -83 1 154 1 -393 1 646 1 -124 1 40 1 172 1 -245 1 -143 1 409 1 -429 1 137 1 -588 1 411 1 132 1 171 1 -33 1 110 1 -381 1 0 1 194 1 -250 1 100 1 112 1 -501 1 98 1 489 1 -273 1 355 1 -297 1 -130 1 394 1 -208 1 149 1 -246 1 -29 1 113 1 -107 1 142 1 -190 1 312 1 98 1 -70 1 -392 1 566 1 -673 1 443 1 -23 1 147 1 -316 1 39 1 362 1 -7 1 -461 1 159 1 -105 1 -377 1 781 1 -371 1 149 1 40 1 -312 1 445 1 -315 1 -155 1 357 1 -33 1 -137 1 96 1 339 1 -192 1 -131 1 -70 1 420 1 -432 1 -291 1 610 1 -328 1 -320 1 153 1 8 1 -157 1 274 1 30 1 419 1 -321 1 -93 1 80 1 69 1 152 1 62 1 -617 1 93 1 275 1 371 1 -459 1 303 1 -315 1 0 1 59 1 328 1 -371 1 112 1 54 1 121 1 -173 1 173 1 170 1 -184 1 -246 1 51 1 88 1 -119 1 -190 1 38 1 1243 1 -1476 1 1091 1 -459 1 -327 1 -43 1 457 1 -618 1 89 1 487 1 -267 1 206 1 -163 1 -27 1 -159 1 275 1 -61 1 -2 1 -165 1 404 1 -282 1 133 1 -447 1 -127 1 607 1 -357 1 -52 1 313 1 248 1 -417 1 -7 1 191 1 27 1 -127 1 -489 1 670 1 -406 1 754 1 -733 1 238 1 -73 1 65 1 597 1 -717 1 328 1 -263 1 -92 1 283 1 -109 1 -133 1 -200 1 349 1 740 1 -881 1 188 1 -300 1 988 1 -1196 1 205 1 -318 1 628 1 -133 1 64 1 -107 1 377 1 -49 1 -51 1 -918 1 422 1 241 1 183 1 -854 1 1015 1 -296 1 294 1 -647 1 93 1 -67 1 96 1 -36 1 -227 1 710 1 -180 1 -319 1 -287 1 745 1 -796 1 269 1 -39 1 122 1 277 1 93 1 -128 1 -347 1 581 1 -28 1 -99 1 373 1 -808 1 71 1 -6 1 36 1 298 1 -104 1 -146 1 372 1 -297 1 -117 1 -18 1 -162 1 258 1 -155 1 181 1 115 1 20 1 -218 1 557 1 -724 1 439 1 -162 1 60 1 -225 1 -22 1 324 1 -540 1 423 1 -366 1 -82 1 431 1 -142 1 548 1 -809 1 416 1 -10 1 13 1 -138 1 -246 1 501 1 0 1 -75 1 -25 1 194 1 -48 1 -62 1 -270 1 333 1 -375 1 249 1 -268 1 163 1 182 1 -208 1 238 1 -267 1 399 1 -337 1 506 1 -344 1 -138 1 -196 1 130 1 423 1 -567 1 -55 1 330 1 170 1 -287 1 -83 1 112 1 2 1 233 1 134 1 -352 1 -115 1 -64 1 -90 1 285 1 -251 1 385 1 -159 1 -77 1 358 1 -526 1 437 1 -131 1 26 1 -44 1 -186 1 291 1 98 1 -536 1 356 1 -36 1 -29 1 119 1 -102 1 -34 1 269 1 -361 1 94 1 -2 1 -65 1 49 1 329 1 -382 1 573 1 -696 1 -144 1 293 1 -98 1 432 1 -134 1 -262 1 150 1 -19 1 510 1 -429 1 22 1 47 1 -52 1 -39 1 -149 1 167 1 21 1 -272 1 251 1 -230 1 -71 1 277 1 100 1 69 1 -250 1 -149 1 93 1 105 1 24 1 96 1 -108 1 203 1 -277 1 180 1 28 1 -41 1 23 1 -263 1 317 1 -222 1 52 1 -132 1 219 1 -128 1 -38 1 215 1 -228 1 178 1 -28 1 55 1 -77 1 -199 1 214 1 34 1 235 1 0 1 -153 1 15 1 -555 1 317 1 -88 1 267 1 -10 1 1 1 7 1 -36 1 -75 1 -76 1 206 1 -112 1 169 1 -241 1 26 1 -83 1 233 1 -239 1 -250 1 252 1 17 1 112 1 -57 1 265 1 -154 1 107 1 70 1 -55 1 -21 1 -234 1 155 1 -92 1 148 1 -231 1 214 1 -201 1 218 1 86 1 1 1 -291 1 312 1 -553 1 345 1 -297 1 269 1 -228 1 216 1 -127 1 378 1 173 1 -248 1 35 1 -110 1 -109 1 -28 1 -191 1 74 1 328 1 -253 1 168 1 -273 1 687 1 -196 1 -318 1 439 1 -304 1 138 1 -289 1 -68 1 438 1 -159 1 23 1 45 1 -210 1 -142 1 204 1 -528 1 457 1 261 1 -341 1 531 1 -562 1 -179 1 420 1 -198 1 209 1 -337 1 323 1 -119 1 39 1 199 1 -488 1 171 1 370 1 34 1 -144 1 -542 1 390 1 -182 1 25 1 -367 1 -172 1 933 1 -52 1 -695 1 336 1 128 1 -201 1 342 1 -284 1 -319 1 309 1 274 1 -430 1 523 1 90 1 -137 1 -14 1 -204 1 198 1 -398 1 -497 1 506 1 663 1 -130 1 -643 1 258 1 -150 1 -136 1 254 1 326 1 -214 1 -89 1 -559 1 1268 1 -974 1 341 1 229 1 -185 1 185 1 -889 1 405 1 58 1 -185 1 -62 1 673 1 -584 1 638 1 -54 1 -332 1 -272 1 211 1 -31 1 17 1 -31 1 210 1 -85 1 58 1 7 1 307 1 189 1 -485 1 -24 1 -19 1 265 1 -64 1 -137 1 -59 1 164 1 106 1 -334 1 193 1 -500 1 257 1 253 1 -454 1 19 1 383 1 -473 1 351 1 503 1 -363 1 291 1 -42 1 -478 1 116 1 116 1 145 1 64 1 -131 1 -87 1 -274 1 412 1 -317 1 304 1 66 1 -538 1 671 1 -428 1 245 1 -25 1 173 1 -129 1 85 1 -152 1 -309 1 114 1 166 1 49 1 -152 1 -162 1 -99 1 250 1 543 1 -582 1 -69 1 204 1 23 1 -112 1 -394 1 245 1 9 1 231 1 -231 1 73 1 -163 1 104 1 508 1 -254 1 -74 1 -234 1 -69 1 412 1 -190 1 110 1 -53 1 -32 1 -482 1 628 1 160 1 -314 1 -47 1 74 1 -90 1 -302 1 282 1 67 1 207 1 -397 1 130 1 65 1 89 1 293 1 -257 1 5 1 -376 1 568 1 -673 1 623 1 -96 1 -155 1 -233 1 323 1 -205 1 373 1 -876 1 618 1 -564 1 563 1 -81 1 244 1 -420 1 33 1 -246 1 360 1 133 1 -91 1 -157 1 164 1 171 1 -56 1 -494 1 320 1 -85 1 -408 1 733 1 -59 1 -297 1 341 1 -61 1 -157 1 172 1 -113 1 -103 1 372 1 -557 1 747 1 -356 1 -143 1 180 1 -288 1 113 1 506 1 -320 1 -133 1 2 1 230 1 -1 1 -263 1 315 1 -250 1 -4 1 168 1 -311 1 -169 1 292 1 214 1 -243 1 242 1 66 1 -315 1 72 1 -28 1 156 1 -32 1 -59 1 229 1 -188 1 -21 1 -194 1 155 1 241 1 -119 1 -112 1 -39 1 -154 1 38 1 325 1 -184 1 12 1 218 1 -310 1 -11 1 356 1 -149 1 -416 1 297 1 -144 1 52 1 52 1 -268 1 176 1 488 1 -388 1 -53 1 281 1 -453 1 221 1 303 1 -255 1 67 1 -111 1 114 1 70 1 -172 1 56 1 30 1 -434 1 569 1 189 1 -202 1 -120 1 -127 1 154 1 337 1 -94 1 -470 1 480 1 -480 1 10 1 109 1 172 1 -191 1 278 1 -157 1 289 1 -679 1 346 1 127 1 205 1 -849 1 435 1 -410 1 568 1 -235 1 210 1 163 1 -31 1 -260 1 200 1 604 1 -872 1 258 1 -260 1 328 1 -406 1 347 1 -517 1 416 1 581 1 -914 1 139 1 374 1 -500 1 -302 1 165 1 455 1 218 1 -244 1 -6 1 242 1 -268 1 325 1 32 1 -423 1 363 1 -132 1 -187 1 23 1 241 1 -507 1 -73 1 589 1 164 1 -355 1 156 1 -551 1 65 1 159 1 38 1 102 1 -125 1 79 1 -24 1 153 1 88 1 -39 1 94 1 -297 1 -49 1 -254 1 40 1 435 1 -57 1 -77 1 -62 1 -154 1 -162 1 270 1 55 1 -380 1 637 1 -326 1 179 1 137 1 28 1 -284 1 198 1 -11 1 -131 1 39 1 -180 1 169 1 -136 1 64 1 48 1 126 1 -178 1 -5 1 -23 1 478 1 -479 1 135 1 -298 1 234 1 -192 1 97 1 201 1 153 1 -242 1 67 1 -67 1 -96 1 81 1 139 1 -121 1 -90 1 -16 1 150 1 -127 1 199 1 -367 1 344 1 -253 1 121 1 359 1 -173 1 -255 1 22 1 210 1 10 1 -158 1 129 1 -193 1 -390 1 645 1 -265 1 183 1 -128 1 -18 1 -100 1 277 1 13 1 69 1 -92 1 -44 1 -154 1 93 1 63 1 -470 1 214 1 159 1 162 1 96 1 49 1 -396 1 133 1 -93 1 -47 1 74 1 76 1 111 1 -364 1 216 1 -135 1 380 1 51 1 -347 1 -37 1 212 1 55 1 -310 1 90 1 112 1 -209 1 406 1 -231 1 4 1 -194 1 380 1 -408 1 100 1 20 1 75 1 -211 1 108 1 222 1 -101 1 27 1 141 1 -86 1 94 1 -161 1 -156 1 441 1 -583 1 54 1 40 1 625 1 -405 1 180 1 -472 1 83 1 255 1 -141 1 107 1 93 1 -95 1 0 1 23 1 -81 1 98 1 127 1 -366 1 231 1 118 1 -211 1 19 1 381 1 -143 1 231 1 -86 1 -435 1 -72 1 78 1 232 1 -867 1 700 1 240 1 -241 1 57 1 -117 1 -299 1 540 1 -254 1 155 1 -94 1 394 1 -305 1 -9 1 -107 1 -145 1 242 1 132 1 -213 1 -422 1 269 1 517 1 -475 1 139 1 -387 1 245 1 -53 1 299 1 -32 1 -16 1 80 1 -263 1 375 1 -335 1 198 1 199 1 -446 1 151 1 -85 1 40 1 27 1 -62 1 13 1 113 1 -334 1 96 1 38 1 -141 1 275 1 -129 1 -65 1 -80 1 75 1 207 1 -269 1 341 1 -46 1 -54 1 -308 1 142 1 282 1 -225 1 -62 1 5 1 174 1 -351 1 451 1 -127 1 -202 1 261 1 -534 1 237 1 246 1 193 1 -442 1 -41 1 225 1 26 1 -148 1 -6 1 405 1 -433 1 -122 1 209 1 302 1 -108 1 -132 1 -230 1 219 1 545 1 -417 1 82 1 -495 1 219 1 -30 1 438 1 -389 1 42 1 -82 1 -454 1 767 1 -594 1 256 1 -198 1 191 1 28 1 -10 1 394 1 -531 1 179 1 173 1 -192 1 -22 1 503 1 -236 1 -330 1 226 1 -236 1 276 1 -379 1 452 1 -86 1 -7 1 -69 1 46 1 -214 1 184 1 103 1 -31 1 -259 1 284 1 -330 1 87 1 -20 1 46 1 91 1 149 1 70 1 -112 1 -216 1 271 1 44 1 -315 1 -74 1 185 1 373 1 -398 1 24 1 154 1 -326 1 20 1 165 1 167 1 -198 1 -57 1 -173 1 554 1 -482 1 437 1 -341 1 313 1 94 1 -432 1 246 1 29 1 89 1 -266 1 264 1 -192 1 -189 1 346 1 48 1 -222 1 -19 1 159 1 161 1 -513 1 406 1 171 1 -513 1 260 1 -91 1 54 1 167 1 -527 1 202 1 -165 1 202 1 419 1 -558 1 110 1 -27 1 200 1 -142 1 -94 1 1 1 124 1 -219 1 -251 1 748 1 -217 1 -156 1 94 1 196 1 -353 1 199 1 -128 1 404 1 -847 1 230 1 672 1 -624 1 93 1 -108 1 -278 1 555 1 195 1 -92 1 -396 1 181 1 557 1 -470 1 -196 1 482 1 -316 1 -419 1 268 1 475 1 -289 1 19 1 199 1 -385 1 -202 1 409 1 -170 1 172 1 -201 1 -5 1 -188 1 478 1 468 1 -898 1 678 1 -133 1 -378 1 -104 1 440 1 -251 1 18 1 -49 1 681 1 -1013 1 589 1 425 1 -501 1 574 1 -620 1 48 1 178 1 -432 1 216 1 155 1 -354 1 324 1 176 1 -638 1 296 1 148 1 -318 1 492 1 61 1 -507 1 231 1 -251 1 146 1 170 1 -177 1 92 1 -174 1 462 1 -74 1 -435 1 330 1 580 1 -863 1 512 1 353 1 -791 1 278 1 -820 1 975 1 -198 1 54 1 -177 1 215 1 40 1 -111 1 -271 1 31 1 56 1 -70 1 -170 1 -119 1 321 1 -226 1 153 1 -250 1 -24 1 261 1 50 1 648 1 -606 1 307 1 -149 1 -53 1 -164 1 257 1 -32 1 -524 1 560 1 -237 1 -376 1 221 1 397 1 58 1 -279 1 349 1 -114 1 -608 1 118 1 372 1 -324 1 70 1 239 1 -152 1 -103 1 -180 1 871 1 -867 1 241 1 381 1 -299 1 -213 1 -45 1 564 1 -93 1 -677 1 141 1 500 1 244 1 -539 1 371 1 -632 1 -18 1 105 1 428 1 -73 1 123 1 -597 1 821 1 -497 1 732 1 -575 1 -489 1 418 1 -189 1 552 1 -306 1 236 1 -471 1 7 1 209 1 -18 1 -229 1 328 1 142 1 -339 1 -32 1 2 1 221 1 -143 1 119 1 142 1 -300 1 5 1 -5 1 372 1 -336 1 37 1 -76 1 242 1 -100 1 -309 1 411 1 -106 1 154 1 -133 1 -114 1 -181 1 378 1 45 1 -399 1 153 1 98 1 -111 1 95 1 -142 1 -48 1 337 1 -528 1 420 1 -256 1 146 1 -124 1 143 1 -135 1 154 1 -290 1 60 1 158 1 129 1 -249 1 472 1 -396 1 197 1 -442 1 137 1 -3 1 -27 1 -70 1 193 1 -72 1 424 1 -292 1 61 1 -413 1 623 1 8 1 -464 1 6 1 54 1 390 1 -494 1 54 1 -105 1 343 1 105 1 -338 1 400 1 -187 1 -193 1 273 1 143 1 0 1 -146 1 161 1 -263 1 63 1 299 1 -385 1 -143 1 -87 1 144 1 -288 1 198 1 -47 1 209 1 -263 1 277 1 25 1 180 1 55 1 120 1 -409 1 -254 1 489 1 -82 1 -194 1 291 1 269 1 -369 1 -186 1 148 1 -267 1 690 1 -761 1 47 1 489 1 -291 1 -249 1 522 1 54 1 -671 1 547 1 81 1 205 1 -326 1 66 1 -153 1 143 1 240 1 -238 1 -315 1 130 1 486 1 -765 1 154 1 -12 1 463 1 -512 1 108 1 83 1 142 1 12 1 -399 1 2 1 -66 1 583 1 -315 1 98 1 -41 1 -331 1 -34 1 115 1 681 1 -516 1 197 1 -333 1 789 1 -547 1 -360 1 233 1 176 1 146 1 -294 1 221 1 -82 1 -17 1 -137 1 172 1 156 1 -241 1 -72 1 679 1 -458 1 -6 1 -458 1 548 1 -578 1 600 1 -186 1 -176 1 -46 1 186 1 -124 1 -290 1 609 1 -567 1 295 1 -67 1 442 1 -673 1 547 1 -115 1 -716 1 311 1 154 1 -79 1 275 1 74 1 107 1 -390 1 273 1 -164 1 160 1 -124 1 8 1 -68 1 184 1 -88 1 -236 1 -243 1 672 1 -53 1 -184 1 273 1 -267 1 -15 1 -65 1 360 1 116 1 -430 1 -91 1 362 1 -36 1 -55 1 -446 1 373 1 -24 1 -103 1 160 1 -132 1 119 1 -88 1 -58 1 427 1 -376 1 141 1 70 1 -408 1 165 1 -148 1 150 1 -218 1 444 1 -190 1 -273 1 376 1 -329 1 -101 1 420 1 -85 1 -176 1 327 1 -58 1 -65 1 193 1 -165 1 220 1 -210 1 -2 1 -722 1 564 1 520 1 -572 1 100 1 -72 1 -319 1 561 1 305 1 -48 1 -453 1 -158 1 82 1 250 1 -215 1 279 1 -119 1 -361 1 20 1 474 1 2 1 -201 1 353 1 -371 1 -56 1 59 1 142 1 -678 1 577 1 3 1 -236 1 -3 1 497 1 -407 1 40 1 289 1 -509 1 863 1 -746 1 26 1 -187 1 191 1 -77 1 111 1 -147 1 -287 1 798 1 -93 1 -21 1 -27 1 12 1 -281 1 776 1 -752 1 -131 1 699 1 -524 1 99 1 -230 1 164 1 157 1 -32 1 -322 1 410 1 -316 1 -164 1 515 1 -120 1 -116 1 -116 1 327 1 -218 1 -90 1 266 1 -58 1 -315 1 523 1 -625 1 187 1 249 1 -96 1 191 1 -46 1 -629 1 787 1 -386 1 107 1 -161 1 -66 1 363 1 -35 1 -45 1 -190 1 472 1 -254 1 46 1 -105 1 46 1 184 1 -23 1 14 1 -211 1 5 1 -281 1 211 1 -81 1 -59 1 185 1 17 1 -176 1 -222 1 323 1 61 1 71 1 -274 1 -98 1 -122 1 420 1 -133 1 273 1 -468 1 636 1 -347 1 -6 1 84 1 132 1 23 1 -618 1 297 1 239 1 34 1 -85 1 -261 1 309 1 -141 1 43 1 288 1 -312 1 133 1 240 1 -108 1 -540 1 43 1 -227 1 742 1 -299 1 -90 1 112 1 -268 1 428 1 -360 1 446 1 -159 1 -81 1 155 1 -201 1 55 1 313 1 124 1 -287 1 220 1 -768 1 444 1 -40 1 -119 1 264 1 371 1 -372 1 159 1 67 1 -12 1 -328 1 -180 1 466 1 -70 1 -354 1 553 1 -650 1 -103 1 307 1 -330 1 306 1 25 1 -137 1 171 1 -354 1 -271 1 828 1 29 1 -18 1 -340 1 231 1 -210 1 403 1 -626 1 388 1 -198 1 310 1 -168 1 -489 1 386 1 -171 1 375 1 105 1 -540 1 429 1 -379 1 133 1 177 1 284 1 -200 1 48 1 -303 1 91 1 203 1 -121 1 -1 1 64 1 329 1 -75 1 12 1 -269 1 -300 1 -105 1 343 1 -293 1 -248 1 426 1 644 1 -561 1 34 1 -53 1 57 1 -376 1 404 1 134 1 -135 1 9 1 -65 1 175 1 -473 1 -219 1 382 1 121 1 168 1 -359 1 245 1 -58 1 206 1 -320 1 296 1 33 1 -279 1 35 1 -86 1 -70 1 22 1 -124 1 500 1 -87 1 -151 1 66 1 -20 1 419 1 -177 1 -350 1 298 1 -686 1 337 1 -85 1 328 1 -265 1 -72 1 16 1 -217 1 31 1 103 1 415 1 -32 1 152 1 290 1 -240 1 -858 1 374 1 678 1 -430 1 69 1 -51 1 -520 1 584 1 -185 1 -279 1 452 1 446 1 -634 1 -369 1 388 1 -258 1 -507 1 641 1 292 1 -449 1 285 1 -14 1 -108 1 19 1 26 1 13 1 47 1 211 1 -327 1 -109 1 424 1 -371 1 890 1 -755 1 703 1 -545 1 15 1 185 1 -148 1 -173 1 -66 1 -177 1 -9 1 547 1 -994 1 1258 1 -239 1 -377 1 610 1 37 1 -230 1 -1025 1 119 1 764 1 -529 1 455 1 -234 1 227 1 -203 1 92 1 -476 1 460 1 -237 1 541 1 -485 1 317 1 37 1 -207 1 -193 1 275 1 -77 1 258 1 -482 1 -65 1 523 1 -126 1 263 1 47 1 -896 1 589 1 -28 1 -20 1 244 1 289 1 -607 1 15 1 229 1 28 1 -254 1 291 1 153 1 -567 1 543 1 -618 1 629 1 -668 1 12 1 -158 1 324 1 81 1 -32 1 -73 1 39 1 -83 1 34 1 174 1 -233 1 238 1 -416 1 -87 1 713 1 -533 1 305 1 -378 1 -175 1 45 1 165 1 767 1 -709 1 334 1 -224 1 181 1 -483 1 844 1 -326 1 -243 1 469 1 -867 1 305 1 394 1 456 1 -769 1 856 1 -231 1 -764 1 521 1 233 1 -783 1 919 1 -1130 1 1089 1 -89 1 186 1 -300 1 -203 1 -668 1 1205 1 -397 1 72 1 -511 1 -585 1 965 1 -482 1 302 1 205 1 -635 1 596 1 -410 1 63 1 446 1 -738 1 297 1 109 1 400 1 -350 1 234 1 -548 1 -124 1 413 1 530 1 -323 1 -289 1 -58 1 587 1 -211 1 -610 1 -153 1 1139 1 -518 1 -42 1 98 1 -127 1 -17 1 24 1 -532 1 457 1 -36 1 416 1 -28 1 -360 1 67 1 52 1 477 1 -231 1 -433 1 522 1 -582 1 497 1 -246 1 -301 1 173 1 60 1 291 1 53 1 -700 1 287 1 353 1 -130 1 1 1 28 1 22 1 113 1 -359 1 -383 1 565 1 -231 1 -203 1 343 1 -160 1 136 1 -389 1 504 1 -114 1 46 1 -173 1 -14 1 326 1 -60 1 -163 1 -170 1 307 1 -180 1 237 1 -269 1 151 1 30 1 -153 1 182 1 -318 1 440 1 -280 1 0 1 38 1 -28 1 -52 1 137 1 -123 1 48 1 70 1 -56 1 -88 1 236 1 171 1 -378 1 216 1 -232 1 65 1 -119 1 73 1 -24 1 93 1 -34 1 358 1 -434 1 212 1 30 1 -372 1 7 1 371 1 -296 1 124 1 -336 1 226 1 120 1 197 1 133 1 -385 1 302 1 -210 1 -33 1 2 1 -2 1 -188 1 213 1 -154 1 217 1 353 1 -597 1 445 1 -419 1 120 1 207 1 -78 1 103 1 25 1 -246 1 -38 1 179 1 -18 1 188 1 -602 1 498 1 -82 1 -125 1 -82 1 3 1 1 1 388 1 -256 1 -47 1 53 1 83 1 31 1 -123 1 -31 1 -94 1 121 1 -15 1 -80 1 52 1 262 1 -76 1 -85 1 154 1 -179 1 172 1 -194 1 242 1 -149 1 -139 1 -142 1 215 1 2 1 -198 1 141 1 -60 1 140 1 -246 1 201 1 303 1 -148 1 -155 1 245 1 -299 1 190 1 -82 1 -114 1 145 1 292 1 -502 1 -2 1 399 1 -361 1 82 1 -52 1 -44 1 190 1 -229 1 -5 1 122 1 125 1 139 1 -228 1 149 1 73 1 -142 1 60 1 -166 1 -225 1 381 1 -304 1 267 1 -220 1 -59 1 168 1 -183 1 214 1 -45 1 -5 1 279 1 -113 1 -172 1 173 1 -69 1 -121 1 -169 1 102 1 444 1 -317 1 87 1 195 1 -418 1 314 1 -637 1 264 1 -205 1 383 1 5 1 -137 1 14 1 651 1 -459 1 22 1 -268 1 18 1 188 1 -101 1 28 1 -25 1 -286 1 416 1 -31 1 68 1 30 1 228 1 -454 1 123 1 240 1 -361 1 321 1 -349 1 8 1 -135 1 200 1 475 1 -52 1 -376 1 91 1 138 1 -481 1 140 1 48 1 -371 1 238 1 36 1 62 1 24 1 -456 1 598 1 -209 1 213 1 25 1 -169 1 425 1 -761 1 361 1 26 1 294 1 -334 1 138 1 -78 1 400 1 -513 1 -122 1 85 1 196 1 212 1 -802 1 225 1 574 1 -392 1 -65 1 57 1 -90 1 -39 1 242 1 -177 1 510 1 -859 1 617 1 -250 1 480 1 -534 1 298 1 224 1 -211 1 -233 1 89 1 74 1 244 1 -253 1 91 1 -324 1 220 1 218 1 -280 1 -36 1 21 1 277 1 -115 1 -19 1 -201 1 -183 1 502 1 -264 1 230 1 -59 1 -194 1 -87 1 351 1 -524 1 -35 1 669 1 -409 1 174 1 150 1 176 1 -528 1 143 1 185 1 -155 1 -132 1 295 1 -444 1 450 1 -171 1 8 1 -113 1 74 1 212 1 -129 1 143 1 -88 1 -156 1 19 1 52 1 -80 1 299 1 -407 1 455 1 -381 1 -29 1 137 1 -197 1 464 1 -5 1 -31 1 52 1 -79 1 -482 1 394 1 -218 1 250 1 -179 1 -26 1 -74 1 237 1 82 1 -343 1 232 1 13 1 -89 1 -14 1 226 1 21 1 -93 1 -4 1 9 1 -216 1 84 1 18 1 -155 1 281 1 182 1 28 1 -376 1 -42 1 -57 1 257 1 -131 1 217 1 -395 1 221 1 -134 1 154 1 -85 1 -296 1 487 1 -140 1 21 1 -46 1 -162 1 182 1 141 1 166 1 -273 1 -143 1 329 1 -268 1 -5 1 43 1 124 1 -364 1 264 1 -34 1 -78 1 435 1 -673 1 318 1 49 1 2 1 275 1 -779 1 384 1 -120 1 -120 1 179 1 225 1 -156 1 505 1 -788 1 424 1 -8 1 -41 1 121 1 -207 1 176 1 -174 1 -56 1 -102 1 117 1 269 1 -286 1 289 1 -218 1 45 1 310 1 -586 1 258 1 233 1 -79 1 -44 1 236 1 -427 1 132 1 380 1 -673 1 392 1 10 1 -61 1 24 1 -286 1 224 1 -61 1 112 1 -49 1 380 1 -190 1 250 1 -250 1 -129 1 70 1 128 1 -471 1 -154 1 16 1 482 1 -242 1 11 1 89 1 149 1 -261 1 -91 1 68 1 273 1 -206 1 168 1 89 1 -275 1 -118 1 -88 1 147 1 -109 1 263 1 -317 1 308 1 -124 1 253 1 -397 1 250 1 132 1 -495 1 415 1 -193 1 -81 1 -129 1 338 1 -143 1 47 1 239 1 -812 1 844 1 294 1 -502 1 -71 1 61 1 217 1 339 1 -712 1 -484 1 727 1 -84 1 -19 1 -13 1 -432 1 548 1 -230 1 225 1 -172 1 -93 1 -203 1 705 1 -321 1 94 1 263 1 -229 1 -58 1 -562 1 759 1 -58 1 -439 1 -84 1 411 1 -120 1 348 1 -594 1 267 1 149 1 -41 1 -349 1 -39 1 198 1 528 1 -596 1 70 1 264 1 -83 1 178 1 -400 1 5 1 281 1 -198 1 41 1 -187 1 47 1 -2 1 29 1 -15 1 70 1 -5 1 256 1 124 1 -377 1 333 1 -189 1 -477 1 438 1 -296 1 436 1 -277 1 356 1 -26 1 -325 1 -82 1 346 1 -328 1 133 1 176 1 -183 1 137 1 194 1 -255 1 57 1 -207 1 -343 1 463 1 -23 1 85 1 -82 1 -105 1 0 1 110 1 -159 1 -79 1 266 1 -47 1 98 1 -185 1 67 1 -135 1 89 1 216 1 152 1 -351 1 129 1 -212 1 -134 1 161 1 59 1 -14 1 -94 1 185 1 183 1 -323 1 183 1 34 1 84 1 -67 1 70 1 -186 1 -276 1 35 1 131 1 -111 1 41 1 119 1 36 1 -85 1 167 1 351 1 -650 1 97 1 -142 1 523 1 -56 1 -508 1 415 1 -435 1 415 1 -87 1 10 1 -434 1 464 1 0 1 274 1 -289 1 -42 1 -162 1 305 1 67 1 -17 1 39 1 -262 1 -305 1 363 1 340 1 -47 1 -482 1 685 1 -170 1 -135 1 -457 1 416 1 68 1 317 1 -664 1 40 1 366 1 -13 1 -68 1 -341 1 -33 1 220 1 52 1 105 1 -396 1 -207 1 644 1 -287 1 -11 1 258 1 -562 1 330 1 -77 1 187 1 -116 1 161 1 -446 1 195 1 -103 1 444 1 45 1 -267 1 140 1 -204 1 -92 1 447 1 -324 1 322 1 229 1 -784 1 390 1 -200 1 163 1 -601 1 649 1 -323 1 256 1 31 1 86 1 -174 1 65 1 -128 1 -257 1 191 1 26 1 37 1 105 1 17 1 177 1 196 1 -640 1 256 1 61 1 -143 1 198 1 -619 1 620 1 -186 1 -360 1 351 1 473 1 -437 1 478 1 40 1 -423 1 -132 1 225 1 172 1 82 1 -326 1 -274 1 547 1 -762 1 366 1 68 1 103 1 -254 1 175 1 178 1 -199 1 -207 1 387 1 -146 1 -274 1 63 1 635 1 -501 1 178 1 -252 1 83 1 28 1 -114 1 322 1 79 1 -60 1 -311 1 -60 1 -353 1 798 1 -357 1 -233 1 20 1 502 1 -278 1 272 1 -147 1 200 1 -178 1 -818 1 1111 1 -699 1 740 1 -363 1 -243 1 68 1 -83 1 316 1 36 1 -492 1 -135 1 833 1 -243 1 -460 1 630 1 46 1 -193 1 10 1 -285 1 -649 1 988 1 -413 1 753 1 -649 1 260 1 -356 1 -182 1 245 1 695 1 -552 1 -526 1 794 1 37 1 -530 1 242 1 -30 1 -202 1 224 1 -434 1 502 1 162 1 -478 1 391 1 27 1 -54 1 226 1 -374 1 -197 1 397 1 -70 1 -686 1 568 1 -213 1 96 1 120 1 370 1 -289 1 -281 1 27 1 198 1 50 1 597 1 -950 1 99 1 399 1 -344 1 136 1 -466 1 -11 1 606 1 -446 1 469 1 -330 1 209 1 233 1 -532 1 2 1 517 1 -303 1 -45 1 276 1 -501 1 253 1 -333 1 -21 1 539 1 150 1 -280 1 -453 1 365 1 123 1 -97 1 328 1 -543 1 311 1 -180 1 72 1 -69 1 227 1 -461 1 248 1 175 1 140 1 56 1 -237 1 255 1 36 1 -370 1 553 1 -115 1 -479 1 45 1 -90 1 93 1 122 1 -20 1 -172 1 228 1 184 1 -79 1 -62 1 -247 1 9 1 478 1 -391 1 -191 1 395 1 176 1 -740 1 736 1 -609 1 425 1 -179 1 -156 1 -75 1 -15 1 -48 1 197 1 308 1 -280 1 478 1 -474 1 -93 1 146 1 348 1 -498 1 152 1 209 1 -307 1 205 1 -136 1 -5 1 14 1 -21 1 194 1 -445 1 58 1 153 1 -200 1 111 1 -48 1 205 1 -292 1 261 1 -66 1 308 1 -474 1 -7 1 18 1 80 1 39 1 260 1 -242 1 104 1 13 1 116 1 -328 1 99 1 133 1 233 1 -339 1 -11 1 241 1 -107 1 -14 1 291 1 -410 1 237 1 180 1 -372 1 428 1 -244 1 -62 1 175 1 -192 1 -418 1 423 1 -67 1 -200 1 333 1 -193 1 -52 1 469 1 -158 1 59 1 36 1 -472 1 481 1 -441 1 -1 1 209 1 -106 1 316 1 -320 1 155 1 -104 1 -115 1 74 1 -26 1 93 1 -51 1 161 1 -184 1 91 1 220 1 -188 1 379 1 -440 1 33 1 50 1 96 1 -66 1 -141 1 -31 1 -37 1 71 1 -281 1 53 1 10 1 483 1 -221 1 148 1 -245 1 110 1 -232 1 -236 1 346 1 -55 1 -26 1 -168 1 426 1 43 1 -52 1 122 1 -434 1 326 1 -154 1 -100 1 118 1 -235 1 148 1 75 1 -437 1 815 1 -128 1 -43 1 241 1 -269 1 -18 1 283 1 -578 1 -240 1 632 1 -330 1 360 1 -106 1 -388 1 180 1 -302 1 331 1 -62 1 281 1 308 1 -464 1 -158 1 112 1 -59 1 -106 1 197 1 -389 1 79 1 309 1 197 1 -123 1 -224 1 388 1 -223 1 386 1 -339 1 -141 1 -320 1 661 1 -77 1 98 1 -504 1 -135 1 624 1 -347 1 -604 1 764 1 -468 1 646 1 -77 1 -725 1 543 1 -81 1 144 1 -412 1 -42 1 509 1 -622 1 405 1 114 1 64 1 -84 1 403 1 -228 1 -279 1 4 1 -119 1 188 1 384 1 -283 1 -159 1 -215 1 -249 1 468 1 -132 1 219 1 -284 1 353 1 -184 1 -71 1 172 1 -146 1 81 1 -131 1 227 1 -407 1 300 1 127 1 58 1 -61 1 144 1 -200 1 451 1 -599 1 -294 1 -33 1 55 1 367 1 -335 1 45 1 436 1 -507 1 379 1 166 1 63 1 -194 1 -341 1 85 1 513 1 35 1 -432 1 281 1 -23 1 -241 1 306 1 -428 1 329 1 6 1 -170 1 -94 1 487 1 -542 1 -22 1 -120 1 274 1 9 1 -148 1 456 1 -234 1 109 1 -461 1 249 1 448 1 -120 1 -139 1 163 1 -97 1 -100 1 25 1 19 1 -211 1 522 1 161 1 -543 1 -46 1 575 1 -455 1 33 1 -27 1 -90 1 -106 1 279 1 -552 1 616 1 109 1 -420 1 -36 1 564 1 -513 1 -91 1 357 1 -485 1 -231 1 494 1 -122 1 -60 1 10 1 28 1 74 1 -462 1 716 1 -262 1 -9 1 16 1 263 1 -120 1 449 1 -1025 1 698 1 37 1 -912 1 817 1 -161 1 -4 1 29 1 95 1 -181 1 -79 1 395 1 -226 1 199 1 433 1 -955 1 110 1 44 1 146 1 427 1 -294 1 156 1 189 1 -922 1 387 1 -80 1 266 1 -348 1 638 1 -511 1 -63 1 -63 1 -60 1 297 1 -129 1 213 1 -186 1 221 1 -58 1 206 1 -83 1 -297 1 414 1 -421 1 -79 1 416 1 -502 1 133 1 -197 1 6 1 416 1 -284 1 599 1 -54 1 -254 1 -231 1 144 1 -54 1 311 1 -683 1 390 1 53 1 71 1 64 1 -243 1 225 1 -400 1 506 1 -165 1 -109 1 270 1 -401 1 -213 1 476 1 -91 1 -93 1 -77 1 248 1 90 1 -388 1 -102 1 442 1 -376 1 502 1 29 1 -425 1 610 1 -544 1 36 1 -5 1 115 1 81 1 -102 1 -222 1 79 1 -259 1 109 1 251 1 -37 1 -117 1 162 1 -203 1 146 1 19 1 194 1 5 1 -424 1 128 1 -288 1 788 1 -868 1 430 1 -314 1 338 1 34 1 81 1 -257 1 275 1 -293 1 -53 1 30 1 5 1 504 1 -164 1 -55 1 -532 1 384 1 145 1 -476 1 539 1 -405 1 208 1 51 1 -71 1 18 1 92 1 131 1 65 1 -31 1 -228 1 -397 1 166 1 116 1 206 1 100 1 -289 1 -53 1 140 1 20 1 90 1 12 1 -179 1 -414 1 377 1 -454 1 499 1 510 1 -259 1 -157 1 334 1 -586 1 259 1 23 1 -219 1 20 1 226 1 -79 1 -147 1 79 1 143 1 -158 1 -96 1 204 1 -94 1 46 1 -240 1 206 1 -59 1 -203 1 563 1 -265 1 19 1 118 1 101 1 -69 1 -330 1 176 1 -161 1 72 1 121 1 157 1 -446 1 368 1 -78 1 -290 1 811 1 -622 1 272 1 -261 1 88 1 109 1 -175 1 -9 1 266 1 -29 1 296 1 -469 1 -454 1 75 1 428 1 -338 1 -97 1 572 1 -613 1 -5 1 401 1 229 1 -85 1 -441 1 430 1 -404 1 300 1 -776 1 413 1 379 1 -120 1 130 1 -994 1 1225 1 -118 1 285 1 -612 1 345 1 -73 1 -186 1 167 1 -95 1 137 1 -197 1 62 1 -192 1 79 1 146 1 25 1 18 1 119 1 -374 1 -6 1 -207 1 689 1 153 1 -364 1 64 1 -331 1 215 1 309 1 -261 1 -414 1 413 1 -70 1 214 1 192 1 -388 1 113 1 120 1 -455 1 162 1 -358 1 478 1 120 1 -90 1 27 1 -306 1 -21 1 551 1 -157 1 -270 1 258 1 -364 1 -61 1 363 1 -117 1 109 1 586 1 -548 1 -67 1 535 1 -809 1 183 1 -98 1 112 1 698 1 -1252 1 956 1 -778 1 -84 1 432 1 17 1 -67 1 -250 1 549 1 -606 1 591 1 684 1 -1282 1 486 1 -45 1 -522 1 486 1 304 1 -11 1 -82 1 -402 1 147 1 -244 1 651 1 -604 1 -105 1 154 1 701 1 -1016 1 762 1 -37 1 -400 1 228 1 -514 1 563 1 21 1 -361 1 274 1 -45 1 155 1 35 1 107 1 -339 1 193 1 83 1 213 1 -433 1 -156 1 -50 1 147 1 -419 1 169 1 443 1 330 1 -168 1 -485 1 440 1 -210 1 -205 1 429 1 -99 1 -7 1 -76 1 86 1 -282 1 -1 1 -62 1 310 1 -90 1 101 1 -267 1 10 1 50 1 5 1 -49 1 316 1 -237 1 -529 1 376 1 159 1 -20 1 -18 1 -50 1 305 1 -408 1 270 1 28 1 6 1 202 1 -509 1 40 1 169 1 24 1 6 1 -195 1 46 1 302 1 -136 1 0 1 27 1 148 1 -299 1 71 1 -287 1 188 1 99 1 48 1 -201 1 -92 1 77 1 -185 1 151 1 137 1 90 1 146 1 -191 1 -136 1 143 1 -84 1 209 1 3 1 -400 1 204 1 347 1 -128 1 -207 1 -423 1 556 1 -44 1 -80 1 144 1 -77 1 45 1 -125 1 12 1 87 1 -111 1 -136 1 -10 1 242 1 -177 1 -7 1 31 1 219 1 -450 1 -58 1 429 1 -65 1 281 1 -297 1 -196 1 294 1 7 1 6 1 2 1 309 1 -429 1 128 1 -75 1 -286 1 86 1 51 1 102 1 -155 1 454 1 -260 1 -150 1 42 1 134 1 -116 1 -75 1 -30 1 209 1 303 1 -773 1 407 1 72 1 -148 1 516 1 -348 1 -320 1 334 1 -245 1 334 1 -133 1 198 1 -364 1 227 1 213 1 -322 1 -131 1 112 1 98 1 -101 1 137 1 116 1 -329 1 -119 1 108 1 -115 1 135 1 83 1 -235 1 280 1 -18 1 -248 1 185 1 -194 1 353 1 -142 1 119 1 145 1 -117 1 -108 1 48 1 -122 1 67 1 278 1 -364 1 72 1 53 1 19 1 59 1 -295 1 100 1 64 1 57 1 53 1 -33 1 -55 1 -158 1 -38 1 -9 1 325 1 120 1 -393 1 -90 1 166 1 95 1 -127 1 51 1 148 1 -51 1 -137 1 -141 1 191 1 205 1 -462 1 541 1 -231 1 228 1 -371 1 -24 1 -94 1 269 1 -18 1 -59 1 51 1 62 1 -218 1 303 1 -444 1 196 1 143 1 -106 1 74 1 -309 1 223 1 45 1 -241 1 349 1 -318 1 71 1 -82 1 259 1 -171 1 240 1 41 1 -207 1 156 1 215 1 -605 1 -12 1 618 1 -470 1 668 1 -357 1 -562 1 564 1 -179 1 41 1 130 1 -253 1 52 1 82 1 -330 1 255 1 98 1 -39 1 20 1 -24 1 -347 1 191 1 -192 1 409 1 117 1 -145 1 -394 1 299 1 215 1 -57 1 52 1 13 1 -345 1 242 1 14 1 -247 1 82 1 87 1 394 1 -167 1 -197 1 8 1 -328 1 326 1 196 1 -285 1 193 1 175 1 -346 1 -256 1 299 1 -10 1 601 1 -587 1 -4 1 242 1 -379 1 88 1 40 1 -7 1 127 1 -47 1 -578 1 800 1 -366 1 272 1 -143 1 123 1 172 1 -359 1 -59 1 200 1 -116 1 457 1 -486 1 -88 1 632 1 -655 1 365 1 -343 1 316 1 234 1 -49 1 -445 1 241 1 160 1 -266 1 434 1 -71 1 38 1 -419 1 95 1 -399 1 83 1 362 1 -320 1 189 1 -273 1 92 1 -122 1 370 1 -248 1 208 1 107 1 -222 1 90 1 529 1 -405 1 238 1 -22 1 -143 1 -77 1 -481 1 473 1 -328 1 -74 1 280 1 262 1 -119 1 28 1 12 1 0 1 -384 1 -7 1 247 1 197 1 -222 1 -143 1 44 1 15 1 -33 1 -84 1 525 1 -277 1 -353 1 352 1 64 1 60 1 -353 1 -159 1 781 1 -675 1 -21 1 298 1 172 1 -21 1 -338 1 156 1 -140 1 134 1 -123 1 574 1 -240 1 -246 1 9 1 276 1 -377 1 77 1 -36 1 87 1 300 1 -421 1 -107 1 21 1 90 1 -136 1 28 1 69 1 235 1 -43 1 -109 1 129 1 -59 1 -28 1 -140 1 304 1 -151 1 -33 1 -28 1 92 1 -43 1 -207 1 113 1 -106 1 -314 1 291 1 705 1 -794 1 304 1 159 1 -172 1 12 1 -172 1 55 1 1 1 -86 1 191 1 148 1 53 1 154 1 -213 1 514 1 -592 1 -247 1 -67 1 331 1 116 1 19 1 -178 1 263 1 -258 1 -92 1 47 1 52 1 109 1 -384 1 34 1 466 1 -322 1 325 1 -111 1 -72 1 190 1 -288 1 174 1 33 1 53 1 -438 1 202 1 339 1 -173 1 145 1 43 1 -480 1 128 1 331 1 -206 1 -321 1 302 1 -11 1 -214 1 31 1 304 1 -48 1 -427 1 41 1 144 1 76 1 -22 1 -182 1 275 1 -570 1 283 1 212 1 -7 1 -28 1 117 1 -45 1 -126 1 487 1 -434 1 697 1 -1100 1 655 1 -550 1 -111 1 185 1 -498 1 609 1 108 1 -241 1 142 1 241 1 -288 1 417 1 -446 1 694 1 -505 1 -356 1 555 1 -129 1 -469 1 932 1 -646 1 270 1 577 1 -916 1 -12 1 326 1 -792 1 969 1 -551 1 646 1 -55 1 -662 1 -57 1 726 1 -700 1 352 1 125 1 112 1 -232 1 -237 1 459 1 -103 1 178 1 -605 1 738 1 -293 1 -243 1 266 1 -202 1 -498 1 337 1 281 1 -18 1 -15 1 -282 1 -79 1 172 1 172 1 -83 1 123 1 -279 1 27 1 -6 1 85 1 -83 1 142 1 -105 1 461 1 -522 1 -58 1 343 1 303 1 -448 1 -255 1 476 1 -437 1 238 1 -51 1 -215 1 468 1 -111 1 -115 1 99 1 -327 1 197 1 140 1 81 1 -552 1 498 1 -321 1 -226 1 619 1 60 1 -444 1 382 1 -154 1 150 1 219 1 -133 1 -213 1 -256 1 86 1 77 1 -55 1 185 1 45 1 228 1 -127 1 -446 1 685 1 -451 1 -74 1 -241 1 342 1 386 1 -410 1 100 1 -22 1 110 1 -313 1 -14 1 259 1 57 1 -290 1 192 1 108 1 -112 1 -144 1 464 1 -118 1 -151 1 -142 1 -202 1 148 1 88 1 -184 1 367 1 -420 1 535 1 -378 1 -72 1 93 1 150 1 106 1 -415 1 342 1 -218 1 -177 1 35 1 475 1 -518 1 147 1 135 1 304 1 -758 1 477 1 4 1 -389 1 259 1 25 1 192 1 -192 1 -50 1 167 1 200 1 -544 1 309 1 -63 1 39 1 226 1 -352 1 -207 1 295 1 -252 1 697 1 -57 1 -598 1 262 1 -399 1 356 1 -73 1 596 1 -354 1 -64 1 226 1 -387 1 282 1 -356 1 22 1 668 1 -1258 1 910 1 -365 1 458 1 -462 1 252 1 -410 1 664 1 -500 1 -197 1 -491 1 381 1 708 1 -554 1 -16 1 376 1 -52 1 83 1 -120 1 609 1 -857 1 138 1 123 1 235 1 275 1 -423 1 229 1 -115 1 755 1 -1067 1 606 1 -419 1 83 1 134 1 174 1 -583 1 163 1 -245 1 -539 1 1478 1 -601 1 -67 1 -234 1 178 1 193 1 269 1 -293 1 -47 1 -383 1 145 1 200 1 -591 1 429 1 171 1 499 1 -1058 1 113 1 691 1 -1036 1 1503 1 -650 1 224 1 -99 1 -730 1 732 1 -503 1 242 1 74 1 69 1 189 1 -245 1 359 1 -269 1 -281 1 328 1 -286 1 402 1 -381 1 12 1 424 1 -898 1 736 1 -311 1 390 1 -26 1 -505 1 455 1 375 1 -648 1 370 1 528 1 -1383 1 543 1 663 1 -642 1 7 1 -288 1 -540 1 1115 1 -35 1 205 1 -226 1 -501 1 -283 1 680 1 374 1 -327 1 40 1 376 1 -700 1 101 1 349 1 -427 1 -101 1 98 1 342 1 -450 1 132 1 199 1 -363 1 98 1 233 1 13 1 -315 1 68 1 448 1 -419 1 132 1 -32 1 -155 1 403 1 -294 1 -428 1 987 1 -547 1 111 1 45 1 -209 1 -185 1 42 1 96 1 352 1 -276 1 219 1 -764 1 367 1 293 1 -328 1 491 1 -248 1 -21 1 -180 1 208 1 -326 1 598 1 -152 1 -150 1 -187 1 364 1 -304 1 440 1 -82 1 -324 1 118 1 446 1 -260 1 75 1 -330 1 279 1 -438 1 411 1 63 1 -247 1 137 1 -168 1 21 1 104 1 38 1 -57 1 60 1 -284 1 -81 1 358 1 -534 1 144 1 57 1 383 1 -17 1 437 1 -611 1 -7 1 37 1 -224 1 425 1 -341 1 21 1 173 1 -124 1 179 1 41 1 7 1 -143 1 -150 1 151 1 -196 1 -74 1 -12 1 462 1 -432 1 460 1 -222 1 -52 1 74 1 283 1 -559 1 348 1 -173 1 -111 1 -196 1 211 1 -3 1 188 1 165 1 -88 1 -135 1 406 1 -482 1 140 1 -80 1 217 1 -38 1 -108 1 141 1 -72 1 -210 1 362 1 -328 1 -30 1 315 1 -282 1 123 1 610 1 -404 1 -339 1 -3 1 378 1 -155 1 -322 1 402 1 -581 1 753 1 -6 1 104 1 -778 1 510 1 372 1 -416 1 -166 1 416 1 -765 1 374 1 149 1 -251 1 147 1 244 1 -25 1 -251 1 -324 1 -95 1 175 1 111 1 -65 1 1015 1 -855 1 19 1 216 1 -538 1 200 1 327 1 -362 1 476 1 -453 1 240 1 333 1 -98 1 -258 1 1 1 158 1 -304 1 -179 1 553 1 39 1 -227 1 -133 1 -233 1 134 1 72 1 157 1 146 1 -198 1 84 1 -414 1 347 1 254 1 -447 1 -296 1 626 1 191 1 -182 1 -288 1 257 1 -631 1 508 1 -190 1 433 1 -485 1 691 1 78 1 -105 1 -213 1 -384 1 98 1 283 1 -132 1 -223 1 89 1 -127 1 264 1 -100 1 292 1 -120 1 -232 1 374 1 -787 1 184 1 179 1 244 1 295 1 -236 1 -109 1 -65 1 -381 1 255 1 364 1 -163 1 -198 1 121 1 -136 1 -270 1 366 1 -89 1 -128 1 222 1 -25 1 102 1 -30 1 35 1 -90 1 -112 1 140 1 21 1 213 1 -200 1 -161 1 331 1 -186 1 188 1 291 1 -295 1 -455 1 74 1 322 1 -490 1 266 1 157 1 -163 1 -82 1 184 1 -76 1 -32 1 239 1 -269 1 96 1 342 1 -85 1 -194 1 -51 1 107 1 -7 1 -357 1 122 1 442 1 -485 1 618 1 -226 1 -171 1 -106 1 144 1 166 1 -80 1 218 1 -212 1 -275 1 298 1 50 1 -211 1 -202 1 33 1 337 1 -366 1 675 1 -260 1 -643 1 182 1 290 1 -336 1 280 1 267 1 -64 1 -443 1 474 1 64 1 -443 1 352 1 -331 1 -193 1 682 1 -13 1 -566 1 -469 1 1005 1 -449 1 272 1 -470 1 507 1 166 1 -265 1 188 1 -138 1 187 1 -430 1 -7 1 -397 1 431 1 40 1 -244 1 622 1 -368 1 949 1 -697 1 -412 1 238 1 218 1 104 1 128 1 -581 1 434 1 -312 1 297 1 -318 1 24 1 114 1 -291 1 191 1 115 1 -652 1 385 1 15 1 432 1 -251 1 -46 1 -205 1 337 1 -213 1 368 1 -359 1 67 1 185 1 -40 1 -576 1 502 1 -72 1 -508 1 178 1 617 1 -173 1 -230 1 400 1 -756 1 878 1 -549 1 588 1 -541 1 -31 1 232 1 -158 1 366 1 -62 1 -328 1 46 1 53 1 496 1 -505 1 302 1 -303 1 -228 1 -229 1 532 1 72 1 -68" fill="none" stroke="#808080" stroke-width="0.45" vector-effect="non-scaling-stroke"/>
<line x1="41.4" y1="129.20000000000002" x2="334.6" y2="129.20000000000002" stroke="#454545" stroke-width="1.2"/>
<line x1="41.4" y1="52.3" x2="334.6" y2="52.3" stroke="#5a5a5a" stroke-width="1.1" stroke-dasharray="6.7 4.1"/>
<line x1="41.4" y1="205.5" x2="334.6" y2="205.5" stroke="#5a5a5a" stroke-width="1.1" stroke-dasharray="6.7 4.1"/>
<polyline points="41.4,122.6 43.8,121.0 45.5,122.0 47.1,124.2 48.8,123.7 50.4,130.3 52.0,127.5 53.7,129.7 55.9,125.3 58.1,130.3 59.7,128.6 61.9,124.2 63.3,139.0 65.2,128.6 67.4,122.0 69.6,131.9 71.8,124.2 74.0,121.0 76.1,126.4 77.8,124.2 80.0,127.5 81.6,125.3 83.8,119.9 86.0,124.2 88.2,133.0 90.4,125.3 92.6,128.6 94.7,126.4 96.9,127.5 100.0,119.9 102.4,130.3 104.0,127.5 106.2,121.0 109.0,131.4 111.2,126.4 112.8,136.3 113.1,129.7 114.7,124.2 116.4,121.5 117.5,126.4 119.7,128.1 121.9,130.3 123.5,133.0 125.7,128.1 127.3,136.3 129.0,131.9 130.1,136.3 131.7,126.4 133.4,135.2 135.0,136.3 136.6,139.0 138.3,133.5 139.9,132.4 141.6,129.7 143.2,137.4 144.8,133.5 145.9,134.6 147.6,140.1 149.2,131.9 150.9,125.9 152.5,123.7 154.2,122.6 155.8,121.5 156.9,131.4 158.0,134.6 159.1,130.3 160.7,129.2 162.4,124.8 164.0,129.2 165.7,130.8 167.3,124.8 168.9,126.4 170.6,127.5 172.2,132.4 173.9,127.5 175.5,124.2 177.7,121.5 179.9,125.3 182.1,124.2 184.3,125.3 185.9,120.4 186.3,118.8 187.7,122.6 189.4,126.4 191.0,118.2 192.1,123.1 193.8,130.3 196.0,125.9 197.6,127.5 199.2,131.9 201.4,135.7 203.1,129.7 205.3,125.9 206.9,130.3 208.3,123.7 209.6,130.8 211.3,129.2 212.9,134.6 214.8,139.6 216.8,131.9 218.4,133.0 220.0,129.7 221.7,132.4 223.3,134.1 225.0,130.8 226.6,129.7 228.8,124.2 230.4,131.4 231.5,134.1 233.7,127.5 235.4,130.3 237.0,125.9 239.2,124.2 240.8,121.0 242.5,124.2 244.1,131.9 245.2,137.9 246.9,127.5 248.0,123.7 249.6,130.8 251.2,129.2 252.9,127.5 255.1,126.4 257.3,131.9 259.7,128.2 261.4,135.6 263.7,123.7 265.4,131.1 267.7,132.8 270.0,125.4 271.7,128.2 274.5,122.0 276.2,127.1 278.5,129.4 280.2,126.5 281.9,132.8 284.2,128.2 285.9,132.8 287.8,125.9 289.9,134.5 292.2,131.1 293.9,128.2 295.6,123.7 297.3,135.6 299.0,128.2 300.7,135.6 303.0,124.8 305.3,127.1 306.4,129.9 308.1,122.5 309.8,119.7 311.0,128.2 312.7,118.5 314.4,124.2 316.6,119.1 318.9,127.1 320.6,123.7 322.9,118.0 325.2,122.0 326.9,128.8 329.2,123.7 331.4,129.9 334.3,135.6" fill="none" stroke="#0000ff" stroke-width="1.45" stroke-linejoin="round"/>
<path transform="translate(41.400,0) scale(0.023200,0.1)" d="M0 3925l1 127 1 -89 1 214 1 4 1 -118 1 81 1 136 1 -206 1 136 1 55 1 -310 1 -27 1 -55 1 284 1 -59 1 274 1 -325 1 169 1 -97 1 -165 1 108 1 281 1 -542 1 516 1 -252 1 48 1 -89 1 164 1 -32 1 -31 1 -49 1 -458 1 525 1 -17 1 81 1 114 1 -197 1 102 1 -7 1 61 1 92 1 -24 1 -136 1 -186 1 397 1 -126 1 102 1 -398 1 -2 1 -81 1 319 1 -136 1 326 1 -357 1 181 1 52 1 -137 1 101 1 -43 1 -61 1 106 1 -250 1 333 1 -94 1 115 1 -475 1 305 1 -83 1 35 1 -235 1 135 1 82 1 122 1 -173 1 -131 1 190 1 -60 1 21 1 92 1 85 1 -249 1 231 1 98 1 -206 1 145 1 -211 1 5 1 60 1 -158 1 85 1 -60 1 116 1 51 1 161 1 -212 1 -10 1 205 1 -19 1 -240 1 -15 1 49 1 107 1 12 1 -325 1 282 1 -54 1 195 1 -219 1 -139 1 336 1 99 1 59 1 -320 1 68 1 -52 1 -146 1 314 1 225 1 -228 1 -232 1 207 1 -78 1 111 1 -230 1 -45 1 24 1 185 1 -333 1 -16 1 211 1 101 1 38 1 -112 1 -63 1 209 1 -97 1 -199 1 203 1 -102 1 -58 1 168 1 88 1 -304 1 166 1 73 1 165 1 -309 1 147 1 -65 1 225 1 -64 1 -19 1 -165 1 268 1 -178 1 -139 1 -85 1 206 1 -77 1 145 1 -1 1 18 1 94 1 -283 1 27 1 -105 1 38 1 42 1 -109 1 394 1 -320 1 166 1 -109 1 -72 1 281 1 -187 1 75 1 34 1 -124 1 169 1 -212 1 141 1 -116 1 139 1 -131 1 82 1 -51 1 143 1 -217 1 166 1 -157 1 55 1 33 1 -110 1 187 1 -288 1 294 1 -1 1 258 1 -409 1 -35 1 150 1 -39 1 14 1 -105 1 165 1 51 1 -46 1 -82 1 -6 1 149 1 107 1 -103 1 -141 1 84 1 -120 1 203 1 -291 1 -57 1 377 1 -224 1 244 1 -215 1 -179 1 224 1 -73 1 93 1 -127 1 39 1 -20 1 -111 1 254 1 -97 1 130 1 -173 1 134 1 11 1 -202 1 50 1 196 1 -414 1 281 1 -104 1 -9 1 197 1 13 1 -30 1 19 1 -318 1 241 1 -227 1 302 1 -20 1 -59 1 77 1 -426 1 395 1 80 1 -758 1 631 1 75 1 -14 1 -210 1 -12 1 166 1 -113 1 -273 1 308 1 132 1 40 1 -151 1 32 1 -170 1 247 1 27 1 -174 1 143 1 -148 1 -151 1 351 1 -29 1 -326 1 238 1 -207 1 248 1 -83 1 -393 1 376 1 -337 1 179 1 135 1 -116 1 -188 1 127 1 254 1 115 1 -392 1 280 1 -54 1 -236 1 49 1 -75 1 436 1 -737 1 487 1 -12 1 -107 1 92 1 31 1 236 1 -42 1 -169 1 199 1 -416 1 533 1 -190 1 -233 1 -172 1 454 1 -225 1 519 1 -217 1 -448 1 230 1 -108 1 203 1 -140 1 6 1 68 1 296 1 -295 1 203 1 -290 1 100 1 -145 1 94 1 -69 1 102 1 -319 1 322 1 144 1 -338 1 127 1 114 1 -75 1 107 1 -58 1 -85 1 103 1 252 1 -280 1 73 1 -49 1 -72 1 -32 1 -249 1 470 1 -241 1 142 1 -224 1 79 1 101 1 2 1 116 1 -339 1 77 1 209 1 -330 1 350 1 -56 1 -132 1 -27 1 106 1 -108 1 162 1 -177 1 105 1 60 1 -34 1 82 1 -113 1 166 1 -260 1 208 1 -118 1 -284 1 598 1 -456 1 186 1 -105 1 5 1 -52 1 241 1 -352 1 93 1 113 1 -30 1 -337 1 333 1 32 1 43 1 -255 1 279 1 -228 1 193 1 1 1 -331 1 145 1 20 1 -175 1 515 1 -344 1 194 1 -134 1 -128 1 346 1 -93 1 -235 1 146 1 156 1 -286 1 302 1 -130 1 213 1 76 1 -455 1 327 1 -86 1 -219 1 355 1 -366 1 212 1 -60 1 -350 1 381 1 29 1 32 1 -215 1 87 1 170 1 3 1 -17 1 81 1 -304 1 72 1 36 1 87 1 19 1 58 1 -94 1 -28 1 -153 1 148 1 -153 1 5 1 64 1 126 1 136 1 -326 1 4 1 358 1 111 1 -329 1 113 1 9 1 -36 1 -163 1 142 1 -103 1 -35 1 232 1 -197 1 8 1 -39 1 148 1 -139 1 38 1 19 1 7 1 -6 1 15 1 -19 1 -144 1 260 1 -173 1 25 1 -105 1 64 1 -8 1 72 1 -93 1 78 1 -244 1 379 1 48 1 -289 1 -46 1 300 1 -162 1 -311 1 497 1 -349 1 291 1 143 1 -213 1 -77 1 -51 1 -96 1 215 1 -81 1 -86 1 211 1 -70 1 -77 1 159 1 -281 1 222 1 -104 1 39 1 -38 1 200 1 58 1 -325 1 240 1 -24 1 -58 1 153 1 84 1 -457 1 244 1 56 1 -94 1 -137 1 135 1 -162 1 193 1 91 1 120 1 -284 1 123 1 -23 1 -42 1 173 1 -238 1 142 1 125 1 -105 1 -256 1 156 1 116 1 -86 1 -69 1 7 1 -39 1 221 1 -192 1 152 1 -10 1 81 1 87 1 -294 1 -101 1 156 1 207 1 -132 1 -98 1 250 1 -207 1 -25 1 288 1 -381 1 82 1 155 1 -157 1 19 1 19 1 -98 1 -1 1 285 1 -180 1 -291 1 282 1 -157 1 9 1 363 1 -118 1 -72 1 -52 1 -184 1 128 1 125 1 17 1 -405 1 232 1 9 1 149 1 -230 1 128 1 -274 1 102 1 212 1 36 1 -38 1 -67 1 -207 1 141 1 63 1 -14 1 -22 1 198 1 -212 1 62 1 75 1 85 1 49 1 -418 1 418 1 -116 1 34 1 24 1 -259 1 141 1 345 1 40 1 -837 1 -4 1 758 1 -430 1 55 1 195 1 -35 1 -293 1 320 1 -59 1 -409 1 238 1 202 1 82 1 -305 1 192 1 -67 1 -181 1 287 1 -137 1 34 1 -235 1 24 1 267 1 -117 1 315 1 -93 1 -43 1 -76 1 56 1 -100 1 55 1 234 1 65 1 -15 1 -430 1 -80 1 149 1 186 1 -73 1 -18 1 240 1 -465 1 327 1 -174 1 -36 1 190 1 -286 1 178 1 -173 1 -44 1 415 1 -290 1 363 1 -473 1 100 1 16 1 142 1 -404 1 221 1 -203 1 72 1 245 1 1 1 268 1 50 1 -261 1 -81 1 253 1 -220 1 151 1 -252 1 -338 1 489 1 -258 1 260 1 -10 1 36 1 -36 1 21 1 -149 1 248 1 -159 1 -226 1 180 1 267 1 -157 1 56 1 -58 1 -207 1 488 1 -256 1 197 1 -551 1 -30 1 224 1 273 1 11 1 -72 1 -7 1 -104 1 -138 1 147 1 -69 1 109 1 23 1 -232 1 18 1 369 1 -462 1 232 1 -205 1 181 1 68 1 -249 1 185 1 11 1 -198 1 426 1 -283 1 297 1 -525 1 -12 1 177 1 218 1 -97 1 -13 1 -169 1 118 1 110 1 44 1 -170 1 -50 1 87 1 261 1 -111 1 -147 1 -177 1 177 1 -71 1 -40 1 -530 1 874 1 -432 1 191 1 -39 1 64 1 -242 1 108 1 -38 1 350 1 -356 1 -111 1 10 1 367 1 -55 1 -462 1 230 1 107 1 -170 1 286 1 -32 1 251 1 -425 1 206 1 364 1 -328 1 -73 1 195 1 51 1 -301 1 180 1 169 1 -359 1 -35 1 218 1 -61 1 31 1 -99 1 -72 1 19 1 50 1 -334 1 417 1 254 1 -454 1 -111 1 468 1 -131 1 -39 1 -259 1 -48 1 364 1 38 1 -267 1 226 1 1 1 -115 1 -165 1 56 1 -117 1 -172 1 -8 1 412 1 61 1 -210 1 76 1 320 1 -252 1 138 1 74 1 -444 1 349 1 -411 1 350 1 -271 1 337 1 -356 1 67 1 287 1 -243 1 22 1 254 1 -66 1 -210 1 191 1 31 1 -166 1 113 1 -7 1 -13 1 92 1 132 1 -302 1 349 1 -199 1 -236 1 72 1 227 1 -1 1 205 1 -450 1 -30 1 -210 1 54 1 64 1 296 1 -287 1 288 1 -269 1 32 1 378 1 -118 1 -216 1 347 1 -526 1 278 1 -324 1 504 1 -96 1 -207 1 -12 1 383 1 -272 1 -204 1 -177 1 653 1 54 1 -96 1 -86 1 -127 1 -87 1 -146 1 348 1 -181 1 163 1 -125 1 10 1 182 1 -167 1 554 1 -298 1 -348 1 85 1 256 1 203 1 -773 1 272 1 -330 1 411 1 -108 1 86 1 149 1 -421 1 113 1 162 1 -145 1 1 1 -146 1 -117 1 337 1 321 1 6 1 155 1 -279 1 -215 1 -252 1 352 1 -170 1 28 1 -163 1 31 1 348 1 -237 1 58 1 115 1 131 1 -401 1 520 1 -338 1 -53 1 135 1 -383 1 226 1 100 1 -84 1 -57 1 209 1 -71 1 -100 1 -17 1 72 1 -86 1 335 1 -101 1 -304 1 118 1 -131 1 296 1 -3 1 -115 1 34 1 66 1 -46 1 205 1 -240 1 182 1 157 1 -545 1 73 1 -93 1 142 1 80 1 80 1 -365 1 288 1 -52 1 257 1 -374 1 238 1 191 1 -160 1 -22 1 -286 1 45 1 -111 1 547 1 -237 1 50 1 4 1 193 1 -318 1 140 1 -254 1 406 1 -301 1 -148 1 121 1 -296 1 203 1 145 1 -48 1 63 1 -45 1 -107 1 348 1 -423 1 93 1 39 1 218 1 -70 1 -142 1 17 1 301 1 69 1 -283 1 -141 1 213 1 271 1 -442 1 190 1 -278 1 189 1 175 1 -94 1 -232 1 100 1 -12 1 188 1 -336 1 201 1 254 1 21 1 -171 1 188 1 -157 1 35 1 241 1 -542 1 332 1 -542 1 224 1 163 1 5 1 272 1 -248 1 306 1 -481 1 144 1 -111 1 -322 1 347 1 106 1 -145 1 -20 1 8 1 -51 1 85 1 -186 1 315 1 -489 1 125 1 277 1 125 1 -128 1 -194 1 207 1 -196 1 301 1 197 1 -204 1 -207 1 242 1 109 1 -348 1 266 1 -168 1 115 1 38 1 -224 1 -56 1 516 1 -104 1 -25 1 -136 1 -21 1 43 1 -121 1 33 1 75 1 4 1 -93 1 -32 1 248 1 -226 1 -53 1 102 1 -70 1 -152 1 55 1 -156 1 110 1 324 1 -156 1 -335 1 283 1 231 1 -327 1 287 1 -243 1 71 1 9 1 138 1 -172 1 50 1 -73 1 213 1 -81 1 -180 1 55 1 49 1 19 1 11 1 57 1 -38 1 132 1 -227 1 141 1 116 1 -71 1 -2 1 -106 1 -89 1 -76 1 114 1 -9 1 248 1 -288 1 191 1 -36 1 199 1 -333 1 273 1 -319 1 234 1 93 1 -229 1 105 1 77 1 -208 1 -25 1 -53 1 167 1 -114 1 315 1 -193 1 126 1 -120 1 239 1 -92 1 -180 1 35 1 -243 1 272 1 -148 1 208 1 -3 1 -179 1 202 1 -245 1 29 1 -121 1 150 1 -9 1 151 1 35 1 -139 1 161 1 30 1 -417 1 221 1 17 1 238 1 -118 1 -53 1 -115 1 140 1 101 1 -179 1 -116 1 256 1 -327 1 157 1 166 1 -247 1 99 1 -158 1 406 1 -234 1 84 1 -156 1 352 1 -72 1 -187 1 61 1 -324 1 285 1 149 1 -262 1 30 1 -15 1 127 1 -38 1 -294 1 373 1 -181 1 59 1 -61 1 -31 1 127 1 -232 1 -30 1 196 1 225 1 -256 1 18 1 10 1 45 1 -88 1 333 1 -204 1 -42 1 54 1 63 1 72 1 -224 1 48 1 27 1 -157 1 -8 1 85 1 97 1 -82 1 -431 1 223 1 242 1 -108 1 76 1 -91 1 288 1 -114 1 58 1 -361 1 424 1 -328 1 476 1 -429 1 46 1 -319 1 391 1 -215 1 45 1 279 1 269 1 -532 1 -138 1 -181 1 298 1 194 1 -334 1 67 1 471 1 -53 1 11 1 -439 1 51 1 -64 1 149 1 10 1 147 1 46 1 -25 1 53 1 30 1 -259 1 3 1 -81 1 567 1 -453 1 -152 1 7 1 91 1 74 1 -23 1 36 1 335 1 -491 1 163 1 265 1 -567 1 63 1 447 1 -459 1 315 1 -277 1 345 1 225 1 -531 1 -56 1 210 1 -239 1 -39 1 88 1 117 1 417 1 -176 1 63 1 -33 1 -275 1 -191 1 406 1 -353 1 497 1 -374 1 -95 1 273 1 -33 1 43 1 -230 1 184 1 -383 1 407 1 -434 1 396 1 14 1 157 1 -130 1 -320 1 149 1 243 1 2 1 -305 1 227 1 215 1 -479 1 269 1 -2 1 -136 1 94 1 244 1 -216 1 -53 1 -64 1 -51 1 -176 1 33 1 -89 1 251 1 -143 1 -135 1 549 1 -264 1 227 1 74 1 30 1 -298 1 -421 1 514 1 -94 1 -256 1 -171 1 622 1 -2 1 36 1 25 1 -42 1 -114 1 -22 1 99 1 -74 1 -62 1 77 1 -179 1 -47 1 431 1 37 1 -154 1 -303 1 60 1 198 1 -71 1 -92 1 272 1 -240 1 -8 1 0 1 -92 1 225 1 -372 1 243 1 93 1 122 1 -132 1 -251 1 274 1 -5 1 -94 1 -91 1 -91 1 122 1 76 1 350 1 -308 1 -49 1 -256 1 70 1 79 1 64 1 2 1 167 1 67 1 -35 1 -277 1 31 1 -58 1 -100 1 24 1 259 1 -188 1 225 1 -142 1 -37 1 89 1 6 1 454 1 -582 1 164 1 -277 1 159 1 313 1 -146 1 216 1 -604 1 138 1 173 1 -213 1 65 1 -129 1 377 1 -201 1 58 1 -233 1 169 1 410 1 -185 1 -144 1 -176 1 116 1 72 1 386 1 -359 1 -91 1 10 1 -188 1 276 1 -272 1 63 1 63 1 579 1 -97 1 -433 1 233 1 -143 1 102 1 -160 1 193 1 220 1 -407 1 309 1 -295 1 199 1 -449 1 390 1 -334 1 23 1 193 1 516 1 -458 1 201 1 -141 1 -208 1 -214 1 48 1 -176 1 500 1 -107 1 43 1 79 1 327 1 -506 1 135 1 54 1 48 1 -212 1 332 1 -412 1 141 1 -382 1 407 1 -71 1 -44 1 -67 1 248 1 59 1 343 1 -618 1 234 1 -6 1 141 1 -352 1 -18 1 116 1 -106 1 114 1 -133 1 141 1 171 1 -171 1 60 1 56 1 4 1 -72 1 -320 1 77 1 412 1 -353 1 97 1 191 1 -308 1 -187 1 190 1 262 1 27 1 -56 1 250 1 -158 1 -476 1 10 1 251 1 -251 1 420 1 -447 1 307 1 -159 1 243 1 215 1 -291 1 -390 1 274 1 -19 1 130 1 224 1 -300 1 -41 1 -114 1 -32 1 49 1 180 1 126 1 -68 1 -119 1 147 1 -172 1 283 1 -379 1 -61 1 291 1 -125 1 335 1 -330 1 163 1 0 1 153 1 15 1 -451 1 -115 1 212 1 234 1 42 1 -248 1 434 1 -348 1 262 1 -251 1 -228 1 152 1 244 1 28 1 -154 1 336 1 -307 1 67 1 -15 1 -139 1 -141 1 209 1 -36 1 -49 1 119 1 -93 1 209 1 -30 1 -201 1 286 1 -220 1 -214 1 40 1 117 1 144 1 -160 1 238 1 139 1 -417 1 142 1 -130 1 279 1 -393 1 335 1 -159 1 67 1 17 1 -107 1 -28 1 322 1 -150 1 -22 1 128 1 -252 1 183 1 -123 1 -158 1 100 1 96 1 -115 1 -11 1 187 1 -62 1 -69 1 -122 1 245 1 62 1 -114 1 60 1 -91 1 156 1 -12 1 -86 1 80 1 -123 1 191 1 -46 1 -149 1 171 1 -117 1 -57 1 52 1 -92 1 143 1 -88 1 21 1 266 1 -609 1 281 1 245 1 -303 1 -75 1 391 1 62 1 -319 1 105 1 -104 1 -88 1 245 1 17 1 -103 1 -190 1 212 1 -136 1 5 1 142 1 -33 1 -272 1 411 1 -230 1 18 1 -160 1 76 1 -149 1 266 1 -133 1 71 1 316 1 -371 1 316 1 -349 1 165 1 -323 1 348 1 97 1 -733 1 435 1 252 1 -40 1 -161 1 86 1 143 1 -43 1 -374 1 447 1 -275 1 159 1 4 1 -78 1 262 1 -91 1 -40 1 209 1 -356 1 52 1 167 1 -158 1 -128 1 212 1 26 1 -291 1 279 1 -176 1 87 1 25 1 169 1 -151 1 105 1 -179 1 75 1 -120 1 247 1 -163 1 -77 1 202 1 -29 1 -39 1 -17 1 -3 1 0 1 -42 1 -43 1 93 1 -95 1 231 1 -174 1 -14 1 -216 1 176 1 33 1 -218 1 148 1 -19 1 90 1 124 1 -357 1 313 1 96 1 -2 1 -169 1 -224 1 332 1 -74 1 84 1 12 1 -142 1 -201 1 111 1 -132 1 309 1 -125 1 -308 1 -9 1 475 1 -370 1 -73 1 554 1 -258 1 -102 1 145 1 308 1 -319 1 315 1 -145 1 -172 1 219 1 -453 1 -64 1 160 1 430 1 -445 1 101 1 -154 1 244 1 -161 1 318 1 -378 1 198 1 240 1 -472 1 -52 1 15 1 -178 1 712 1 -231 1 202 1 -345 1 139 1 240 1 -166 1 259 1 -386 1 -462 1 194 1 68 1 191 1 -159 1 -69 1 143 1 -204 1 341 1 -28 1 154 1 187 1 -345 1 406 1 -483 1 -12 1 13 1 -83 1 439 1 -649 1 477 1 -3 1 -36 1 -59 1 142 1 119 1 -299 1 86 1 180 1 -570 1 523 1 -317 1 89 1 231 1 -50 1 -108 1 -75 1 -39 1 115 1 99 1 52 1 -122 1 -18 1 138 1 -234 1 55 1 48 1 -76 1 159 1 -155 1 -10 1 404 1 -471 1 231 1 -77 1 -158 1 167 1 -225 1 -1 1 213 1 -358 1 35 1 169 1 -1 1 132 1 -312 1 326 1 -135 1 58 1 -128 1 8 1 521 1 -338 1 -58 1 268 1 -81 1 -601 1 418 1 114 1 -199 1 19 1 164 1 -145 1 6 1 -116 1 122 1 -10 1 49 1 123 1 -178 1 -279 1 129 1 306 1 -227 1 56 1 175 1 207 1 -589 1 471 1 -151 1 -75 1 -242 1 73 1 327 1 -424 1 580 1 -254 1 -66 1 -307 1 317 1 147 1 -81 1 2 1 -29 1 31 1 62 1 164 1 -402 1 87 1 161 1 -211 1 -179 1 273 1 -112 1 281 1 31 1 -27 1 48 1 -36 1 -219 1 -154 1 283 1 268 1 -273 1 165 1 -92 1 -81 1 -291 1 240 1 192 1 -240 1 10 1 -177 1 -76 1 123 1 -134 1 480 1 97 1 -578 1 434 1 -83 1 -177 1 119 1 359 1 -397 1 151 1 -245 1 100 1 -489 1 482 1 150 1 -511 1 345 1 -424 1 618 1 -209 1 154 1 -493 1 443 1 5 1 -336 1 499 1 180 1 -461 1 -97 1 292 1 375 1 -557 1 -163 1 233 1 -232 1 211 1 -246 1 18 1 628 1 -278 1 -223 1 19 1 431 1 -416 1 282 1 -97 1 101 1 -81 1 -252 1 -33 1 194 1 -51 1 211 1 -234 1 -204 1 228 1 364 1 -557 1 213 1 158 1 128 1 -208 1 193 1 -291 1 108 1 -99 1 -201 1 282 1 -343 1 555 1 54 1 -141 1 -280 1 72 1 104 1 91 1 -192 1 -20 1 84 1 144 1 -234 1 251 1 -176 1 -83 1 40 1 -50 1 105 1 -69 1 -66 1 132 1 -110 1 67 1 127 1 -8 1 -106 1 6 1 -18 1 -381 1 318 1 25 1 137 1 55 1 -208 1 -51 1 -66 1 221 1 23 1 -158 1 217 1 -7 1 -154 1 -24 1 -14 1 71 1 -316 1 54 1 212 1 72 1 104 1 -478 1 535 1 -481 1 341 1 -35 1 -242 1 252 1 -84 1 3 1 61 1 -226 1 17 1 -104 1 372 1 -12 1 -245 1 -22 1 184 1 -157 1 220 1 58 1 -347 1 242 1 -118 1 258 1 -507 1 558 1 -250 1 56 1 -115 1 -288 1 431 1 147 1 -29 1 -177 1 -248 1 -38 1 453 1 -177 1 73 1 -139 1 -66 1 236 1 -337 1 433 1 -112 1 80 1 -38 1 139 1 -265 1 154 1 -46 1 -11 1 -77 1 -238 1 421 1 117 1 -230 1 117 1 -240 1 -187 1 562 1 -318 1 -152 1 224 1 -224 1 271 1 -16 1 -138 1 109 1 -269 1 307 1 -127 1 -113 1 153 1 -64 1 67 1 78 1 -57 1 -69 1 -7 1 13 1 129 1 -323 1 275 1 -34 1 -269 1 160 1 68 1 173 1 -147 1 -99 1 118 1 15 1 -8 1 258 1 -277 1 -196 1 298 1 -239 1 338 1 -161 1 -93 1 23 1 25 1 127 1 -51 1 -77 1 -167 1 166 1 91 1 -90 1 -65 1 -127 1 461 1 -288 1 1 1 -5 1 -76 1 -40 1 496 1 -544 1 84 1 -160 1 189 1 105 1 -129 1 354 1 -108 1 -281 1 -67 1 527 1 -424 1 36 1 289 1 -46 1 -201 1 44 1 -38 1 6 1 -118 1 294 1 -153 1 34 1 -138 1 -172 1 467 1 -164 1 -209 1 176 1 -447 1 391 1 260 1 -137 1 -183 1 43 1 -50 1 35 1 16 1 -304 1 114 1 223 1 16 1 177 1 -101 1 -58 1 -320 1 457 1 -542 1 246 1 154 1 -231 1 440 1 23 1 -502 1 9 1 292 1 -68 1 471 1 -303 1 334 1 -789 1 55 1 58 1 -90 1 16 1 601 1 -264 1 106 1 -58 1 -128 1 -117 1 291 1 138 1 -623 1 546 1 -131 1 -253 1 -68 1 213 1 -54 1 150 1 -115 1 -183 1 215 1 -93 1 247 1 -2 1 -108 1 93 1 -153 1 -24 1 315 1 -535 1 376 1 134 1 -94 1 -259 1 223 1 -122 1 48 1 -123 1 16 1 186 1 -232 1 -50 1 23 1 -43 1 214 1 119 1 28 1 -438 1 153 1 152 1 -14 1 -70 1 138 1 -29 1 -133 1 -171 1 180 1 101 1 -16 1 32 1 -35 1 -285 1 93 1 301 1 -70 1 13 1 5 1 -139 1 132 1 -195 1 154 1 -73 1 -147 1 -50 1 68 1 181 1 -33 1 -39 1 5 1 21 1 183 1 -232 1 -70 1 87 1 -87 1 199 1 -58 1 -5 1 72 1 -238 1 42 1 57 1 -91 1 138 1 -147 1 -2 1 12 1 252 1 -3 1 14 1 -68 1 -12 1 -98 1 8 1 40 1 113 1 -375 1 384 1 -4 1 -131 1 232 1 -136 1 -64 1 -6 1 87 1 -228 1 324 1 -474 1 174 1 102 1 -101 1 -157 1 402 1 -525 1 500 1 -150 1 74 1 40 1 -295 1 103 1 -287 1 58 1 372 1 304 1 -291 1 -153 1 250 1 -52 1 107 1 48 1 -109 1 -97 1 -311 1 195 1 12 1 -8 1 164 1 -56 1 -145 1 261 1 -114 1 -158 1 206 1 -143 1 186 1 155 1 -562 1 331 1 -88 1 129 1 181 1 132 1 -383 1 -142 1 519 1 -196 1 -108 1 158 1 -421 1 353 1 -57 1 -70 1 -219 1 286 1 375 1 -745 1 567 1 -218 1 61 1 -202 1 507 1 -406 1 -120 1 -2 1 295 1 27 1 -556 1 83 1 149 1 -354 1 307 1 18 1 261 1 82 1 -252 1 202 1 -633 1 360 1 -21 1 210 1 -107 1 262 1 -292 1 38 1 -230 1 479 1 -438 1 504 1 -275 1 323 1 -175 1 -395 1 181 1 -63 1 -12 1 143 1 14 1 -129 1 -19 1 242 1 -146 1 -15 1 398 1 -322 1 -96 1 136 1 78 1 0 1 -118 1 -242 1 254 1 296 1 -325 1 2 1 -187 1 78 1 58 1 -118 1 269 1 -199 1 -136 1 23 1 179 1 -443 1 765 1 -127 1 -122 1 -201 1 -3 1 82 1 389 1 -209 1 78 1 48 1 -412 1 -119 1 269 1 -193 1 324 1 -95 1 39 1 -98 1 -120 1 306 1 -293 1 235 1 -361 1 112 1 70 1 367 1 142 1 -317 1 190 1 -185 1 328 1 -734 1 313 1 168 1 167 1 -432 1 -84 1 195 1 -169 1 -130 1 -43 1 197 1 359 1 -66 1 -47 1 52 1 -251 1 461 1 -630 1 131 1 164 1 -496 1 520 1 431 1 -438 1 212 1 -392 1 143 1 -192 1 69 1 -392 1 835 1 -2 1 -208 1 20 1 -35 1 81 1 76 1 77 1 -333 1 38 1 245 1 -171 1 112 1 -72 1 66 1 -267 1 58 1 3 1 30 1 246 1 -207 1 109 1 -23 1 55 1 258 1 -425 1 -144 1 24 1 116 1 186 1 -282 1 149 1 -78 1 -162 1 -25 1 34 1 132 1 121 1 -139 1 328 1 -298 1 -17 1 -100 1 162 1 48 1 73 1 -104 1 -20 1 -13 1 168 1 -293 1 -48 1 12 1 78 1 255 1 -104 1 59 1 -19 1 -117 1 228 1 -361 1 149 1 -46 1 -84 1 75 1 95 1 31 1 115 1 -347 1 90 1 165 1 -100 1 119 1 -344 1 300 1 -89 1 21 1 99 1 -145 1 -154 1 119 1 -86 1 432 1 -532 1 313 1 -237 1 250 1 -172 1 -119 1 148 1 174 1 106 1 28 1 47 1 -255 1 45 1 -34 1 -38 1 -87 1 58 1 48 1 -154 1 48 1 -35 1 156 1 -34 1 35 1 -8 1 52 1 -252 1 105 1 65 1 245 1 -454 1 190 1 -217 1 395 1 -221 1 65 1 14 1 -9 1 86 1 41 1 10 1 -339 1 13 1 191 1 9 1 75 1 -246 1 129 1 -65 1 151 1 -136 1 368 1 -265 1 -72 1 80 1 193 1 -302 1 -116 1 254 1 -13 1 -105 1 162 1 73 1 -151 1 429 1 -535 1 42 1 -254 1 607 1 -124 1 -21 1 -337 1 581 1 66 1 -478 1 -351 1 457 1 -305 1 149 1 326 1 -347 1 234 1 -54 1 63 1 -6 1 -139 1 -61 1 20 1 -341 1 557 1 -351 1 42 1 -175 1 255 1 -148 1 273 1 -236 1 257 1 -150 1 95 1 -317 1 300 1 -327 1 298 1 -394 1 379 1 3 1 158 1 -129 1 107 1 -8 1 -312 1 87 1 -448 1 695 1 150 1 -584 1 252 1 13 1 -165 1 34 1 322 1 -267 1 145 1 -194 1 -21 1 382 1 -439 1 208 1 45 1 -66 1 483 1 -606 1 162 1 -223 1 217 1 -433 1 221 1 -33 1 313 1 -191 1 281 1 -678 1 493 1 -174 1 107 1 171 1 -84 1 25 1 -185 1 28 1 154 1 -203 1 119 1 86 1 -19 1 -160 1 105 1 -65 1 -34 1 183 1 -76 1 88 1 143 1 -235 1 180 1 -166 1 -59 1 139 1 -92 1 -49 1 145 1 -156 1 74 1 65 1 -169 1 59 1 -34 1 -120 1 142 1 -107 1 -54 1 191 1 -65 1 56 1 -5 1 118 1 57 1 -69 1 -65 1 45 1 -269 1 268 1 -18 1 -17 1 -106 1 149 1 78 1 -308 1 187 1 -171 1 -110 1 234 1 47 1 -15 1 -33 1 68 1 54 1 -269 1 -31 1 192 1 146 1 36 1 -288 1 12 1 333 1 -80 1 -116 1 -51 1 32 1 -137 1 592 1 -547 1 -83 1 137 1 195 1 -210 1 -248 1 454 1 -209 1 203 1 -276 1 171 1 191 1 -119 1 83 1 -241 1 128 1 -62 1 -133 1 296 1 -138 1 -308 1 49 1 384 1 -116 1 -165 1 232 1 -200 1 28 1 125 1 45 1 191 1 -69 1 -196 1 -147 1 168 1 -49 1 260 1 -136 1 -229 1 -50 1 286 1 51 1 -184 1 -181 1 102 1 70 1 -96 1 -97 1 23 1 316 1 -331 1 255 1 -246 1 -77 1 96 1 235 1 120 1 -298 1 -178 1 539 1 -164 1 83 1 -345 1 270 1 -242 1 322 1 -223 1 -57 1 -51 1 280 1 -254 1 -25 1 108 1 3 1 -93 1 366 1 -66 1 -11 1 -455 1 32 1 27 1 226 1 10 1 178 1 -196 1 385 1 -377 1 271 1 -359 1 -103 1 247 1 45 1 -51 1 73 1 26 1 -87 1 -88 1 268 1 -294 1 64 1 -11 1 -255 1 297 1 -165 1 104 1 -7 1 108 1 208 1 -82 1 -122 1 169 1 -459 1 389 1 134 1 -456 1 309 1 -288 1 89 1 82 1 -2 1 -40 1 -220 1 165 1 205 1 -122 1 50 1 -359 1 192 1 374 1 -9 1 -240 1 -215 1 182 1 216 1 -180 1 123 1 -327 1 251 1 40 1 -163 1 -22 1 293 1 -216 1 -14 1 -7 1 53 1 -182 1 114 1 288 1 -270 1 176 1 -83 1 -51 1 111 1 8 1 -1 1 -180 1 79 1 101 1 -168 1 352 1 -505 1 76 1 0 1 211 1 -128 1 183 1 -172 1 -36 1 -2 1 106 1 168 1 -240 1 82 1 -130 1 37 1 119 1 26 1 -215 1 23 1 277 1 -384 1 249 1 -178 1 198 1 144 1 -337 1 172 1 -229 1 216 1 -2 1 -54 1 82 1 -66 1 27 1 -71 1 -372 1 167 1 237 1 28 1 -59 1 186 1 -233 1 -44 1 13 1 232 1 -66 1 205 1 -185 1 85 1 -324 1 306 1 -254 1 97 1 -29 1 19 1 -48 1 -27 1 -93 1 122 1 195 1 -78 1 -236 1 383 1 -300 1 -230 1 80 1 -155 1 445 1 -110 1 -75 1 93 1 -19 1 259 1 -404 1 134 1 -32 1 264 1 -397 1 197 1 53 1 -199 1 95 1 -73 1 297 1 -320 1 296 1 -234 1 -154 1 214 1 -185 1 12 1 256 1 -16 1 174 1 -273 1 -29 1 -61 1 241 1 -224 1 57 1 46 1 -291 1 237 1 51 1 45 1 -189 1 177 1 -425 1 298 1 101 1 85 1 104 1 -131 1 -112 1 113 1 140 1 -196 1 87 1 34 1 -326 1 104 1 64 1 -175 1 125 1 235 1 -166 1 -47 1 -39 1 113 1 -75 1 -141 1 216 1 -277 1 68 1 327 1 -185 1 106 1 -129 1 -189 1 218 1 -279 1 659 1 -610 1 314 1 -113 1 -170 1 343 1 -180 1 -110 1 -237 1 339 1 347 1 -73 1 -458 1 427 1 -151 1 37 1 107 1 -368 1 86 1 383 1 -332 1 10 1 -152 1 186 1 138 1 149 1 -156 1 -115 1 -35 1 177 1 -141 1 -37 1 -243 1 173 1 84 1 -3 1 19 1 185 1 -494 1 384 1 -73 1 -244 1 310 1 -56 1 -263 1 285 1 55 1 -113 1 139 1 -195 1 127 1 -20 1 93 1 -274 1 586 1 -644 1 493 1 -222 1 -10 1 182 1 -322 1 -117 1 447 1 166 1 112 1 -351 1 -584 1 563 1 72 1 -96 1 74 1 50 1 -57 1 -164 1 -237 1 139 1 266 1 116 1 43 1 -194 1 -296 1 326 1 -351 1 352 1 -331 1 365 1 -17 1 -260 1 216 1 20 1 -185 1 105 1 -45 1 -331 1 249 1 578 1 -386 1 -444 1 422 1 32 1 -68 1 89 1 68 1 160 1 -109 1 -210 1 -327 1 8 1 406 1 -76 1 -54 1 227 1 -397 1 -8 1 69 1 138 1 -183 1 163 1 -51 1 23 1 -12 1 -177 1 298 1 36 1 -360 1 164 1 129 1 -29 1 -227 1 200 1 -94 1 253 1 -71 1 90 1 -268 1 165 1 -156 1 161 1 -94 1 -102 1 40 1 57 1 113 1 -247 1 436 1 -234 1 -25 1 17 1 -80 1 36 1 161 1 -312 1 201 1 71 1 40 1 -339 1 232 1 -252 1 146 1 77 1 -9 1 -42 1 108 1 34 1 -81 1 -126 1 50 1 93 1 37 1 -67 1 -181 1 95 1 93 1 -211 1 144 1 -27 1 179 1 32 1 -288 1 334 1 24 1 -288 1 39 1 -57 1 -25 1 -111 1 -171 1 405 1 218 1 -415 1 262 1 -187 1 118 1 -55 1 107 1 6 1 14 1 31 1 82 1 -377 1 78 1 265 1 -322 1 302 1 -136 1 161 1 -146 1 -51 1 22 1 -266 1 328 1 -58 1 138 1 -76 1 -227 1 147 1 73 1 -67 1 129 1 -128 1 13 1 -235 1 315 1 60 1 -254 1 -47 1 91 1 294 1 -7 1 -228 1 -155 1 39 1 -74 1 38 1 198 1 -37 1 -99 1 114 1 8 1 162 1 -322 1 311 1 -68 1 -228 1 156 1 -133 1 204 1 -94 1 -105 1 192 1 -109 1 -133 1 92 1 129 1 -93 1 -94 1 39 1 107 1 83 1 -230 1 130 1 21 1 32 1 50 1 -294 1 117 1 32 1 42 1 43 1 -21 1 -197 1 -39 1 135 1 66 1 -245 1 136 1 70 1 -23 1 109 1 -243 1 167 1 -66 1 275 1 -464 1 358 1 -347 1 261 1 -39 1 -184 1 56 1 135 1 88 1 -73 1 -208 1 101 1 283 1 -248 1 -269 1 186 1 -86 1 11 1 347 1 -248 1 4 1 98 1 -69 1 -32 1 -156 1 121 1 199 1 -9 1 -152 1 -102 1 46 1 205 1 -144 1 54 1 154 1 -326 1 63 1 4 1 349 1 -279 1 7 1 -190 1 359 1 -90 1 -9 1 -46 1 -243 1 328 1 105 1 -227 1 77 1 83 1 -197 1 119 1 186 1 -376 1 445 1 -125 1 -354 1 21 1 254 1 -38 1 -124 1 283 1 -43 1 -14 1 -347 1 174 1 333 1 -474 1 227 1 37 1 32 1 -160 1 -161 1 156 1 204 1 -31 1 -177 1 142 1 39 1 -210 1 -5 1 83 1 45 1 224 1 -196 1 -81 1 211 1 -254 1 -60 1 136 1 -151 1 -174 1 373 1 -198 1 16 1 152 1 162 1 -163 1 -61 1 -166 1 141 1 82 1 143 1 6 1 -15 1 -187 1 -87 1 -13 1 209 1 -261 1 167 1 156 1 -56 1 -50 1 -195 1 259 1 5 1 48 1 -169 1 -21 1 -139 1 -52 1 286 1 -25 1 -43 1 -124 1 473 1 -568 1 383 1 -201 1 109 1 -6 1 -168 1 325 1 -154 1 12 1 -27 1 -167 1 711 1 -617 1 -33 1 614 1 -731 1 380 1 360 1 -412 1 3 1 -9 1 -429 1 527 1 77 1 -232 1 -210 1 319 1 177 1 -249 1 -222 1 225 1 -225 1 -203 1 498 1 -300 1 -217 1 460 1 -84 1 45 1 134 1 -248 1 132 1 46 1 68 1 -341 1 33 1 346 1 165 1 -311 1 -9 1 -369 1 566 1 -182 1 -180 1 235 1 -196 1 47 1 44 1 100 1 239 1 -319 1 -171 1 206 1 -170 1 -61 1 -4 1 85 1 -266 1 375 1 -131 1 271 1 -359 1 154 1 -145 1 169 1 -40 1 183 1 -79 1 20 1 -178 1 89 1 -94 1 9 1 -31 1 57 1 49 1 -213 1 289 1 -92 1 32 1 248 1 256 1 -778 1 198 1 55 1 -99 1 188 1 -58 1 57 1 30 1 45 1 -55 1 -29 1 -108 1 120 1 86 1 -179 1 53 1 16 1 16 1 -287 1 242 1 30 1 -279 1 243 1 30 1 -335 1 637 1 -276 1 155 1 -261 1 77 1 -201 1 114 1 18 1 131 1 176 1 -602 1 279 1 258 1 -257 1 -208 1 508 1 42 1 -145 1 -110 1 -38 1 -66 1 186 1 41 1 -393 1 440 1 -295 1 119 1 -76 1 90 1 -45 1 245 1 -353 1 149 1 109 1 43 1 -499 1 534 1 -68 1 -56 1 -236 1 -216 1 324 1 46 1 -346 1 238 1 -3 1 29 1 225 1 -500 1 241 1 -78 1 248 1 124 1 11 1 -303 1 420 1 -335 1 353 1 -596 1 33 1 130 1 -51 1 -260 1 347 1 -389 1 252 1 174 1 -279 1 205 1 -66 1 -28 1 213 1 -292 1 359 1 -427 1 328 1 -164 1 90 1 -197 1 101 1 15 1 50 1 -14 1 344 1 -288 1 -280 1 455 1 -52 1 -472 1 631 1 -316 1 43 1 -122 1 20 1 44 1 74 1 200 1 -114 1 -56 1 -113 1 -189 1 87 1 290 1 -98 1 -212 1 127 1 311 1 -183 1 -32 1 171 1 -230 1 -247 1 195 1 -26 1 176 1 -163 1 -6 1 40 1 -114 1 -44 1 -98 1 363 1 -88 1 -49 1 119 1 -18 1 -428 1 312 1 -266 1 586 1 -440 1 384 1 -321 1 34 1 -77 1 -141 1 506 1 -462 1 194 1 -17 1 66 1 194 1 -445 1 277 1 -109 1 133 1 -59 1 -79 1 290 1 -166 1 -56 1 22 1 -40 1 128 1 -47 1 -69 1 -35 1 -202 1 135 1 173 1 0 1 -127 1 335 1 -74 1 -252 1 227 1 -306 1 246 1 -84 1 -248 1 451 1 -455 1 326 1 -73 1 170 1 -7 1 -103 1 -506 1 295 1 570 1 -279 1 -256 1 327 1 24 1 -223 1 93 1 67 1 158 1 -419 1 168 1 -271 1 349 1 -180 1 -296 1 484 1 20 1 144 1 -245 1 -300 1 36 1 415 1 -185 1 -190 1 142 1 -42 1 264 1 -60 1 -284 1 214 1 106 1 -240 1 59 1 -134 1 246 1 -309 1 168 1 38 1 -39 1 123 1 -56 1 75 1 67 1 1 1 209 1 -440 1 251 1 -283 1 18 1 -5 1 173 1 -166 1 22 1 32 1 18 1 297 1 -284 1 -46 1 55 1 -119 1 -11 1 134 1 73 1 -144 1 -15 1 208 1 -363 1 50 1 181 1 283 1 -339 1 275 1 -236 1 -283 1 523 1 -105 1 -204 1 24 1 244 1 -173 1 138 1 -35 1 -145 1 0 1 151 1 169 1 -253 1 -203 1 209 1 -201 1 164 1 48 1 -102 1 -17 1 1 1 123 1 18 1 -81 1 -36 1 -153 1 -54 1 214 1 124 1 -301 1 234 1 5 1 60 1 19 1 -104 1 184 1 -165 1 -176 1 122 1 37 1 112 1 -97 1 8 1 -167 1 97 1 101 1 -271 1 291 1 -10 1 -140 1 123 1 46 1 -5 1 29 1 -213 1 33 1 -74 1 -109 1 321 1 -47 1 -213 1 261 1 -24 1 -114 1 -423 1 443 1 -29 1 177 1 -135 1 -74 1 181 1 23 1 67 1 -57 1 -342 1 182 1 108 1 -300 1 90 1 -15 1 213 1 -234 1 340 1 -86 1 108 1 -203 1 113 1 -269 1 53 1 167 1 -37 1 97 1 -32 1 -30 1 -421 1 637 1 -403 1 304 1 -342 1 308 1 22 1 -232 1 1 1 -138 1 126 1 52 1 -100 1 -69 1 -185 1 288 1 102 1 261 1 -436 1 -79 1 227 1 5 1 264 1 -80 1 -127 1 8 1 -53 1 107 1 112 1 -675 1 390 1 213 1 -350 1 -81 1 390 1 -302 1 76 1 169 1 184 1 -457 1 362 1 -149 1 -137 1 213 1 -156 1 45 1 402 1 -294 1 -16 1 143 1 -521 1 583 1 -189 1 -44 1 -161 1 292 1 -235 1 -50 1 -129 1 470 1 -341 1 43 1 153 1 34 1 171 1 -370 1 -111 1 141 1 -80 1 15 1 -40 1 233 1 90 1 -58 1 -435 1 28 1 484 1 -407 1 375 1 -291 1 93 1 454 1 -302 1 -159 1 363 1 -365 1 -37 1 182 1 139 1 -112 1 154 1 -59 1 -1 1 -151 1 -89 1 -57 1 89 1 -72 1 49 1 -205 1 -18 1 620 1 -146 1 -198 1 113 1 -24 1 -112 1 -146 1 307 1 -80 1 -217 1 234 1 -112 1 304 1 -583 1 367 1 -178 1 118 1 -226 1 251 1 -48 1 -180 1 248 1 -26 1 -151 1 263 1 -158 1 32 1 134 1 -302 1 176 1 77 1 -260 1 375 1 -121 1 -187 1 291 1 -222 1 -36 1 -51 1 202 1 -94 1 50 1 7 1 -72 1 31 1 -28 1 112 1 -30 1 -187 1 63 1 -72 1 169 1 178 1 -205 1 239 1 -475 1 266 1 140 1 -319 1 119 1 15 1 -20 1 -58 1 709 1 -859 1 299 1 -186 1 170 1 -27 1 43 1 -114 1 78 1 -80 1 65 1 -54 1 55 1 239 1 -71 1 -533 1 305 1 -212 1 539 1 -341 1 456 1 -387 1 -139 1 328 1 -638 1 659 1 -31 1 -175 1 -235 1 42 1 178 1 -324 1 337 1 123 1 -306 1 8 1 408 1 -239 1 -40 1 109 1 -288 1 238 1 69 1 165 1 -142 1 -315 1 386 1 -280 1 102 1 167 1 -23 1 -205 1 -119 1 362 1 -136 1 27 1 30 1 -61 1 234 1 -233 1 148 1 -49 1 -203 1 140 1 -71 1 16 1 100 1 -83 1 -121 1 309 1 -221 1 250 1 -166 1 75 1 -119 1 -182 1 172 1 1 1 -31 1 -234 1 320 1 -110 1 -21 1 200 1 21 1 -264 1 7 1 210 1 13 1 -9 1 -105 1 285 1 -249 1 -86 1 -100 1 298 1 -196 1 145 1 74 1 -207 1 221 1 39 1 -202 1 -174 1 -81 1 73 1 6 1 98 1 190 1 -55 1 -117 1 242 1 -201 1 379 1 -399 1 126 1 -259 1 286 1 -8 1 -24 1 25 1 172 1 -31 1 -300 1 -118 1 111 1 21 1 264 1 -411 1 18 1 241 1 -186 1 65 1 -78 1 396 1 -233 1 -183 1 257 1 -27 1 92 1 -209 1 59 1 -191 1 250 1 -301 1 253 1 151 1 -39 1 -409 1 271 1 2 1 -16 1 91 1 158 1 -160 1 122 1 -384 1 352 1 10 1 -345 1 65 1 -181 1 251 1 51 1 236 1 -371 1 18 1 41 1 189 1 -168 1 15 1 -138 1 215 1 -128 1 -48 1 67 1 -7 1 49 1 100 1 48 1 146 1 -276 1 51 1 91 1 -265 1 115 1 -3 1 243 1 -151 1 -241 1 -155 1 320 1 -200 1 47 1 -34 1 127 1 -51 1 301 1 -239 1 120 1 -338 1 385 1 -276 1 125 1 -19 1 148 1 -168 1 139 1 -108 1 55 1 153 1 41 1 -319 1 105 1 44 1 -104 1 316 1 -330 1 43 1 70 1 66 1 -226 1 -55 1 189 1 113 1 -279 1 105 1 -75 1 -20 1 121 1 -145 1 168 1 121 1 -122 1 119 1 -21 1 -157 1 -38 1 116 1 -63 1 -40 1 -124 1 455 1 -119 1 271 1 -375 1 74 1 7 1 -483 1 321 1 293 1 -183 1 108 1 -109 1 31 1 -137 1 -15 1 -196 1 -21 1 480 1 -314 1 16 1 180 1 62 1 -98 1 72 1 -41 1 -223 1 512 1 -187 1 -347 1 64 1 -121 1 282 1 -145 1 -314 1 740 1 -227 1 -120 1 204 1 -222 1 158 1 -263 1 299 1 -407 1 589 1 -294 1 67 1 24 1 -164 1 -4 1 -90 1 58 1 69 1 47 1 -167 1 -43 1 293 1 -475 1 638 1 -431 1 161 1 121 1 244 1 -554 1 -167 1 200 1 -268 1 107 1 -139 1 494 1 -144 1 7 1 148 1 -42 1 -357 1 398 1 -247 1 -140 1 171 1 -173 1 87 1 -178 1 189 1 106 1 -60 1 269 1 -256 1 -5 1 261 1 -32 1 -93 1 -70 1 -138 1 -139 1 360 1 157 1 22 1 242 1 -471 1 37 1 -13 1 51 1 -363 1 108 1 178 1 -136 1 305 1 -458 1 639 1 -673 1 286 1 -414 1 508 1 72 1 -100 1 -266 1 455 1 -293 1 -187 1 339 1 55 1 117 1 -267 1 -150 1 98 1 -189 1 373 1 -236 1 62 1 95 1 130 1 169 1 -194 1 -410 1 589 1 227 1 -494 1 -71 1 -257 1 216 1 -195 1 558 1 -717 1 285 1 292 1 -424 1 79 1 609 1 -905 1 350 1 670 1 -300 1 -593 1 191 1 -190 1 516 1 -293 1 37 1 -164 1 496 1 -760 1 168 1 482 1 -406 1 560 1 -278 1 229 1 -187 1 33 1 -79 1 126 1 -438 1 46 1 454 1 83 1 -203 1 -238 1 133 1 262 1 -80 1 -319 1 498 1 -600 1 185 1 -262 1 450 1 322 1 -398 1 -56 1 3 1 41 1 116 1 34 1 -88 1 200 1 -522 1 237 1 85 1 -69 1 312 1 -281 1 -201 1 184 1 179 1 101 1 -233 1 106 1 -86 1 -71 1 -292 1 435 1 -297 1 290 1 -23 1 -76 1 239 1 -227 1 187 1 -338 1 99 1 432 1 -273 1 -370 1 357 1 -165 1 174 1 -354 1 329 1 -55 1 -41 1 -194 1 153 1 275 1 -10 1 -372 1 115 1 269 1 -85 1 -281 1 285 1 -198 1 8 1 -135 1 259 1 -32 1 82 1 -80 1 -117 1 -135 1 25 1 224 1 -172 1 156 1 -363 1 282 1 -1 1 -83 1 7 1 -71 1 -174 1 685 1 -413 1 181 1 244 1 -418 1 207 1 250 1 -225 1 -248 1 -110 1 116 1 287 1 433 1 -824 1 147 1 283 1 -373 1 383 1 0 1 -359 1 160 1 102 1 -468 1 213 1 -84 1 -67 1 486 1 -350 1 55 1 163 1 70 1 -221 1 37 1 242 1 -314 1 189 1 -187 1 185 1 -86 1 230 1 -247 1 -19 1 -372 1 -83 1 956 1 -268 1 -681 1 867 1 -772 1 382 1 245 1 231 1 -57 1 -381 1 -114 1 -82 1 -160 1 25 1 -161 1 536 1 -139 1 -290 1 736 1 -1116 1 750 1 -122 1 -118 1 -509 1 820 1 -3 1 -428 1 607 1 -444 1 322 1 -345 1 26 1 28 1 223 1 -222 1 545 1 -362 1 -233 1 -154 1 -210 1 931 1 100 1 -370 1 -77 1 -367 1 484 1 -301 1 334 1 -400 1 853 1 -556 1 -209 1 337 1 -383 1 -141 1 275 1 -108 1 491 1 -4 1 32 1 -222 1 427 1 -192 1 -153 1 126 1 -180 1 172 1 -750 1 223 1 812 1 -709 1 -120 1 116 1 54 1 214 1 -84 1 -527 1 708 1 164 1 2 1 -166 1 67 1 -316 1 -101 1 74 1 -347 1 170 1 63 1 183 1 -83 1 324 1 -106 1 -492 1 131 1 -374 1 807 1 -44 1 14 1 -316 1 -211 1 143 1 340 1 -22 1 132 1 -430 1 311 1 355 1 -1100 1 446 1 99 1 183 1 -325 1 413 1 -643 1 489 1 -88 1 -286 1 328 1 233 1 -381 1 -152 1 286 1 -178 1 31 1 446 1 -209 1 102 1 -748 1 264 1 40 1 89 1 -59 1 190 1 193 1 96 1 -332 1 37 1 377 1 -655 1 435 1 -54 1 52 1 -57 1 -76 1 215 1 -284 1 125 1 -415 1 583 1 -207 1 -384 1 604 1 -362 1 225 1 -44 1 -88 1 243 1 -424 1 255 1 376 1 -300 1 -34 1 -344 1 240 1 16 1 -9 1 -23 1 24 1 -48 1 -153 1 92 1 114 1 -80 1 157 1 134 1 -207 1 -128 1 -79 1 460 1 -296 1 -117 1 143 1 53 1 37 1 -297 1 281 1 -41 1 -56 1 99 1 -107 1 365 1 -170 1 11 1 -150 1 207 1 -174 1 -204 1 -14 1 150 1 44 1 14 1 92 1 -110 1 -30 1 73 1 -212 1 243 1 -38 1 -15 1 51 1 -366 1 37 1 4 1 421 1 -298 1 111 1 227 1 -460 1 88 1 136 1 74 1 85 1 -281 1 201 1 -223 1 118 1 -25 1 -8 1 183 1 -56 1 -272 1 262 1 77 1 -206 1 33 1 166 1 -225 1 270 1 -288 1 77 1 -48 1 88 1 -5 1 -191 1 182 1 10 1 -87 1 -43 1 142 1 -21 1 -236 1 282 1 171 1 -217 1 28 1 -242 1 294 1 -58 1 -18 1 -90 1 183 1 -26 1 7 1 -216 1 283 1 -81 1 177 1 -420 1 156 1 -27 1 103 1 -16 1 -129 1 54 1 -242 1 401 1 -160 1 -34 1 3 1 -4 1 77 1 -104 1 31 1 -172 1 249 1 62 1 -126 1 -94 1 100 1 183 1 -238 1 -23 1 84 1 128 1 -67 1 -86 1 -136 1 286 1 -71 1 -359 1 561 1 -80 1 -58 1 -13 1 -217 1 284 1 17 1 69 1 -318 1 -34 1 471 1 -336 1 -360 1 176 1 184 1 163 1 -420 1 173 1 -90 1 116 1 -164 1 366 1 -346 1 126 1 161 1 -216 1 126 1 -108 1 449 1 -530 1 252 1 -173 1 -20 1 -215 1 335 1 -66 1 121 1 -64 1 -197 1 64 1 -223 1 480 1 89 1 -275 1 -76 1 675 1 -599 1 319 1 -433 1 133 1 -189 1 237 1 -87 1 135 1 38 1 -310 1 690 1 -617 1 245 1 142 1 -92 1 -237 1 -13 1 53 1 -448 1 684 1 129 1 -73 1 157 1 -493 1 130 1 10 1 91 1 -165 1 -280 1 407 1 191 1 -467 1 -72 1 331 1 -228 1 195 1 24 1 -144 1 -53 1 162 1 -103 1 133 1 -12 1 85 1 -56 1 6 1 -301 1 150 1 330 1 -200 1 -127 1 41 1 226 1 -131 1 -38 1 -52 1 13 1 205 1 -319 1 159 1 -223 1 318 1 -80 1 15 1 -166 1 11 1 139 1 -47 1 23 1 -58 1 -2 1 -24 1 -59 1 62 1 -132 1 250 1 -58 1 62 1 -71 1 -204 1 278 1 40 1 -224 1 -19 1 263 1 -202 1 65 1 -112 1 134 1 -67 1 184 1 -105 1 -287 1 120 1 159 1 -6 1 -172 1 140 1 112 1 -52 1 -177 1 174 1 61 1 -172 1 -84 1 266 1 -29 1 -126 1 -36 1 169 1 -66 1 74 1 -114 1 -118 1 80 1 146 1 -105 1 -68 1 7 1 215 1 -69 1 -41 1 -106 1 -178 1 294 1 -338 1 423 1 46 1 -82 1 -177 1 127 1 -144 1 -25 1 75 1 85 1 325 1 -339 1 31 1 -216 1 189 1 73 1 7 1 -73 1 -146 1 336 1 -175 1 181 1 -157 1 89 1 -397 1 101 1 173 1 60 1 -231 1 -131 1 455 1 -340 1 283 1 138 1 -351 1 -97 1 134 1 179 1 -366 1 250 1 -216 1 -37 1 27 1 128 1 -148 1 206 1 -184 1 10 1 -69 1 299 1 -185 1 116 1 100 1 -87 1 -48 1 -48 1 -99 1 261 1 -95 1 -274 1 173 1 287 1 -117 1 -15 1 102 1 -423 1 210 1 -5 1 53 1 137 1 -177 1 -163 1 137 1 -12 1 449 1 -184 1 21 1 75 1 -230 1 130 1 -46 1 -50 1 -252 1 502 1 -296 1 -41 1 163 1 -66 1 140 1 -321 1 -293 1 132 1 253 1 98 1 253 1 -449 1 130 1 -193 1 282 1 124 1 -17 1 -337 1 -73 1 9 1 240 1 -380 1 631 1 -104 1 2 1 -288 1 182 1 268 1 -305 1 148 1 -100 1 279 1 -425 1 -472 1 629 1 -185 1 -207 1 180 1 -52 1 230 1 41 1 -304 1 4 1 404 1 -418 1 360 1 -208 1 -128 1 239 1 -105 1 -465 1 512 1 -250 1 64 1 -329 1 759 1 -216 1 -167 1 241 1 -81 1 -69 1 -88 1 111 1 90 1 88 1 -202 1 65 1 95 1 49 1 -66 1 -150 1 112 1 -42 1 197 1 -328 1 228 1 -51 1 -64 1 70 1 -124 1 -117 1 462 1 -77 1 -203 1 259 1 -90 1 -267 1 207 1 -84 1 -79 1 33 1 88 1 52 1 -48 1 -72 1 -165 1 98 1 183 1 -110 1 -20 1 -26 1 72 1 -173 1 96 1 -156 1 494 1 -216 1 -153 1 113 1 105 1 203 1 -174 1 -326 1 249 1 108 1 -142 1 -281 1 39 1 556 1 -289 1 -211 1 -33 1 -88 1 181 1 -24 1 -15 1 364 1 30 1 -326 1 -264 1 108 1 272 1 127 1 -350 1 101 1 43 1 150 1 -91 1 -67 1 -121 1 249 1 -63 1 -181 1 -74 1 480 1 -506 1 284 1 -139 1 0 1 79 1 204 1 -139 1 -108 1 233 1 -318 1 249 1 18 1 -129 1 27 1 56 1 129 1 -81 1 -186 1 19 1 -39 1 -66 1 73 1 -41 1 -8 1 182 1 -26 1 3 1 26 1 12 1 -61 1 57 1 -264 1 193 1 -34 1 161 1 -133 1 -147 1 322 1 -228 1 152 1 2 1 -2 1 33 1 -251 1 -74 1 166 1 -263 1 463 1 -125 1 -93 1 -112 1 -114 1 518 1 -152 1 -254 1 5 1 387 1 -185 1 -100 1 118 1 -55 1 -230 1 507 1 -106 1 -155 1 -379 1 480 1 -220 1 187 1 -11 1 -356 1 348 1 -141 1 -112 1 304 1 -174 1 288 1 -148 1 -332 1 265 1 -211 1 257 1 -81 1 229 1 -273 1 -181 1 137 1 -61 1 -269 1 250 1 390 1 -490 1 346 1 -204 1 220 1 -74 1 -81 1 -222 1 76 1 83 1 432 1 -48 1 -507 1 251 1 -255 1 181 1 309 1 -95 1 -96 1 -339 1 147 1 -36 1 513 1 -357 1 205 1 -134 1 -79 1 -72 1 320 1 -244 1 87 1 -55 1 -131 1 220 1 -236 1 157 1 -172 1 -141 1 448 1 -28 1 -115 1 -267 1 72 1 224 1 -265 1 663 1 -605 1 82 1 270 1 -53 1 -48 1 30 1 28 1 -125 1 -85 1 40 1 63 1 20 1 105 1 -76 1 58 1 -206 1 -44 1 -1 1 75 1 -188 1 112 1 173 1 -146 1 -96 1 -23 1 53 1 2 1 395 1 -21 1 55 1 -330 1 -96 1 43 1 -93 1 214 1 -130 1 254 1 -275 1 170 1 -457 1 381 1 37 1 22 1 -85 1 83 1 9 1 5 1 205 1 -263 1 182 1 84 1 -55 1 -70 1 -3 1 117 1 14 1 -289 1 71 1 250 1 -165 1 -247 1 207 1 98 1 -39 1 -67 1 -36 1 -21 1 -132 1 260 1 -22 1 -168 1 -5 1 10 1 59 1 330 1 -255 1 65 1 -74 1 14 1 -39 1 -245 1 435 1 -67 1 -9 1 -7 1 85 1 -230 1 182 1 291 1 -157 1 -191 1 -296 1 -157 1 328 1 174 1 -158 1 129 1 32 1 62 1 65 1 -152 1 -124 1 18 1 -90 1 603 1 -314 1 -30 1 -348 1 18 1 239 1 68 1 5 1 132 1 -147 1 -130 1 16 1 144 1 68 1 24 1 -110 1 240 1 -428 1 137 1 -180 1 80 1 325 1 -482 1 176 1 -12 1 60 1 71 1 -237 1 42 1 -21 1 -67 1 153 1 -81 1 13 1 -87 1 -56 1 27 1 -3 1 36 1 -76 1 47 1 477 1 -498 1 307 1 393 1 -273 1 -111 1 -155 1 424 1 -385 1 32 1 -310 1 332 1 43 1 -388 1 343 1 34 1 -21 1 -274 1 145 1 292 1 -107 1 -345 1 275 1 -373 1 426 1 123 1 175 1 -488 1 78 1 -16 1 -134 1 -8 1 254 1 -199 1 87 1 -77 1 -11 1 -80 1 104 1 251 1 65 1 108 1 -626 1 63 1 359 1 -43 1 -216 1 226 1 -102 1 -260 1 328 1 -40 1 -34 1 41 1 -325 1 416 1 -135 1 203 1 -170 1 5 1 -166 1 -77 1 244 1 -202 1 206 1 -82 1 -303 1 378 1 73 1 -257 1 -23 1 178 1 -109 1 62 1 -172 1 100 1 24 1 -6 1 236 1 -286 1 -118 1 62 1 37 1 178 1 119 1 -174 1 132 1 -240 1 211 1 -121 1 -2 1 -56 1 41 1 148 1 -177 1 102 1 -84 1 -24 1 51 1 -256 1 284 1 9 1 -200 1 133 1 39 1 -154 1 141 1 89 1 -3 1 -82 1 200 1 -89 1 -205 1 94 1 199 1 -136 1 -99 1 140 1 -99 1 -112 1 0 1 34 1 -232 1 225 1 -77 1 76 1 -8 1 115 1 -74 1 -29 1 57 1 30 1 -142 1 4 1 74 1 64 1 18 1 -358 1 161 1 48 1 -224 1 282 1 167 1 -333 1 53 1 325 1 -310 1 39 1 78 1 -41 1 125 1 -35 1 -315 1 380 1 -98 1 246 1 -166 1 -229 1 337 1 -287 1 -37 1 89 1 -9 1 -78 1 100 1 -153 1 -6 1 512 1 -649 1 517 1 -183 1 -308 1 113 1 -234 1 230 1 388 1 -780 1 663 1 -118 1 -248 1 130 1 371 1 -374 1 141 1 -205 1 111 1 131 1 86 1 -406 1 418 1 61 1 -313 1 237 1 -295 1 295 1 -82 1 -66 1 207 1 9 1 -144 1 -72 1 218 1 -196 1 513 1 -1034 1 751 1 74 1 -284 1 -389 1 522 1 -134 1 136 1 157 1 -301 1 -43 1 204 1 -259 1 -7 1 158 1 5 1 157 1 81 1 -237 1 -201 1 622 1 48 1 -283 1 -549 1 -24 1 395 1 -362 1 478 1 -83 1 81 1 -128 1 -78 1 -188 1 -135 1 713 1 -159 1 -558 1 438 1 -138 1 213 1 -29 1 272 1 -618 1 135 1 392 1 -362 1 276 1 34 1 -269 1 12 1 197 1 -379 1 -153 1 435 1 -293 1 172 1 246 1 6 1 145 1 -242 1 -41 1 -205 1 15 1 -390 1 797 1 -371 1 -25 1 -117 1 146 1 32 1 -114 1 220 1 -106 1 0 1 -287 1 174 1 337 1 -269 1 -223 1 98 1 457 1 -94 1 -148 1 146 1 -245 1 202 1 -46 1 -141 1 2 1 124 1 -256 1 397 1 -105 1 -336 1 40 1 -102 1 151 1 199 1 -302 1 113 1 119 1 -1 1 10 1 -66 1 361 1 -366 1 229 1 -307 1 262 1 198 1 -187 1 -414 1 462 1 -44 1 -177 1 226 1 3 1 -204 1 161 1 -65 1 67 1 -67 1 -287 1 304 1 -217 1 -1 1 383 1 -211 1 -28 1 -381 1 346 1 120 1 -132 1 -32 1 145 1 -117 1 -55 1 -63 1 45 1 164 1 180 1 -241 1 -89 1 129 1 -193 1 112 1 12 1 134 1 -16 1 17 1 -146 1 308 1 -204 1 -103 1 121 1 -117 1 182 1 -190 1 111 1 246 1 -88 1 -56 1 -151 1 -54 1 41 1 165 1 25 1 -91 1 96 1 -292 1 302 1 -459 1 156 1 58 1 9 1 86 1 432 1 -488 1 311 1 -366 1 297 1 -286 1 226 1 -92 1 72 1 -108 1 -215 1 84 1 135 1 111 1 -190 1 27 1 153 1 -237 1 152 1 -23 1 109 1 -370 1 209 1 280 1 -487 1 218 1 -5 1 -74 1 4 1 -30 1 429 1 -268 1 69 1 -185 1 -145 1 389 1 -22 1 -271 1 -40 1 433 1 -147 1 -120 1 137 1 180 1 -148 1 44 1 -52 1 -158 1 -109 1 446 1 -722 1 292 1 161 1 -168 1 101 1 17 1 38 1 77 1 136 1 114 1 -257 1 -67 1 14 1 -155 1 14 1 103 1 121 1 67 1 -317 1 209 1 -30 1 326 1 -181 1 11 1 -449 1 15 1 214 1 124 1 -416 1 372 1 10 1 22 1 202 1 -608 1 80 1 324 1 -205 1 194 1 55 1 -526 1 760 1 -34 1 -666 1 200 1 306 1 -278 1 188 1 -286 1 454 1 -536 1 236 1 77 1 -327 1 332 1 -4 1 89 1 -431 1 564 1 -434 1 11 1 53 1 227 1 -179 1 7 1 144 1 -141 1 -63 1 -20 1 67 1 93 1 191 1 -208 1 182 1 -54 1 126 1 -223 1 -105 1 -310 1 336 1 117 1 31 1 -381 1 138 1 -15 1 64 1 217 1 -36 1 -718 1 367 1 -22 1 271 1 -119 1 122 1 3 1 134 1 48 1 -274 1 153 1 28 1 152 1 -186 1 -338 1 349 1 -119 1 -186 1 419 1 -280 1 111 1 -106 1 110 1 49 1 26 1 279 1 -25 1 -438 1 279 1 74 1 -86 1 -60 1 -77 1 -79 1 -88 1 14 1 243 1 -211 1 285 1 -367 1 375 1 -360 1 -26 1 103 1 439 1 -122 1 -508 1 596 1 -367 1 -308 1 766 1 -456 1 -116 1 392 1 36 1 -557 1 475 1 -358 1 -69 1 220 1 62 1 -123 1 -108 1 196 1 279 1 -337 1 329 1 -363 1 150 1 -5 1 -216 1 501 1 -228 1 -43 1 -23 1 34 1 106 1 103 1 -203 1 2 1 -110 1 -137 1 287 1 -340 1 420 1 -155 1 -199 1 209 1 -270 1 108 1 -198 1 591 1 -306 1 -155 1 284 1 -220 1 18 1 143 1 149 1 -14 1 -121 1 -132 1 31 1 -12 1 114 1 -98 1 -83 1 243 1 -194 1 -110 1 404 1 -34 1 -394 1 209 1 -101 1 305 1 -208 1 109 1 -269 1 253 1 335 1 -164 1 -36 1 41 1 -261 1 124 1 -40 1 -103 1 59 1 241 1 -76 1 -179 1 172 1 197 1 -447 1 67 1 -56 1 377 1 -374 1 48 1 -177 1 176 1 114 1 -188 1 -12 1 1 1 372 1 30 1 297 1 -809 1 380 1 -406 1 195 1 -37 1 45 1 -253 1 648 1 -231 1 -104 1 -32 1 -63 1 396 1 -230 1 -164 1 361 1 -35 1 15 1 -295 1 108 1 -72 1 384 1 -52 1 64 1 -273 1 -20 1 68 1 -447 1 492 1 -249 1 135 1 -193 1 173 1 243 1 -211 1 -372 1 194 1 131 1 47 1 -137 1 -57 1 234 1 -151 1 -20 1 135 1 -96 1 -120 1 -107 1 372 1 -317 1 329 1 -333 1 242 1 -93 1 -174 1 -150 1 425 1 -215 1 234 1 53 1 67 1 -277 1 118 1 -263 1 293 1 -14 1 16 1 -231 1 247 1 -337 1 323 1 -22 1 107 1 -313 1 336 1 -475 1 401 1 -24 1 -94 1 212 1 -154 1 -389 1 416 1 4 1 -90 1 -27 1 -78 1 174 1 -70 1 -147 1 159 1 -24 1 -198 1 137 1 -34 1 20 1 99 1 -326 1 449 1 -180 1 36 1 -220 1 167 1 -60 1 188 1 -46 1 -102 1 -56 1 143 1 -103 1 -49 1 264 1 -127 1 125 1 -119 1 -9 1 -13 1 -35 1 -26 1 215 1 -240 1 63 1 99 1 80 1 9 1 -251 1 115 1 -35 1 -127 1 142 1 -175 1 30 1 50 1 227 1 -318 1 287 1 -452 1 340 1 -56 1 60 1 -29 1 -78 1 43 1 -12 1 -24 1 -32 1 257 1 -170 1 191 1 -213 1 19 1 -28 1 -7 1 -9 1 73 1 -12 1 -20 1 -183 1 438 1 -247 1 22 1 73 1 -38 1 -360 1 234 1 79 1 -79 1 235 1 -69 1 -247 1 192 1 125 1 -171 1 -200 1 272 1 -125 1 -166 1 130 1 59 1 14 1 107 1 -43 1 -217 1 156 1 103 1 -187 1 16 1 31 1 -39 1 -107 1 226 1 -10 1 38 1 -112 1 -71 1 162 1 -29 1 -73 1 210 1 -43 1 -362 1 192 1 -22 1 258 1 -362 1 99 1 60 1 289 1 -525 1 33 1 12 1 -81 1 36 1 105 1 -16 1 101 1 -73 1 -136 1 298 1 15 1 -244 1 353 1 -330 1 172 1 -212 1 67 1 156 1 -44 1 133 1 -98 1 -125 1 283 1 -322 1 -18 1 188 1 -97 1 -53 1 85 1 -193 1 295 1 -163 1 -3 1 127 1 -314 1 335 1 -67 1 38 1 98 1 -195 1 72 1 184 1 -148 1 -132 1 -108 1 142 1 181 1 -112 1 75 1 22 1 -170 1 -264 1 116 1 389 1 -338 1 268 1 -21 1 -192 1 -127 1 427 1 -224 1 217 1 -237 1 -147 1 161 1 41 1 -16 1 203 1 -139 1 -157 1 -54 1 -28 1 404 1 -227 1 219 1 -109 1 61 1 0 1 -308 1 -59 1 65 1 -28 1 126 1 -103 1 80 1 432 1 -445 1 215 1 -369 1 7 1 733 1 -243 1 -180 1 -173 1 -109 1 104 1 556 1 -612 1 -43 1 119 1 65 1 12 1 -56 1 -90 1 74 1 644 1 -390 1 -501 1 671 1 -34 1 -136 1 -74 1 357 1 -752 1 296 1 -153 1 472 1 -494 1 374 1 -476 1 602 1 -371 1 -137 1 -2 1 84 1 73 1 76 1 -268 1 573 1 -226 1 -247 1 321 1 83 1 -163 1 -377 1 289 1 -68 1 -218 1 304 1 -199 1 49 1 225 1 -464 1 499 1 -328 1 455 1 -345 1 -155 1 730 1 19 1 -911 1 527 1 -583 1 539 1 -155 1 89 1 -25 1 -71 1 -132 1 267 1 86 1 -192 1 322 1 -388 1 282 1 77 1 -443 1 324 1 -218 1 29 1 563 1 -352 1 -111 1 -221 1 280 1 -134 1 49 1 -6 1 463 1 -299 1 -79 1 48 1 -283 1 313 1 -115 1 -184 1 329 1 -577 1 385 1 -71 1 -110 1 116 1 71 1 170 1 46 1 -68 1 143 1 -661 1 120 1 330 1 -248 1 192 1 125 1 178 1 -158 1 -28 1 -29 1 -212 1 61 1 -143 1 222 1 45 1 -226 1 307 1 -262 1 424 1 -275 1 -137 1 265 1 115 1 -212 1 -41 1 -169 1 0 1 -72 1 198 1 348 1 -347 1 -209 1 298 1 -47 1 168 1 -76 1 -368 1 305 1 -9 1 -167 1 349 1 -196 1 -97 1 60 1 140 1 79 1 -113 1 -74 1 79 1 -237 1 128 1 -51 1 4 1 385 1 -202 1 -113 1 -292 1 435 1 -128 1 -108 1 2 1 131 1 -346 1 127 1 259 1 -176 1 -13 1 -41 1 370 1 -337 1 133 1 91 1 -192 1 -46 1 460 1 -242 1 38 1 -220 1 511 1 -320 1 -259 1 -91 1 420 1 -344 1 362 1 -458 1 181 1 306 1 -287 1 163 1 -112 1 177 1 -154 1 -15 1 159 1 -194 1 99 1 302 1 -378 1 184 1 -246 1 -41 1 90 1 166 1 22 1 -82 1 -134 1 127 1 -83 1 249 1 -153 1 -60 1 -29 1 -53 1 61 1 222 1 -395 1 223 1 12 1 -221 1 245 1 -14 1 -259 1 295 1 -154 1 -25 1 -44 1 107 1 129 1 -211 1 233 1 84 1 -109 1 -226 1 146 1 -109 1 -111 1 192 1 -264 1 239 1 -139 1 -53 1 140 1 -33 1 223 1 -3 1 112 1 -229 1 -69 1 45 1 136 1 -144 1 167 1 -201 1 -29 1 239 1 -72 1 -18 1 -90 1 -29 1 66 1 -164 1 95 1 -99 1 183 1 -196 1 -92 1 167 1 -69 1 48 1 -113 1 600 1 -409 1 274 1 -190 1 -85 1 -172 1 334 1 -78 1 -42 1 -24 1 -170 1 -17 1 200 1 67 1 199 1 -617 1 407 1 -90 1 -125 1 90 1 156 1 -177 1 39 1 -27 1 32 1 478 1 -60 1 -197 1 -494 1 616 1 -374 1 106 1 -139 1 167 1 -264 1 367 1 -90 1 -184 1 65 1 -132 1 153 1 -30 1 -57 1 -64 1 138 1 -46 1 42 1 -102 1 357 1 -323 1 284 1 -187 1 114 1 -465 1 634 1 -586 1 211 1 -42 1 276 1 -32 1 -292 1 268 1 36 1 -236 1 46 1 16 1 25 1 101 1 20 1 -208 1 102 1 37 1 -42 1 -248 1 59 1 70 1 47 1 179 1 -256 1 520 1 -563 1 192 1 -6 1 -175 1 328 1 -95 1 -139 1 32 1 -131 1 345 1 -144 1 -135 1 258 1 -441 1 369 1 23 1 -89 1 69 1 88 1 6 1 -269 1 254 1 -212 1 -12 1 149 1 -147 1 193 1 -15 1 12 1 -247 1 179 1 98 1 24 1 138 1 -121 1 -381 1 189 1 40 1 -227 1 123 1 -112 1 124 1 304 1 -229 1 -167 1 -78 1 149 1 433 1 -416 1 25 1 484 1 -358 1 -149 1 61 1 -163 1 328 1 -155 1 -200 1 0 1 86 1 -55 1 214 1 -370 1 537 1 -49 1 -493 1 151 1 200 1 88 1 53 1 -157 1 24 1 -191 1 250 1 -210 1 82 1 -59 1 141 1 221 1 -158 1 -255 1 354 1 -16 1 -369 1 106 1 258 1 -254 1 44 1 245 1 -44 1 73 1 -354 1 439 1 -682 1 444 1 -10 1 -175 1 -116 1 229 1 131 1 -257 1 209 1 -7 1 -122 1 -56 1 359 1 -400 1 343 1 -320 1 112 1 44 1 235 1 -324 1 237 1 -258 1 370 1 -423 1 370 1 11 1 -431 1 443 1 -381 1 21 1 -64 1 40 1 118 1 191 1 245 1 -351 1 -281 1 401 1 -453 1 402 1 -245 1 9 1 -130 1 445 1 -135 1 -59 1 -328 1 217 1 -17 1 365 1 67 1 -101 1 114 1 -62 1 -300 1 103 1 -340 1 433 1 3 1 -357 1 395 1 -200 1 -306 1 327 1 166 1 -239 1 109 1 68 1 -157 1 -17 1 -176 1 331 1 -36 1 280 1 -206 1 -111 1 -201 1 -112 1 256 1 7 1 161 1 -79 1 2 1 193 1 -138 1 16 1 -33 1 38 1 -90 1 283 1 -240 1 83 1 117 1 -263 1 -54 1 205 1 117 1 78 1 -292 1 290 1 -320 1 16 1 130 1 -134 1 -146 1 88 1 577 1 -404 1 21 1 -310 1 123 1 35 1 55 1 92 1 -370 1 297 1 155 1 16 1 -754 1 740 1 -296 1 -57 1 422 1 35 1 -401 1 79 1 -135 1 37 1 18 1 -288 1 316 1 345 1 -460 1 62 1 55 1 -10 1 17 1 111 1 31 1 -58 1 46 1 51 1 105 1 -318 1 -181 1 479 1 -443 1 32 1 264 1 -281 1 82 1 234 1 -86 1 199 1 -154 1 -342 1 494 1 -96 1 -481 1 211 1 82 1 378 1 -349 1 27 1 159 1 -132 1 -111 1 120 1 -8 1 71 1 -188 1 95 1 98 1 -333 1 -45 1 549 1 -811 1 652 1 -362 1 310 1 12 1 -292 1 137 1 -20 1 28 1 94 1 22 1 -17 1 -73 1 98 1 155 1 -373 1 478 1 -201 1 -147 1 81 1 -64 1 -448 1 284 1 -76 1 354 1 1 1 196 1 -102 1 -66 1 25 1 -209 1 60 1 151 1 106 1 -272 1 -81 1 182 1 53 1 -276 1 -181 1 182 1 174 1 21 1 -55 1 261 1 -628 1 175 1 231 1 153 1 -549 1 709 1 -431 1 -82 1 -37 1 310 1 330 1 -528 1 356 1 -384 1 212 1 24 1 -165 1 -215 1 169 1 -273 1 236 1 416 1 -261 1 -179 1 -70 1 54 1 -287 1 403 1 -122 1 115 1 68 1 -256 1 518 1 -375 1 -380 1 648 1 -269 1 -290 1 488 1 -170 1 106 1 -448 1 211 1 76 1 -145 1 239 1 97 1 25 1 98 1 -244 1 -141 1 -28 1 -36 1 113 1 417 1 -501 1 643 1 -603 1 -77 1 108 1 -212 1 -145 1 99 1 652 1 38 1 -999 1 934 1 -312 1 28 1 272 1 23 1 21 1 -246 1 -471 1 722 1 -895 1 749 1 -435 1 -267 1 647 1 -182 1 -290 1 454 1 -313 1 320 1 -473 1 470 1 40 1 -513 1 760 1 -852 1 596 1 -385 1 49 1 -148 1 282 1 -26 1 -162 1 350 1 36 1 -219 1 191 1 -499 1 440 1 -36 1 556 1 -834 1 351 1 -245 1 412 1 -162 1 83 1 -86 1 -540 1 277 1 101 1 -111 1 7 1 792 1 -838 1 424 1 -211 1 -43 1 402 1 -371 1 -298 1 333 1 -206 1 552 1 -258 1 -146 1 117 1 122 1 -418 1 188 1 -77 1 146 1 -96 1 322 1 -479 1 401 1 -296 1 -116 1 199 1 75 1 -165 1 -140 1 105 1 350 1 -131 1 -643 1 392 1 150 1 -39 1 173 1 -103 1 -150 1 85 1 -99 1 354 1 -185 1 -134 1 -53 1 98 1 106 1 12 1 -68 1 249 1 -301 1 256 1 81 1 -219 1 -217 1 252 1 -253 1 138 1 -69 1 71 1 185 1 -221 1 336 1 -288 1 -142 1 179 1 -179 1 148 1 293 1 -46 1 -421 1 28 1 -30 1 146 1 -27 1 93 1 -258 1 188 1 -119 1 -43 1 323 1 -238 1 386 1 -482 1 254 1 -7 1 208 1 147 1 -5 1 -213 1 -17 1 8 1 -12 1 -339 1 -163 1 166 1 -40 1 324 1 37 1 -199 1 -78 1 270 1 60 1 -127 1 103 1 -351 1 27 1 410 1 -379 1 400 1 201 1 -441 1 171 1 -133 1 -20 1 -88 1 235 1 -137 1 -10 1 -395 1 295 1 4 1 -34 1 -122 1 150 1 327 1 -267 1 -271 1 5 1 294 1 77 1 -51 1 51 1 -153 1 178 1 -58 1 -354 1 511 1 -118 1 -314 1 227 1 13 1 -174 1 73 1 233 1 -236 1 83 1 -44 1 -52 1 57 1 119 1 -59 1 -148 1 267 1 -187 1 -162 1 279 1 125 1 -191 1 176 1 -33 1 -158 1 150 1 -214 1 140 1 -245 1 189 1 35 1 141 1 -196 1 1 1 430 1 -425 1 77 1 -34 1 -310 1 241 1 190 1 88 1 -237 1 169 1 -370 1 160 1 146 1 -170 1 23 1 -95 1 403 1 -233 1 14 1 117 1 -297 1 312 1 -436 1 182 1 251 1 -544 1 76 1 257 1 213 1 -37 1 -4 1 -273 1 93 1 41 1 143 1 -98 1 -110 1 -68 1 224 1 -55 1 -166 1 188 1 -105 1 355 1 -466 1 71 1 99 1 -216 1 46 1 -46 1 91 1 63 1 402 1 -120 1 -434 1 77 1 319 1 -252 1 134 1 -44 1 207 1 22 1 -87 1 -135 1 18 1 2 1 -27 1 -241 1 147 1 -120 1 211 1 67 1 5 1 -208 1 244 1 -280 1 207 1 -56 1 -3 1 120 1 25 1 -216 1 81 1 8 1 73 1 -284 1 42 1 461 1 -195 1 -85 1 -16 1 3 1 -127 1 90 1 29 1 -57 1 -13 1 6 1 463 1 -274 1 -263 1 94 1 91 1 -113 1 163 1 202 1 -605 1 478 1 -148 1 -199 1 86 1 -263 1 176 1 439 1 -417 1 -152 1 374 1 155 1 28 1 -474 1 113 1 86 1 119 1 -245 1 270 1 80 1 -221 1 113 1 173 1 -303 1 239 1 -272 1 87 1 -15 1 -45 1 125 1 -22 1 -51 1 31 1 69 1 -299 1 21 1 160 1 123 1 -270 1 258 1 -182 1 34 1 141 1 -95 1 -81 1 169 1 -67 1 -155 1 -300 1 656 1 -335 1 112 1 44 1 -318 1 386 1 35 1 -251 1 97 1 355 1 -548 1 5 1 159 1 -14 1 -123 1 164 1 -99 1 282 1 1 1 83 1 41 1 -346 1 -32 1 306 1 -77 1 -18 1 -318 1 347 1 -64 1 -228 1 209 1 -156 1 100 1 17 1 -142 1 100 1 -102 1 169 1 -80 1 355 1 -435 1 36 1 -197 1 21 1 141 1 135 1 -341 1 108 1 361 1 52 1 -273 1 147 1 -292 1 451 1 -264 1 161 1 -170 1 -50 1 -217 1 198 1 502 1 -339 1 26 1 -111 1 18 1 133 1 -269 1 5 1 168 1 -5 1 -101 1 97 1 14 1 -95 1 35 1 19 1 -58 1 10 1 55 1 -259 1 170 1 58 1 23 1 34 1 -157 1 188 1 2 1 -118 1 -126 1 78 1 15 1 164 1 -181 1 107 1 -153 1 271 1 -250 1 27 1 136 1 -69 1 -287 1 246 1 174 1 -440 1 311 1 -249 1 91 1 -133 1 355 1 6 1 -25 1 283 1 -424 1 39 1 126 1 -298 1 192 1 -183 1 290 1 1 1 -85 1 -155 1 -146 1 152 1 222 1 -272 1 154 1 -68 1 270 1 -349 1 318 1 -320 1 94 1 171 1 -149 1 -180 1 136 1 76 1 -34 1 139 1 -47 1 -57 1 90 1 -267 1 96 1 -249 1 159 1 63 1 -190 1 299 1 396 1 -101 1 -286 1 138 1 -304 1 269 1 -183 1 160 1 -213 1 308 1 18 1 60 1 -325 1 -62 1 335 1 -139 1 101 1 151 1 -488 1 259 1 -120 1 4 1 129 1 52 1 172 1 -80 1 162 1 -309 1 -463 1 419 1 -272 1 245 1 41 1 -58 1 383 1 -525 1 -1 1 251 1 1 1 79 1 -168 1 51 1 95 1 -94 1 21 1 -181 1 -305 1 356 1 167 1 -308 1 70 1 357 1 -100 1 -55 1 -110 1 -59 1 117 1 -324 1 207 1 386 1 -169 1 -295 1 244 1 50 1 -204 1 152 1 -279 1 132 1 -17 1 305 1 -245 1 -49 1 -12 1 91 1 245 1 -154 1 -102 1 13 1 165 1 -404 1 -145 1 338 1 -56 1 75 1 71 1 -244 1 314 1 -122 1 -152 1 186 1 -68 1 126 1 -278 1 55 1 388 1 -326 1 116 1 95 1 48 1 -60 1 -188 1 123 1 12 1 73 1 -39 1 -166 1 -29 1 246 1 -268 1 181 1 12 1 -192 1 92 1 -63 1 236 1 -236 1 146 1 -76 1 142 1 -64 1 20 1 -57 1 133 1 -205 1 152 1 -55 1 -22 1 -11 1 -208 1 298 1 -40 1 119 1 -132 1 -122 1 171 1 -211 1 33 1 124 1 -183 1 301 1 -105 1 -96 1 -89 1 289 1 -151 1 279 1 -365 1 62 1 -57 1 -61 1 137 1 -12 1 322 1 -346 1 120 1 -61 1 -182 1 99 1 335 1 -152 1 24 1 -281 1 369 1 -230 1 -140 1 38 1 93 1 60 1 8 1 165 1 -99 1 -337 1 338 1 -542 1 481 1 -66 1 -132 1 354 1 -200 1 20 1 -177 1 256 1 -233 1 -102 1 167 1 211 1 -243 1 442 1 -397 1 240 1 -75 1 123 1 -323 1 240 1 80 1 -420 1 60 1 -203 1 262 1 -110 1 390 1 -529 1 110 1 -138 1 64 1 414 1 -302 1 76 1 340 1 -93 1 -82 1 7 1 -59 1 406 1 -240 1 -66 1 81 1 48 1 -166 1 -53 1 -150 1 238 1 -209 1 418 1 -343 1 41 1 -16 1 -291 1 37 1 437 1 -97 1 30 1 -381 1 327 1 -166 1 262 1 -191 1 -31 1 7 1 144 1 42 1 -403 1 190 1 -101 1 14 1 259 1 -158 1 -396 1 477 1 72 1 364 1 -477 1 26 1 481 1 -349 1 -192 1 218 1 -180 1 -41 1 -145 1 551 1 -238 1 -151 1 -190 1 116 1 -462 1 887 1 -502 1 219 1 55 1 55 1 -160 1 -91 1 321 1 87 1 -470 1 258 1 11 1 -198 1 189 1 -12 1 -232 1 147 1 -31 1 -23 1 156 1 32 1 177 1 -695 1 206 1 108 1 113 1 142 1 -559 1 388 1 -401 1 642 1 -233 1 -121 1 -82 1 59 1 105 1 -5 1 -157 1 101 1 286 1 -16 1 -300 1 -93 1 49 1 447 1 -24 1 -466 1 162 1 200 1 -193 1 -10 1 -296 1 350 1 161 1 -252 1 -155 1 304 1 55 1 -272 1 -179 1 338 1 -258 1 376 1 -65 1 -149 1 86 1 -273 1 154 1 -246 1 549 1 -441 1 48 1 -98 1 263 1 268 1 -191 1 -102 1 80 1 305 1 -510 1 75 1 19 1 179 1 -213 1 66 1 73 1 136 1 73 1 -417 1 21 1 16 1 204 1 -111 1 136 1 60 1 -477 1 422 1 -215 1 186 1 -110 1 -62 1 206 1 127 1 -370 1 215 1 189 1 -421 1 325 1 -27 1 -491 1 36 1 142 1 1 1 490 1 -630 1 623 1 -599 1 -125 1 237 1 -115 1 192 1 121 1 -393 1 223 1 387 1 -475 1 746 1 -595 1 -225 1 772 1 -791 1 493 1 119 1 46 1 -429 1 -360 1 662 1 -243 1 -429 1 506 1 -349 1 351 1 -147 1 311 1 -139 1 -381 1 560 1 -19 1 298 1 -388 1 -127 1 113 1 -212 1 246 1 -241 1 436 1 -446 1 -265 1 155 1 741 1 -236 1 -648 1 314 1 -40 1 675 1 -562 1 -39 1 59 1 -514 1 388 1 -53 1 8 1 -284 1 517 1 4 1 -213 1 191 1 75 1 -33 1 -195 1 -412 1 7 1 423 1 -204 1 311 1 -345 1 254 1 218 1 -232 1 -323 1 163 1 316 1 -173 1 -337 1 435 1 -231 1 354 1 -59 1 76 1 -194 1 -38 1 -170 1 10 1 253 1 -112 1 43 1 66 1 -351 1 242 1 183 1 38 1 -53 1 237 1 -393 1 15 1 -18 1 26 1 -22 1 -70 1 6 1 105 1 -91 1 84 1 43 1 -42 1 14 1 100 1 -277 1 140 1 -18 1 249 1 -127 1 12 1 -60 1 -42 1 74 1 -245 1 320 1 -291 1 103 1 171 1 -201 1 144 1 1 1 -151 1 212 1 -289 1 194 1 -86 1 52 1 51 1 -70 1 268 1 -102 1 62 1 -94 1 -91 1 -17 1 98 1 -219 1 36 1 -28 1 197 1 -156 1 118 1 -39 1 -51 1 39 1 42 1 44 1 -13 1 -218 1 134 1 165 1 51 1 -128 1 41 1 -23 1 -204 1 27 1 79 1 -35 1 82 1 -89 1 -139 1 88 1 -23 1 372 1 -147 1 -116 1 -56 1 177 1 -144 1 -181 1 88 1 106 1 -22 1 -22 1 -94 1 94 1 139 1 -60 1 75 1 -224 1 94 1 -37 1 96 1 129 1 -220 1 71 1 -218 1 277 1 -80 1 75 1 -38 1 78 1 -23 1 -235 1 161 1 26 1 133 1 -317 1 150 1 15 1 -47 1 -110 1 -34 1 309 1 -208 1 -120 1 106 1 -159 1 128 1 39 1 -5 1 -85 1 153 1 -81 1 42 1 -31 1 -26 1 147 1 11 1 -62 1 -185 1 293 1 -404 1 508 1 -161 1 127 1 24 1 -595 1 280 1 243 1 53 1 -432 1 126 1 274 1 -238 1 99 1 -23 1 150 1 -49 1 1 1 -53 1 -84 1 294 1 -370 1 -139 1 30 1 426 1 -426 1 358 1 -396 1 294 1 -27 1 -116 1 116 1 305 1 -153 1 134 1 -135 1 55 1 -52 1 -228 1 165 1 164 1 -228 1 23 1 28 1 171 1 -455 1 496 1 -424 1 93 1 172 1 -265 1 311 1 -119 1 67 1 -208 1 -53 1 160 1 -137 1 135 1 346 1 -244 1 -122 1 32 1 163 1 -363 1 -238 1 339 1 79 1 23 1 -50 1 -170 1 191 1 323 1 -376 1 134 1 -252 1 101 1 41 1 138 1 -82 1 -60 1 89 1 -146 1 338 1 -223 1 -19 1 -90 1 156 1 -44 1 -128 1 52 1 -373 1 390 1 13 1 -231 1 160 1 267 1 -264 1 257 1 -430 1 295 1 -169 1 -12 1 203 1 15 1 -308 1 27 1 292 1 -140 1 178 1 -94 1 142 1 -8 1 -303 1 239 1 -80 1 -3 1 46 1 32 1 -417 1 389 1 -115 1 217 1 110 1 -283 1 -21 1 75 1 -126 1 240 1 -87 1 -111 1 -130 1 310 1 -108 1 125 1 -407 1 331 1 -128 1 -39 1 134 1 161 1 -278 1 43 1 -165 1 217 1 -144 1 134 1 88 1 -26 1 -8 1 225 1 -394 1 -46 1 232 1 -91 1 -210 1 261 1 158 1 -433 1 222 1 -148 1 290 1 -62 1 -71 1 81 1 -243 1 147 1 -75 1 -92 1 370 1 -304 1 0 1 -28 1 190 1 -148 1 139 1 -109 1 -77 1 -81 1 15 1 -223 1 294 1 178 1 17 1 24 1 -258 1 -97 1 251 1 -78 1 133 1 -94 1 59 1 -189 1 208 1 -245 1 476 1 -344 1 -2 1 -125 1 6 1 208 1 211 1 -235 1 -61 1 -112 1 93 1 403 1 -511 1 180 1 -48 1 126 1 -225 1 -221 1 211 1 -33 1 53 1 -284 1 445 1 -407 1 708 1 -120 1 -64 1 -85 1 -135 1 409 1 -303 1 7 1 -137 1 -135 1 197 1 -419 1 -96 1 438 1 -241 1 245 1 -157 1 640 1 -691 1 348 1 170 1 -799 1 852 1 -307 1 207 1 89 1 -503 1 66 1 510 1 -298 1 -216 1 526 1 -470 1 476 1 31 1 -247 1 272 1 -328 1 -173 1 25 1 86 1 62 1 -54 1 493 1 -622 1 51 1 300 1 -331 1 355 1 44 1 -494 1 30 1 167 1 93 1 -206 1 -68 1 -222 1 372 1 244 1 -87 1 -179 1 490 1 -549 1 314 1 -69 1 -157 1 409 1 -253 1 -41 1 -30 1 238 1 -38 1 -37 1 -101 1 349 1 -240 1 -343 1 80 1 320 1 -257 1 218 1 -31 1 -434 1 548 1 -41 1 -222 1 171 1 -199 1 314 1 -529 1 287 1 -142 1 28 1 450 1 -103 1 -266 1 -96 1 288 1 -378 1 41 1 -28 1 241 1 -39 1 -264 1 126 1 151 1 5 1 139 1 -171 1 44 1 -122 1 51 1 306 1 -181 1 40 1 -241 1 -231 1 170 1 115 1 254 1 -160 1 -109 1 90 1 54 1 -7 1 115 1 -126 1 -214 1 -112 1 78 1 364 1 116 1 -405 1 455 1 -287 1 -57 1 38 1 62 1 -211 1 120 1 -36 1 -507 1 464 1 382 1 -160 1 -278 1 150 1 105 1 -239 1 244 1 -195 1 -239 1 262 1 -424 1 361 1 -209 1 549 1 -681 1 457 1 149 1 -35 1 -455 1 -79 1 627 1 -334 1 -23 1 167 1 -128 1 29 1 -80 1 43 1 -531 1 453 1 230 1 -269 1 86 1 318 1 -415 1 388 1 27 1 -14 1 -37 1 -389 1 -48 1 513 1 -199 1 484 1 -225 1 -150 1 -97 1 -74 1 61 1 -102 1 52 1 141 1 -38 1 -30 1 -371 1 -2 1 115 1 -214 1 162 1 95 1 -157 1 183 1 -22 1 -188 1 305 1 -226 1 257 1 -271 1 139 1 245 1 -310 1 292 1 205 1 -131 1 -419 1 460 1 83 1 -242 1 245 1 -16 1 -580 1 392 1 -16 1 -132 1 -5 1 158 1 348 1 -484 1 222 1 -324 1 243 1 30 1 -355 1 8 1 381 1 -64 1 32 1 150 1 -309 1 231 1 -178 1 -135 1 50 1 171 1 -232 1 53 1 364 1 -349 1 167 1 46 1 -199 1 15 1 -102 1 -71 1 324 1 42 1 -271 1 346 1 -224 1 -271 1 93 1 272 1 -486 1 463 1 -8 1 119 1 -476 1 450 1 11 1 -363 1 261 1 -74 1 -270 1 339 1 -110 1 -240 1 320 1 -79 1 127 1 -35 1 -159 1 -107 1 394 1 30 1 -373 1 274 1 -75 1 -51 1 123 1 -142 1 462 1 -547 1 160 1 -361 1 366 1 -205 1 -303 1 404 1 132 1 -199 1 124 1 -79 1 79 1 -353 1 404 1 -246 1 176 1 -4 1 -31 1 151 1 -256 1 83 1 403 1 -130 1 -122 1 -26 1 99 1 -221 1 -104 1 143 1 -90 1 180 1 -239 1 170 1 1 1 157 1 -90 1 -78 1 -91 1 360 1 -240 1 38 1 -46 1 25 1 -90 1 239 1 23 1 -201 1 149 1 -141 1 -89 1 130 1 177 1 -125 1 -232 1 288 1 -48 1 -55 1 79 1 -200 1 122 1 44 1 -136 1 -43 1 176 1 196 1 -493 1 185 1 -173 1 178 1 -140 1 160 1 -128 1 70 1 -69 1 310 1 -187 1 29 1 -64 1 52 1 -83 1 83 1 -174 1 303 1 -161 1 -27 1 121 1 -28 1 97 1 -256 1 31 1 -61 1 -145 1 220 1 -125 1 219 1 -337 1 358 1 41 1 -284 1 292 1 -143 1 86 1 -107 1 -365 1 250 1 394 1 -161 1 -136 1 57 1 20 1 67 1 -30 1 -93 1 216 1 -53 1 -215 1 79 1 -119 1 153 1 -251 1 299 1 359 1 -335 1 -119 1 -127 1 -127 1 -1 1 141 1 16 1 228 1 -276 1 73 1 -4 1 211 1 -133 1 74 1 49 1 109 1 -184 1 -75 1 80 1 113 1 -157 1 249 1 -102 1 -191 1 102 1 -108 1 109 1 60 1 -123 1 141 1 -459 1 325 1 9 1 -245 1 207 1 -97 1 63 1 36 1 233 1 -298 1 -42 1 250 1 10 1 -18 1 -286 1 203 1 -6 1 111 1 -184 1 107 1 -385 1 231 1 78 1 -72 1 155 1 -149 1 56 1 78 1 -64 1 -244 1 223 1 22 1 4 1 270 1 -286 1 106 1 -78 1 -28 1 220 1 -262 1 141 1 -157 1 85 1 -46 1 110 1 -87 1 142 1 -132 1 -55 1 43 1 133 1 -56 1 -202 1 235 1 -371 1 302 1 12 1 -55 1 19 1 -34 1 -49 1 -86 1 60 1 28 1 17 1 -165 1 331 1 -20 1 80 1 -183 1 105 1 -172 1 90 1 -27 1 -119 1 84 1 21 1 -92 1 142 1 -18 1 -94 1 -41 1 217 1 -25 1 -96 1 80 1 -19 1 -126 1 110 1 -34 1 64 1 -105 1 -44 1 29 1 -17 1 126 1 -150 1 188 1 -57 1 111 1 -18 1 -141 1 129 1 32 1 -41 1 -14 1 -68 1 37 1 152 1 -234 1 144 1 -77 1 -98 1 174 1 100 1 -51 1 92 1 -87 1 30 1 -127 1 -16 1 20 1 4 1 -20 1 3 1 25 1 -24 1 -98 1 -15 1 111 1 218 1 -76 1 -116 1 6 1 92 1 -288 1 368 1 -393 1 260 1 -159 1 325 1 -141 1 81 1 -342 1 175 1 170 1 -303 1 345 1 -141 1 -42 1 261 1 -343 1 122 1 -59 1 -80 1 349 1 -480 1 255 1 92 1 -301 1 203 1 -30 1 -18 1 -64 1 399 1 -265 1 33 1 -420 1 232 1 -14 1 66 1 43 1 229 1 -233 1 72 1 49 1 380 1 -511 1 27 1 305 1 -178 1 -158 1 113 1 -107 1 171 1 -264 1 85 1 -158 1 383 1 36 1 21 1 -275 1 -32 1 127 1 -46 1 194 1 -2 1 -460 1 321 1 -53 1 -95 1 77 1 67 1 1 1 -113 1 -250 1 254 1 -81 1 351 1 61 1 -273 1 -53 1 118 1 178 1 -215 1 -150 1 281 1 -403 1 42 1 228 1 -32 1 2 1 153 1 189 1 -137 1 -61 1 69 1 -88 1 192 1 -267 1 138 1 65 1 -153 1 71 1 -151 1 64 1 -306 1 250 1 -1 1 -38 1 -226 1 40 1 98 1 139 1 -193 1 51 1 259 1 31 1 -141 1 -290 1 87 1 95 1 -69 1 189 1 100 1 -117 1 141 1 -132 1 -88 1 -62 1 277 1 -151 1 89 1 -57 1 -180 1 664 1 -368 1 -63 1 -190 1 -198 1 383 1 138 1 -178 1 35 1 -66 1 -245 1 394 1 -174 1 128 1 158 1 -31 1 -298 1 161 1 -255 1 -34 1 -88 1 254 1 214 1 -85 1 -334 1 358 1 -98 1 -19 1 346 1 -284 1 2 1 52 1 -72 1 -189 1 -214 1 261 1 33 1 -327 1 185 1 233 1 -169 1 -47 1 115 1 -79 1 81 1 140 1 -38 1 -21 1 75 1 17 1 -225 1 183 1 34 1 -34 1 177 1 -173 1 -136 1 179 1 6 1 -198 1 -206 1 199 1 152 1 -215 1 55 1 123 1 -249 1 407 1 -250 1 185 1 -13 1 -192 1 22 1 261 1 -106 1 -231 1 58 1 46 1 -109 1 349 1 -99 1 107 1 -112 1 -61 1 107 1 302 1 -393 1 -120 1 -79 1 -45 1 82 1 69 1 -203 1 -47 1 138 1 5 1 178 1 59 1 35 1 -414 1 225 1 129 1 -327 1 247 1 -239 1 158 1 599 1 -468 1 -393 1 206 1 168 1 52 1 -260 1 237 1 77 1 -142 1 -407 1 29 1 254 1 212 1 -192 1 423 1 169 1 -684 1 87 1 -159 1 275 1 -115 1 250 1 -81 1 -216 1 405 1 -282 1 -223 1 -341 1 343 1 505 1 -371 1 394 1 -650 1 147 1 -304 1 446 1 -573 1 394 1 492 1 190 1 67 1 -829 1 463 1 -241 1 8 1 320 1 -502 1 -382 1 1028 1 37 1 -887 1 467 1 170 1 217 1 -340 1 -137 1 206 1 85 1 -153 1 156 1 113 1 -87 1 400 1 -375 1 -903 1 667 1 118 1 -120 1 -107 1 -72 1 -71 1 253 1 -125 1 10 1 -133 1 139 1 61 1 113 1 -252 1 -294 1 478 1 -140 1 118 1 -407 1 -66 1 -84 1 246 1 129 1 -488 1 294 1 256 1 -162 1 -61 1 709 1 -259 1 -290 1 149 1 119 1 -355 1 -309 1 823 1 -363 1 -64 1 587 1 -337 1 -259 1 216 1 -144 1 -280 1 983 1 -930 1 141 1 119 1 461 1 -75 1 -336 1 38 1 526 1 -168 1 -551 1 130 1 -126 1 -8 1 165 1 289 1 -510 1 -344 1 131 1 -31 1 291 1 115 1 -433 1 -99 1 579 1 -26 1 -226 1 141 1 -15 1 202 1 58 1 -699 1 285 1 381 1 -72 1 -226 1 80 1 -23 1 -85 1 -4 1 -73 1 -43 1 209 1 -49 1 228 1 -255 1 -265 1 449 1 -233 1 196 1 -45 1 -184 1 -36 1 371 1 -365 1 293 1 71 1 -257 1 -1 1 77 1 -4 1 44 1 -205 1 138 1 -6 1 144 1 -25 1 -261 1 248 1 -221 1 6 1 204 1 -451 1 350 1 84 1 16 1 108 1 -80 1 -72 1 58 1 -70 1 -32 1 75 1 69 1 170 1 -159 1 -14 1 -113 1 -49 1 -59 1 101 1 156 1 10 1 -124 1 -148 1 186 1 -1 1 -50 1 134 1 38 1 16 1 -99 1 196 1 -274 1 -8 1 9 1 -145 1 182 1 43 1 -133 1 -10 1 -225 1 507 1 -306 1 111 1 108 1 -159 1 124 1 -11 1 -129 1 157 1 47 1 -133 1 76 1 -43 1 74 1 -114 1 -64 1 -77 1 92 1 189 1 -29 1 -195 1 86 1 -155 1 58 1 -47 1 -112 1 69 1 22 1 27 1 211 1 -125 1 -78 1 200 1 -89 1 -225 1 338 1 -146 1 27 1 -25 1 -51 1 120 1 -49 1 -223 1 353 1 -51 1 -313 1 252 1 -180 1 292 1 -354 1 427 1 -368 1 276 1 67 1 173 1 -285 1 -17 1 62 1 137 1 -177 1 69 1 375 1 -263 1 -207 1 248 1 -164 1 -27 1 -2 1 -377 1 347 1 -14 1 250 1 27 1 -632 1 226 1 -7 1 176 1 -127 1 260 1 -669 1 603 1 -21 1 -10 1 195 1 -583 1 31 1 197 1 224 1 30 1 -363 1 181 1 -32 1 -329 1 696 1 -101 1 7 1 -539 1 276 1 -74 1 265 1 -562 1 555 1 -140 1 273 1 -400 1 193 1 -181 1 -309 1 297 1 282 1 64 1 -308 1 6 1 41 1 74 1 -46 1 -74 1 170 1 437 1 -446 1 177 1 -619 1 463 1 -229 1 503 1 -182 1 80 1 -252 1 100 1 -443 1 358 1 -240 1 387 1 -192 1 -374 1 -86 1 286 1 314 1 -6 1 -398 1 165 1 396 1 -210 1 63 1 9 1 103 1 -16 1 341 1 -680 1 107 1 80 1 -142 1 195 1 -187 1 542 1 -336 1 -112 1 153 1 -414 1 397 1 45 1 -172 1 -437 1 488 1 -95 1 40 1 234 1 -242 1 659 1 -469 1 29 1 -47 1 369 1 -578 1 -180 1 362 1 -13 1 -413 1 734 1 180 1 -467 1 100 1 -468 1 -99 1 246 1 319 1 -510 1 159 1 399 1 -344 1 157 1 -351 1 549 1 -96 1 -269 1 -192 1 340 1 -105 1 52 1 196 1 -102 1 -171 1 -92 1 402 1 149 1 -602 1 460 1 155 1 -589 1 -66 1 160 1 350 1 -551 1 391 1 -221 1 356 1 -481 1 636 1 -302 1 -20 1 -27 1 397 1 -735 1 513 1 78 1 -505 1 150 1 -13 1 4 1 101 1 446 1 -552 1 -100 1 549 1 -374 1 -202 1 434 1 -96 1 -142 1 -22 1 77 1 16 1 -79 1 363 1 -526 1 108 1 -51 1 155 1 -159 1 477 1 -138 1 14 1 -321 1 181 1 -144 1 305 1 -336 1 -110 1 -31 1 248 1 85 1 -190 1 -85 1 602 1 -468 1 237 1 -349 1 -63 1 424 1 -242 1 -77 1 -64 1 139 1 -54 1 367 1 -222 1 80 1 -175 1 -448 1 588 1 102 1 -338 1 263 1 -337 1 557 1 -251 1 509 1 -366 1 -375 1 -28 1 -21 1 463 1 -518 1 263 1 -72 1 -100 1 177 1 -57 1 322 1 -187 1 267 1 -167 1 -284 1 67 1 -243 1 218 1 -286 1 194 1 168 1 20 1 40 1 -134 1 -3 1 135 1 91 1 -125 1 256 1 -385 1 288 1 -129 1 69 1 150 1 -262 1 -70 1 53 1 -77 1 -210 1 69 1 230 1 -167 1 243 1 -99 1 16 1 268 1 -324 1 195 1 -51 1 5 1 -237 1 45 1 33 1 -79 1 -5 1 149 1 71 1 2 1 151 1 -300 1 63 1 -132 1 210 1 -32 1 8 1 83 1 -221 1 -108 1 480 1 -396 1 56 1 -85 1 79 1 -123 1 200 1 -38 1 -92 1 20 1 196 1 -108 1 167 1 13 1 -81 1 79 1 -280 1 -15 1 119 1 16 1 -251 1 121 1 60 1 -4 1 300 1 -79 1 -262 1 18 1 53 1 12 1 -269 1 160 1 10 1 -182 1 477 1 -158 1 -17 1 244 1 52 1 -467 1 283 1 -167 1 -9 1 -201 1 2 1 503 1 -368 1 21 1 165 1 -34 1 12 1 -67 1 159 1 -170 1 141 1 -251 1 333 1 -165 1 -169 1 12 1 107 1 242 1 -476 1 300 1 -235 1 156 1 160 1 -576 1 119 1 379 1 -273 1 135 1 73 1 533 1 -662 1 -4 1 -52 1 335 1 -315 1 41 1 49 1 -24 1 81 1 137 1 46 1 -422 1 206 1 -18 1 -102 1 -210 1 78 1 671 1 -315 1 -146 1 -25 1 -353 1 413 1 -16 1 -42 1 -139 1 312 1 -420 1 65 1 319 1 -191 1 366 1 -192 1 -106 1 385 1 -174 1 82 1 -275 1 -148 1 -32 1 128 1 235 1 24 1 -301 1 328 1 -255 1 267 1 -333 1 99 1 -223 1 679 1 -591 1 182 1 -129 1 98 1 -27 1 131 1 -211 1 263 1 33 1 -323 1 266 1 -85 1 -345 1 421 1 -183 1 145 1 -127 1 62 1 95 1 -7 1 -206 1 -170 1 219 1 78 1 -52 1 -133 1 199 1 267 1 -676 1 191 1 145 1 142 1 -1 1 12 1 63 1 26 1 -219 1 -54 1 -228 1 382 1 59 1 -178 1 136 1 -177 1 74 1 -142 1 382 1 -51 1 -413 1 231 1 -31 1 11 1 109 1 -155 1 109 1 -118 1 335 1 -358 1 -73 1 187 1 -190 1 57 1 46 1 32 1 28 1 -6 1 -23 1 117 1 -115 1 98 1 -42 1 10 1 -213 1 92 1 150 1 -90 1 -121 1 219 1 -18 1 -39 1 -83 1 138 1 -106 1 -27 1 105 1 -130 1 157 1 -108 1 89 1 -238 1 112 1 -45 1 -72 1 350 1 -230 1 125 1 -221 1 87 1 326 1 4 1 -229 1 50 1 -316 1 348 1 7 1 19 1 -93 1 -130 1 -77 1 26 1 0 1 270 1 96 1 -468 1 149 1 15 1 -24 1 208 1 50 1 -102 1 -166 1 137 1 -200 1 -23 1 216 1 64 1 -177 1 131 1 68 1 100 1 -247 1 -57 1 91 1 87 1 -225 1 130 1 41 1 -257 1 303 1 -275 1 304 1 -333 1 19 1 444 1 -390 1 -31 1 328 1 -346 1 243 1 146 1 -277 1 56 1 65 1 194 1 -310 1 -73 1 156 1 49 1 160 1 -321 1 126 1 -206 1 326 1 -240 1 280 1 -11 1 -162 1 -289 1 379 1 106 1 -440 1 207 1 -97 1 -187 1 80 1 380 1 -569 1 517 1 -300 1 218 1 92 1 -160 1 -182 1 -165 1 673 1 -445 1 43 1 -30 1 533 1 -177 1 -327 1 -29 1 201 1 -47 1 187 1 -260 1 222 1 -111 1 -250 1 291 1 189 1 -184 1 -121 1 513 1 -540 1 -103 1 249 1 -114 1 149 1 -175 1 399 1 -286 1 109 1 -255 1 140 1 -92 1 35 1 243 1 15 1 -418 1 112 1 314 1 -316 1 168 1 -59 1 75 1 -187 1 213 1 -20 1 -97 1 40 1 152 1 -55 1 97 1 189 1 -440 1 -8 1 -35 1 146 1 0 1 -271 1 388 1 -139 1 -111 1 119 1 -273 1 185 1 80 1 75 1 -62 1 -120 1 5 1 129 1 143 1 -205 1 -94 1 -13 1 132 1 -258 1 132 1 46 1 165 1 -92 1 87 1 29 1 -235 1 167 1 -156 1 367 1 -158 1 -116 1 34 1 87 1 -186 1 -1 1 -22 1 126 1 36 1 -83 1 124 1 -248 1 264 1 -4 1 34 1 -347 1 140 1 200 1 -158 1 -200 1 215 1 -33 1 -99 1 120 1 -122 1 292 1 -370 1 288 1 74 1 -328 1 222 1 -343 1 466 1 -124 1 148 1 -264 1 202 1 48 1 -129 1 28 1 73 1 -443 1 554 1 -325 1 -56 1 233 1 44 1 -258 1 -60 1 -153 1 452 1 24 1 -330 1 155 1 -91 1 154 1 -55 1 -136 1 72 1 -195 1 257 1 -108 1 169 1 -280 1 28 1 -3 1 31 1 759 1 -606 1 -116 1 -389 1 705 1 -485 1 458 1 37 1 -420 1 331 1 337 1 -755 1 -128 1 378 1 -120 1 214 1 -160 1 25 1 275 1 -618 1 475 1 -187 1 35 1 -65 1 -228 1 540 1 -173 1 322 1 -358 1 -242 1 120 1 155 1 -192 1 -86 1 952 1 -506 1 -94 1 -306 1 -187 1 463 1 -254 1 73 1 500 1 -698 1 725 1 49 1 -411 1 20 1 141 1 6 1 -215 1 -132 1 267 1 -61 1 -321 1 244 1 207 1 -11 1 -129 1 49 1 -42 1 70 1 59 1 -396 1 452 1 -287 1 78 1 210 1 -232 1 -346 1 546 1 -323 1 207 1 -56 1 91 1 -175 1 234 1 -24 1 -136 1 106 1 -31 1 137 1 -55 1 17 1 -185 1 -76 1 189 1 -55 1 -116 1 216 1 -52 1 -42 1 26 1 52 1 10 1 -167 1 -6 1 75 1 -213 1 344 1 -248 1 90 1 39 1 57 1 -66 1 -70 1 72 1 282 1 -144 1 -232 1 114 1 -39 1 8 1 -20 1 279 1 -303 1 28 1 97 1 46 1 -166 1 229 1 -122 1 -152 1 -92 1 217 1 77 1 -300 1 244 1 -16 1 -61 1 82 1 -153 1 -244 1 623 1 -234 1 -77 1 -4 1 -62 1 206 1 -212 1 117 1 296 1 -422 1 -13 1 193 1 -252 1 145 1 -354 1 773 1 -398 1 69 1 -84 1 241 1 172 1 -502 1 76 1 105 1 -419 1 147 1 253 1 -94 1 251 1 -250 1 -84 1 66 1 319 1 -555 1 164 1 236 1 -345 1 -353 1 436 1 294 1 38 1 114 1 34 1 -479 1 -48 1 526 1 -277 1 105 1 -312 1 225 1 47 1 -66 1 1 1 219 1 -8 1 -150 1 -246 1 -145 1 157 1 383 1 -434 1 349 1 162 1 -536 1 229 1 327 1 -375 1 -81 1 -62 1 233 1 -277 1 124 1 -144 1 290 1 -261 1 139 1 397 1 -85 1 -222 1 -282 1 353 1 -64 1 87 1 -193 1 559 1 -593 1 272 1 -140 1 -22 1 257 1 -663 1 567 1 -215 1 -243 1 810 1 -581 1 -96 1 -91 1 466 1 -326 1 112 1 109 1 -243 1 629 1 -329 1 -205 1 -148 1 -38 1 34 1 547 1 -321 1 -115 1 9 1 503 1 -629 1 69 1 -34 1 -82 1 -46 1 452 1 95 1 -134 1 79 1 -310 1 30 1 279 1 343 1 -279 1 -366 1 299 1 -684 1 620 1 117 1 -367 1 -21 1 491 1 -583 1 118 1 -15 1 225 1 -86 1 148 1 -55 1 61 1 -706 1 408 1 1 1 310 1 164 1 -396 1 -133 1 -104 1 10 1 216 1 245 1 -388 1 99 1 96 1 -35 1 -69 1 110 1 -187 1 144 1 305 1 212 1 -334 1 44 1 190 1 -130 1 -12 1 -345 1 185 1 -373 1 322 1 -117 1 421 1 -296 1 51 1 -63 1 172 1 85 1 -279 1 363 1 226 1 -595 1 -85 1 317 1 37 1 -158 1 -304 1 118 1 173 1 167 1 145 1 -211 1 1 1 -89 1 217 1 -338 1 -20 1 340 1 -597 1 580 1 1 1 -367 1 21 1 109 1 194 1 503 1 -717 1 419 1 -246 1 -49 1 -149 1 369 1 -129 1 -199 1 50 1 175 1 -338 1 395 1 -198 1 -59 1 286 1 -308 1 -12 1 394 1 -51 1 -542 1 371 1 135 1 -438 1 228 1 13 1 49 1 -302 1 189 1 -65 1 295 1 -251 1 98 1 -14 1 3 1 -134 1 239 1 -314 1 225 1 -22 1 66 1 -300 1 188 1 -36 1 166 1 31 1 -145 1 88 1 88 1 -393 1 85 1 172 1 1 1 -26 1 -4 1 64 1 -144 1 -76 1 257 1 -133 1 -74 1 132 1 166 1 -245 1 -86 1 112 1 -155 1 4 1 135 1 -33 1 41 1 -30 1 121 1 -90 1 -142 1 276 1 -316 1 247 1 93 1 -162 1 -111 1 -317 1 339 1 84 1 -44 1 -97 1 268 1 -70 1 -104 1 184 1 -331 1 299 1 -207 1 189 1 -224 1 26 1 166 1 -27 1 -167 1 -17 1 -145 1 54 1 324 1 -41 1 -50 1 -173 1 -16 1 331 1 -44 1 -55 1 -466 1 410 1 -225 1 276 1 -256 1 -49 1 219 1 -221 1 262 1 -73 1 -57 1 -1 1 166 1 -62 1 21 1 -162 1 261 1 -174 1 -9 1 147 1 -135 1 21 1 -77 1 47 1 -6 1 211 1 -99 1 -209 1 47 1 84 1 -327 1 135 1 116 1 222 1 -567 1 366 1 27 1 -163 1 -121 1 219 1 -120 1 169 1 255 1 -104 1 -352 1 221 1 159 1 -429 1 208 1 -155 1 288 1 -7 1 -169 1 171 1 -148 1 50 1 -33 1 0 1 -32 1 285 1 -338 1 140 1 -2 1 116 1 -181 1 155 1 -52 1 -39 1 246 1 -175 1 -18 1 36 1 -170 1 172 1 -250 1 -120 1 302 1 -280 1 380 1 -209 1 501 1 -425 1 -72 1 62 1 -366 1 658 1 -858 1 461 1 -142 1 281 1 -197 1 -124 1 153 1 112 1 186 1 -365 1 402 1 -225 1 249 1 -200 1 -38 1 280 1 -404 1 69 1 220 1 -239 1 84 1 -283 1 518 1 -65 1 -248 1 478 1 -156 1 -625 1 449 1 136 1 -191 1 283 1 -1 1 -710 1 234 1 345 1 104 1 -319 1 -240 1 96 1 530 1 -337 1 -45 1 -241 1 -9 1 476 1 -340 1 423 1 -211 1 -40 1 144 1 -221 1 136 1 297 1 -211 1 -416 1 246 1 -502 1 412 1 337 1 57 1 -278 1 -116 1 374 1 -302 1 -12 1 53 1 79 1 -235 1 148 1 -16 1 274 1 -167 1 -178 1 6 1 140 1 -78 1 183 1 -504 1 233 1 352 1 -438 1 256 1 -422 1 305 1 189 1 131 1 -85 1 -490 1 220 1 -15 1 -69 1 106 1 130 1 -241 1 72 1 -119 1 -39 1 424 1 -186 1 237 1 -189 1 -64 1 455 1 -309 1 -437 1 169 1 75 1 258 1 -104 1 50 1 -248 1 147 1 287 1 -161 1 -384 1 353 1 189 1 144 1 -798 1 324 1 121 1 -166 1 19 1 -207 1 232 1 167 1 -122 1 304 1 -351 1 259 1 -133 1 -181 1 252 1 -42 1 -135 1 -345 1 841 1 -207 1 -136 1 156 1 -592 1 456 1 46 1 -26 1 24 1 -404 1 348 1 -10 1 200 1 -295 1 99 1 15 1 80 1 -142 1 18 1 -10 1 7 1 51 1 -305 1 178 1 17 1 64 1 -41 1 -266 1 360 1 -200 1 -34 1 187 1 75 1 -79 1 29 1 -14 1 27 1 -84 1 -162 1 168 1 -107 1 151 1 -45 1 -62 1 -197 1 508 1 -712 1 314 1 236 1 -121 1 33 1 8 1 63 1 -294 1 86 1 227 1 102 1 -142 1 209 1 -476 1 246 1 37 1 101 1 -382 1 146 1 -144 1 48 1 78 1 -259 1 329 1 19 1 195 1 -396 1 449 1 -296 1 117 1 -68 1 4 1 -165 1 219 1 51 1 85 1 -445 1 111 1 188 1 34 1 -21 1 -222 1 649 1 -275 1 -118 1 -189 1 -175 1 193 1 -62 1 4 1 243 1 -148 1 100 1 -68 1 20 1 82 1 -76 1 -38 1 -151 1 61 1 -164 1 255 1 -218 1 197 1 86 1 6 1 70 1 -137 1 170 1 -345 1 -81 1 143 1 194 1 15 1 156 1 -27 1 -431 1 278 1 88 1 -213 1 15 1 128 1 151 1 112 1 -133 1 -456 1 527 1 342 1 -699 1 47 1 -20 1 7 1 175 1 -173 1 -170 1 143 1 32 1 52 1 379 1 -95 1 -256 1 106 1 -222 1 -103 1 -17 1 132 1 -416 1 268 1 584 1 -616 1 232 1 -50 1 -132 1 227 1 22 1 39 1 -98 1 -101 1 -19 1 34 1 408 1 -776 1 549 1 -264 1 513 1 -205 1 -123 1 357 1 -233 1 -298 1 381 1 15 1 -159 1 22 1 -334 1 -150 1 67 1 458 1 -91 1 27 1 16 1 144 1 -409 1 133 1 -69 1 135 1 -191 1 3 1 383 1 -187 1 35 1 -104 1 232 1 -200 1 -68 1 -69 1 308 1 -246 1 -306 1 250 1 158 1 -226 1 376 1 -116 1 -84 1 384 1 -341 1 -162 1 174 1 129 1 9 1 -160 1 -170 1 363 1 -107 1 -110 1 178 1 121 1 -284 1 228 1 -55 1 -180 1 23 1 2 1 -124 1 70 1 -1 1 31 1 -128 1 78 1 -9 1 197 1 -130 1 -162 1 212 1 -162 1 58 1 105 1 12 1 -139 1 237 1 -157 1 -96 1 187 1 17 1 -209 1 17 1 -7 1 192 1 -86 1 82 1 -367 1 185 1 56 1 -81 1 104 1 -122 1 150 1 -24 1 58 1 51 1 -158 1 81 1 -139 1 229 1 -300 1 229 1 -145 1 151 1 93 1 -75 1 56 1 -286 1 -50 1 204 1 -32 1 -46 1 -8 1 139 1 -46 1 144 1 -205 1 45 1 130 1 -8 1 -48 1 -80 1 -63 1 117 1 117 1 -60 1 -76 1 30 1 70 1 -120 1 132 1 -113 1 34 1 118 1 -275 1 52 1 72 1 23 1 -126 1 114 1 -108 1 -6 1 61 1 219 1 -202 1 272 1 -177 1 -25 1 160 1 -177 1 -63 1 -46 1 -56 1 328 1 -139 1 -157 1 212 1 14 1 63 1 39 1 -142 1 1 1 -69 1 19 1 44 1 -220 1 120 1 256 1 -337 1 165 1 -288 1 239 1 -134 1 56 1 -60 1 -37 1 304 1 -203 1 121 1 72 1 -10 1 6 1 -141 1 91 1 -237 1 194 1 189 1 -261 1 94 1 -347 1 202 1 -193 1 86 1 51 1 146 1 -221 1 307 1 -3 1 12 1 -83 1 -240 1 -10 1 29 1 221 1 27 1 -342 1 351 1 -156 1 -61 1 105 1 109 1 124 1 -19 1 -260 1 -124 1 245 1 -2 1 117 1 -32 1 -163 1 -25 1 65 1 -306 1 359 1 -212 1 65 1 282 1 -145 1 -187 1 243 1 -326 1 187 1 -253 1 128 1 40 1 -5 1 153 1 -334 1 38 1 107 1 74 1 307 1 -175 1 -509 1 229 1 282 1 391 1 -579 1 395 1 -78 1 -22 1 -747 1 503 1 -54 1 287 1 -498 1 477 1 -93 1 234 1 -292 1 -209 1 474 1 -304 1 -206 1 223 1 -129 1 123 1 -159 1 414 1 -220 1 -96 1 37 1 -154 1 449 1 -535 1 478 1 -188 1 -11 1 417 1 -348 1 206 1 -488 1 20 1 328 1 163 1 -358 1 221 1 -66 1 102 1 -10 1 -246 1 -17 1 -164 1 162 1 202 1 -397 1 488 1 -191 1 -153 1 247 1 -84 1 -210 1 90 1 240 1 -166 1 154 1 -172 1 133 1 -107 1 -132 1 156 1 54 1 -136 1 187 1 -118 1 -66 1 133 1 -53 1 33 1 -222 1 187 1 -73 1 36 1 -94 1 256 1 -19 1 -217 1 107 1 14 1 42 1 -137 1 119 1 283 1 -349 1 80 1 -170 1 24 1 51 1 -98 1 -25 1 377 1 -332 1 100 1 -119 1 74 1 -286 1 405 1 -182 1 263 1 -55 1 -172 1 -143 1 284 1 -133 1 -64 1 94 1 115 1 -263 1 291 1 -68 1 4 1 7 1 -342 1 213 1 136 1 -163 1 -10 1 445 1 -329 1 190 1 -114 1 77 1 -15 1 -308 1 1 1 113 1 38 1 -321 1 283 1 -104 1 254 1 -73 1 -390 1 757 1 -836 1 820 1 -417 1 682 1 -624 1 145 1 -167 1 -169 1 -220 1 203 1 60 1 148 1 127 1 -60 1 -75 1 146 1 -94 1 254 1 119 1 -434 1 24 1 150 1 -121 1 -7 1 -246 1 89 1 184 1 -31 1 -260 1 -73 1 158 1 57 1 12 1 -179 1 -255 1 412 1 65 1 393 1 -453 1 24 1 230 1 -57 1 -51 1 -425 1 347 1 131 1 -68 1 -236 1 -99 1 491 1 -60 1 -154 1 26 1 -207 1 404 1 -189 1 298 1 -326 1 42 1 -94 1 34 1 195 1 12 1 -228 1 117 1 43 1 -33 1 -154 1 -135 1 73 1 40 1 511 1 -855 1 405 1 196 1 -548 1 446 1 -281 1 -85 1 265 1 26 1 -42 1 2 1 -305 1 518 1 -172 1 -110 1 144 1 -263 1 -29 1 59 1 103 1 -182 1 147 1 -79 1 66 1 369 1 -347 1 1 1 239 1 -158 1 248 1 -362 1 146 1 -251 1 230 1 118 1 -198 1 121 1 50 1 -463 1 250 1 262 1 -162 1 -40 1 33 1 -11 1 -103 1 55 1 76 1 238 1 -287 1 -152 1 147 1 182 1 -68 1 -227 1 200 1 -71 1 83 1 96 1 -119 1 -214 1 -101 1 158 1 238 1 -90 1 -282 1 -61 1 286 1 -295 1 342 1 -53 1 -258 1 245 1 -123 1 56 1 150 1 -283 1 415 1 45 1 -328 1 282 1 -676 1 395 1 -240 1 224 1 484 1 -725 1 545 1 -116 1 -434 1 473 1 -310 1 78 1 329 1 -60 1 -401 1 295 1 -70 1 20 1 275 1 -251 1 269 1 -337 1 196 1 -307 1 88 1 -106 1 238 1 -215 1 6 1 108 1 -114 1 338 1 -555 1 217 1 258 1 257 1 -196 1 -145 1 72 1 -14 1 -92 1 11 1 -210 1 427 1 -250 1 292 1 -54 1 -282 1 -231 1 299 1 267 1 378 1 -657 1 128 1 -140 1 265 1 -769 1 811 1 -65 1 -224 1 -181 1 225 1 129 1 -446 1 541 1 -144 1 -249 1 545 1 -269 1 71 1 -205 1 117 1 -230 1 -209 1 600 1 -97 1 -280 1 83 1 84 1 288 1 -199 1 81 1 -495 1 117 1 304 1 105 1 -76 1 -19 1 168 1 -231 1 -564 1 474 1 -57 1 -16 1 423 1 -303 1 -261 1 92 1 219 1 -149 1 217 1 8 1 -129 1 10 1 -222 1 -30 1 263 1 63 1 -42 1 -242 1 65 1 115 1 11 1 165 1 -291 1 131 1 -250 1 138 1 150 1 70 1 -31 1 280 1 -522 1 409 1 -60 1 -495 1 302 1 -151 1 -1 1 372 1 -49 1 -17 1 -140 1 317 1 -215 1 -251 1 -72 1 228 1 452 1 -411 1 -115 1 -16 1 47 1 98 1 82 1 41 1 -171 1 441 1 -493 1 -247 1 502 1 -79 1 65 1 -174 1 156 1 -300 1 106 1 -50 1 541 1 -328 1 -112 1 229 1 -220 1 -338 1 332 1 -430 1 82 1 213 1 650 1 -303 1 29 1 -578 1 417 1 -203 1 -198 1 90 1 325 1 -395 1 636 1 -269 1 18 1 -213 1 286 1 -112 1 195 1 -117 1 104 1 -296 1 394 1 -277 1 -6 1 241 1 -518 1 53 1 123 1 148 1 -286 1 365 1 -268 1 191 1 65 1 -285 1 91 1 -386 1 309 1 136 1 -127 1 -52 1 -87 1 320 1 1 1 -203 1 110 1 -279 1 226 1 223 1 -171 1 -262 1 239 1 218 1 -284 1 -323 1 455 1 -242 1 302 1 -199 1 -130 1 357 1 89 1 -108 1 -35 1 -184 1 232 1 -31 1 48 1 -70 1 -19 1 -102 1 1 1 0 1 -49 1 -49 1 295 1 23 1 -184 1 77 1 -28 1 -107 1 217 1 -164 1 317 1 78 1 -544 1 21 1 -57 1 287 1 -105 1 106 1 -437 1 288 1 210 1 -205 1 136 1 -39 1 -11 1 195 1 96 1 -200 1 -216 1 529 1 -261 1 -130 1 -195 1 304 1 -215 1 -103 1 219 1 -117 1 103 1 -89 1 75 1 52 1 -381 1 320 1 -294 1 461 1 -137 1 -120 1 173 1 -65 1 -255 1 136 1 28 1 195 1 -39 1 -14 1 -182 1 -63 1 253 1 117 1 -435 1 79 1 291 1 35 1 -35 1 -178 1 -69 1 335 1 -273 1 -182 1 321 1 -18 1 18 1 -126 1 97 1 140 1 -417 1 221 1 311 1 -352 1 -55 1 -53 1 253 1 113 1 -234 1 43 1 66 1 -81 1 45 1 95 1 -179 1 84 1 -178 1 46 1 127 1 188 1 -160 1 -97 1 151 1 -164 1 -122 1 137 1 49 1 152 1 -319 1 229 1 0 1 -119 1 -108 1 220 1 54 1 -169 1 160 1 39 1 40 1 -252 1 -78 1 211 1 -139 1 -269 1 267 1 -72 1 200 1 18 1 -128 1 -50 1 218 1 -189 1 86 1 47 1 -64 1 -99 1 330 1 -404 1 34 1 121 1 63 1 -219 1 115 1 -45 1 4 1 240 1 -316 1 336 1 -151 1 10 1 -124 1 -228 1 199 1 55 1 -82 1 42 1 87 1 385 1 -484 1 83 1 47 1 -70 1 -285 1 414 1 -17 1 59 1 -165 1 16 1 113 1 -410 1 287 1 -379 1 273 1 184 1 19 1 -212 1 223 1 -299 1 258 1 -80 1 -2 1 62 1 157 1 146 1 -393 1 -139 1 251 1 -23 1 23 1 92 1 -143 1 190 1 -233 1 199 1 19 1 -214 1 6 1 178 1 -70 1 60 1 19 1 52 1 -138 1 77 1 -41 1 55 1 -111 1 79 1 -138 1 6 1 252 1 33 1 -358 1 351 1 -143 1 114 1 -117 1 55 1 -224 1 191 1 -344 1 -106 1 365 1 91 1 -131 1 201 1 -37 1 -60 1 -21 1 -66 1 -12 1 91 1 -232 1 145 1 -85 1 135 1 97 1 113 1 -249 1 -121 1 385 1 -255 1 199 1 93 1 -474 1 206 1 -36 1 -20 1 -25 1 115 1 -89 1 151 1 -67 1 -3 1 27 1 -69 1 34 1 -24 1 -28 1 148 1 41 1 21 1 -41 1 -159 1 -173 1 239 1 -319 1 265 1 -33 1 74 1 -201 1 161 1 -32 1 -97 1 -14 1 143 1 -117 1 -263 1 473 1 -54 1 33 1 170 1 -140 1 16 1 -241 1 201 1 -33 1 119 1 -16 1 26 1 -134 1 -58 1 -115 1 -71 1 236 1 -76 1 55 1 19 1 -74 1 34 1 -43 1 85 1 81 1 -101 1 -186 1 324 1 -227 1 -34 1 269 1 -32 1 -306 1 118 1 14 1 0 1 -67 1 0 1 -224 1 372 1 -98 1 375 1 -318 1 -76 1 230 1 -134 1 -128 1 364 1 -162 1 -77 1 65 1 -22 1 36 1 51 1 -86 1 2 1 -2 1 -243 1 -15 1 324 1 -172 1 -377 1 474 1 -179 1 -57 1 175" fill="none" stroke="#808080" stroke-width="0.45" vector-effect="non-scaling-stroke"/>
<line x1="41.4" y1="414.2" x2="334.6" y2="414.2" stroke="#454545" stroke-width="1.2"/>
<line x1="41.4" y1="357.1" x2="334.6" y2="357.1" stroke="#5a5a5a" stroke-width="1.1" stroke-dasharray="6.7 4.1"/>
<line x1="41.4" y1="471.3" x2="334.6" y2="471.3" stroke="#5a5a5a" stroke-width="1.1" stroke-dasharray="6.7 4.1"/>
<polyline points="41.4,407.6 42.7,415.8 44.9,421.3 46.6,418.5 48.2,416.4 49.9,414.7 51.5,416.4 53.1,414.2 54.2,418.0 55.9,414.7 57.5,416.4 59.7,412.5 61.9,408.7 64.1,409.8 66.3,414.2 69.0,419.1 71.2,414.2 72.8,408.7 74.5,408.7 76.1,407.0 78.3,409.8 80.5,415.3 82.2,415.8 84.3,420.2 86.5,412.5 88.7,420.2 90.4,414.2 92.6,412.0 94.7,411.4 96.9,408.1 99.1,413.6 101.9,424.0 104.1,421.3 105.7,424.0 107.3,417.4 109.5,419.6 112.3,426.8 113.6,414.7 115.3,409.8 116.9,415.3 119.1,418.5 121.9,408.7 124.0,410.9 125.7,416.9 127.3,419.6 130.1,405.4 132.3,410.9 133.9,412.0 135.5,410.3 137.7,408.7 139.9,411.4 142.1,416.9 143.8,414.2 145.4,418.0 147.6,410.3 149.2,418.0 150.9,413.6 152.5,410.3 154.7,415.3 156.7,422.9 159.1,411.4 160.7,417.4 162.9,414.2 165.1,409.8 167.3,415.8 169.5,414.7 172.0,412.0 173.9,421.3 176.1,417.4 178.8,405.4 181.0,412.0 183.2,413.6 185.4,411.4 187.7,413.6 190.5,421.8 192.7,418.0 194.3,417.4 196.0,407.0 198.1,414.7 200.3,420.2 203.1,415.8 205.3,412.5 207.4,415.3 210.2,428.4 212.4,421.3 214.0,421.3 215.7,415.3 217.8,412.5 220.0,418.0 222.2,420.7 224.4,415.8 226.6,410.9 228.8,414.7 230.4,415.3 232.1,418.0 234.8,412.5 236.5,409.2 238.7,415.3 241.4,408.7 243.6,410.9 246.3,402.7 248.5,415.8 250.7,411.4 252.3,409.8 254.5,414.7 256.7,411.4 258.0,404.8 259.7,416.2 261.4,422.5 263.1,416.8 265.4,417.3 267.7,407.1 270.0,400.8 271.7,402.5 273.9,413.9 276.2,414.5 278.5,419.0 280.2,409.9 282.5,406.5 284.8,410.5 287.0,416.8 288.7,412.2 291.0,417.9 294.4,410.5 297.3,429.3 299.6,409.9 302.4,407.1 304.7,413.9 308.1,419.6 311.5,416.8 314.9,414.5 317.8,409.9 321.2,402.0 324.0,414.5 326.3,411.6 328.6,413.9 330.3,411.6 332.6,420.2 334.6,413.3" fill="none" stroke="#0000ff" stroke-width="1.45" stroke-linejoin="round"/>
<rect x="459.00" y="238.90" width="7.00" height="2.50" fill="#00ff00"/>
<rect x="468.50" y="236.00" width="7.00" height="5.40" fill="#00ff00"/>
<rect x="478.00" y="220.00" width="7.00" height="21.40" fill="#00ff00"/>
<rect x="487.30" y="202.10" width="7.00" height="39.30" fill="#00ff00"/>
<rect x="496.80" y="163.10" width="7.00" height="78.30" fill="#00ff00"/>
<rect x="506.40" y="124.00" width="7.00" height="117.40" fill="#00ff00"/>
<rect x="515.80" y="71.80" width="7.00" height="169.60" fill="#00ff00"/>
<rect x="525.20" y="26.90" width="7.00" height="214.50" fill="#00ff00"/>
<rect x="534.70" y="18.50" width="7.00" height="222.90" fill="#00ff00"/>
<rect x="544.10" y="42.90" width="7.00" height="198.50" fill="#00ff00"/>
<rect x="553.80" y="101.70" width="7.00" height="139.70" fill="#00ff00"/>
<rect x="563.10" y="157.70" width="7.00" height="83.70" fill="#00ff00"/>
<rect x="572.50" y="193.20" width="7.00" height="48.20" fill="#00ff00"/>
<rect x="582.00" y="216.60" width="7.00" height="24.80" fill="#00ff00"/>
<rect x="591.60" y="232.20" width="7.00" height="9.20" fill="#00ff00"/>
<rect x="601.00" y="238.20" width="7.00" height="3.20" fill="#00ff00"/>
<rect x="611.00" y="240.30" width="7.00" height="1.10" fill="#00ff00"/>
<line x1="534.8" y1="241.4" x2="534.8" y2="25.2" stroke="#000" stroke-opacity="0.8" stroke-width="1" stroke-dasharray="6.7 4.1"/>
<polyline points="451.0,240.8 451.8,240.7 452.7,240.6 453.5,240.5 454.4,240.4 455.2,240.3 456.1,240.2 456.9,240.1 457.7,239.9 458.6,239.7 459.4,239.5 460.3,239.3 461.1,239.1 461.9,238.9 462.8,238.6 463.6,238.3 464.5,238.0 465.3,237.6 466.2,237.2 467.0,236.8 467.8,236.3 468.7,235.9 469.5,235.3 470.4,234.7 471.2,234.1 472.1,233.4 472.9,232.7 473.7,231.9 474.6,231.1 475.4,230.2 476.3,229.2 477.1,228.1 478.0,227.0 478.8,225.8 479.6,224.6 480.5,223.2 481.3,221.8 482.2,220.3 483.0,218.7 483.8,217.0 484.7,215.1 485.5,213.2 486.4,211.2 487.2,209.1 488.1,206.9 488.9,204.6 489.7,202.1 490.6,199.6 491.4,196.9 492.3,194.2 493.1,191.3 494.0,188.3 494.8,185.2 495.6,181.9 496.5,178.6 497.3,175.1 498.2,171.6 499.0,167.9 499.8,164.2 500.7,160.3 501.5,156.4 502.4,152.3 503.2,148.2 504.1,144.0 504.9,139.7 505.7,135.4 506.6,131.0 507.4,126.6 508.3,122.2 509.1,117.7 510.0,113.2 510.8,108.7 511.6,104.2 512.5,99.7 513.3,95.2 514.2,90.8 515.0,86.4 515.9,82.1 516.7,77.9 517.5,73.7 518.4,69.7 519.2,65.7 520.1,61.9 520.9,58.2 521.7,54.6 522.6,51.2 523.4,48.0 524.3,45.0 525.1,42.1 526.0,39.4 526.8,37.0 527.6,34.7 528.5,32.7 529.3,30.9 530.2,29.4 531.0,28.0 531.9,27.0 532.7,26.2 533.5,25.6 534.4,25.3 535.2,25.2 536.1,25.4 536.9,25.9 537.7,26.6 538.6,27.5 539.4,28.7 540.3,30.2 541.1,31.8 542.0,33.7 542.8,35.9 543.6,38.2 544.5,40.8 545.3,43.6 546.2,46.5 547.0,49.7 547.9,53.0 548.7,56.5 549.5,60.1 550.4,63.9 551.2,67.8 552.1,71.8 552.9,75.9 553.7,80.1 554.6,84.4 555.4,88.7 556.3,93.1 557.1,97.6 558.0,102.0 558.8,106.5 559.6,111.0 560.5,115.6 561.3,120.0 562.2,124.5 563.0,129.0 563.9,133.4 564.7,137.7 565.5,142.0 566.4,146.2 567.2,150.4 568.1,154.4 568.9,158.4 569.8,162.3 570.6,166.1 571.4,169.9 572.3,173.5 573.1,177.0 574.0,180.4 574.8,183.6 575.6,186.8 576.5,189.9 577.3,192.8 578.2,195.6 579.0,198.3 579.9,201.0 580.7,203.4 581.5,205.8 582.4,208.1 583.2,210.3 584.1,212.3 584.9,214.3 585.8,216.1 586.6,217.9 587.4,219.5 588.3,221.1 589.1,222.6 590.0,223.9 590.8,225.2 591.6,226.5 592.5,227.6 593.3,228.7 594.2,229.7 595.0,230.6 595.9,231.5 596.7,232.3 597.5,233.1 598.4,233.8 599.2,234.4 600.1,235.0 600.9,235.6 601.8,236.1 602.6,236.6 603.4,237.0 604.3,237.4 605.1,237.8 606.0,238.1 606.8,238.5 607.7,238.7 608.5,239.0 609.3,239.2 610.2,239.4 611.0,239.6 611.9,239.8 612.7,240.0 613.5,240.1 614.4,240.3 615.2,240.4 616.1,240.5 616.9,240.6 617.8,240.7 618.6,240.8" fill="none" stroke="#ff0000" stroke-width="1.2"/>
<rect x="454.25" y="525.00" width="7.90" height="1.40" fill="#00ff00"/>
<rect x="464.85" y="522.20" width="7.90" height="4.20" fill="#00ff00"/>
<rect x="474.95" y="513.90" width="7.90" height="12.50" fill="#00ff00"/>
<rect x="485.35" y="500.40" width="7.90" height="26.00" fill="#00ff00"/>
<rect x="495.75" y="473.70" width="7.90" height="52.70" fill="#00ff00"/>
<rect x="505.95" y="429.30" width="7.90" height="97.10" fill="#00ff00"/>
<rect x="516.25" y="383.70" width="7.90" height="142.70" fill="#00ff00"/>
<rect x="526.75" y="337.40" width="7.90" height="189.00" fill="#00ff00"/>
<rect x="537.05" y="328.10" width="7.90" height="198.30" fill="#00ff00"/>
<rect x="547.35" y="356.50" width="7.90" height="169.90" fill="#00ff00"/>
<rect x="557.35" y="409.20" width="7.90" height="117.20" fill="#00ff00"/>
<rect x="567.75" y="454.10" width="7.90" height="72.30" fill="#00ff00"/>
<rect x="578.05" y="488.90" width="7.90" height="37.50" fill="#00ff00"/>
<rect x="588.55" y="512.80" width="7.90" height="13.60" fill="#00ff00"/>
<rect x="598.85" y="520.80" width="7.90" height="5.60" fill="#00ff00"/>
<rect x="608.55" y="525.40" width="7.90" height="1.00" fill="#00ff00"/>
<line x1="537.5" y1="526.4" x2="537.5" y2="332.9" stroke="#000" stroke-opacity="0.8" stroke-width="1" stroke-dasharray="6.7 4.1"/>
<polyline points="437.9,526.4 438.8,526.3 439.8,526.3 440.7,526.3 441.6,526.3 442.6,526.3 443.5,526.3 444.4,526.3 445.4,526.2 446.3,526.2 447.2,526.2 448.2,526.2 449.1,526.1 450.0,526.1 451.0,526.0 451.9,526.0 452.8,525.9 453.7,525.8 454.7,525.8 455.6,525.7 456.5,525.6 457.5,525.5 458.4,525.4 459.3,525.2 460.3,525.1 461.2,524.9 462.1,524.7 463.1,524.5 464.0,524.3 464.9,524.0 465.9,523.7 466.8,523.4 467.7,523.1 468.7,522.7 469.6,522.3 470.5,521.8 471.5,521.3 472.4,520.8 473.3,520.2 474.3,519.6 475.2,518.9 476.1,518.1 477.1,517.3 478.0,516.4 478.9,515.4 479.8,514.4 480.8,513.3 481.7,512.1 482.6,510.8 483.6,509.4 484.5,507.9 485.4,506.3 486.4,504.7 487.3,502.9 488.2,501.0 489.2,499.0 490.1,496.9 491.0,494.6 492.0,492.3 492.9,489.8 493.8,487.2 494.8,484.4 495.7,481.6 496.6,478.6 497.6,475.5 498.5,472.3 499.4,468.9 500.4,465.5 501.3,461.9 502.2,458.2 503.2,454.4 504.1,450.5 505.0,446.5 505.9,442.4 506.9,438.2 507.8,434.0 508.7,429.7 509.7,425.3 510.6,420.9 511.5,416.5 512.5,412.0 513.4,407.6 514.3,403.1 515.3,398.7 516.2,394.3 517.1,389.9 518.1,385.6 519.0,381.4 519.9,377.2 520.9,373.2 521.8,369.3 522.7,365.5 523.7,361.8 524.6,358.3 525.5,355.0 526.5,351.9 527.4,349.0 528.3,346.3 529.3,343.8 530.2,341.6 531.1,339.6 532.0,337.8 533.0,336.3 533.9,335.1 534.8,334.1 535.8,333.4 536.7,333.0 537.6,332.9 538.6,333.1 539.5,333.5 540.4,334.2 541.4,335.2 542.3,336.4 543.2,337.9 544.2,339.7 545.1,341.8 546.0,344.0 547.0,346.5 547.9,349.3 548.8,352.2 549.8,355.3 550.7,358.6 551.6,362.1 552.6,365.8 553.5,369.6 554.4,373.5 555.4,377.6 556.3,381.7 557.2,386.0 558.1,390.3 559.1,394.6 560.0,399.1 560.9,403.5 561.9,408.0 562.8,412.4 563.7,416.9 564.7,421.3 565.6,425.7 566.5,430.1 567.5,434.4 568.4,438.6 569.3,442.8 570.3,446.9 571.2,450.8 572.1,454.7 573.1,458.5 574.0,462.2 574.9,465.8 575.9,469.2 576.8,472.6 577.7,475.8 578.7,478.9 579.6,481.8 580.5,484.7 581.5,487.4 582.4,490.0 583.3,492.5 584.2,494.8 585.2,497.0 586.1,499.2 587.0,501.2 588.0,503.0 588.9,504.8 589.8,506.5 590.8,508.0 591.7,509.5 592.6,510.9 593.6,512.2 594.5,513.4 595.4,514.5 596.4,515.5 597.3,516.5 598.2,517.3 599.2,518.2 600.1,518.9 601.0,519.6 602.0,520.3 602.9,520.8 603.8,521.4 604.8,521.9 605.7,522.3 606.6,522.7 607.6,523.1 608.5,523.5 609.4,523.8 610.3,524.0 611.3,524.3 612.2,524.5 613.1,524.7 614.1,524.9 615.0,525.1 615.9,525.2 616.9,525.4 617.8,525.5 618.7,525.6 619.7,525.7 620.6,525.8 621.5,525.9 622.5,525.9 623.4,526.0" fill="none" stroke="#ff0000" stroke-width="1.2"/>
<g font-family='"Liberation Sans", sans-serif' font-size="11.7" fill="#1c1c1c">
<text x="41.4" y="258.2" text-anchor="middle">0</text>
<text x="135.8" y="258.2" text-anchor="middle">5000</text>
<text x="230.2" y="258.2" text-anchor="middle">10000</text>
<text x="324.6" y="258.2" text-anchor="middle">15000</text>
<text x="37.1" y="246.0" text-anchor="end">-2</text>
<text x="37.1" y="217.9" text-anchor="end">-1.5</text>
<text x="37.1" y="189.8" text-anchor="end">-1</text>
<text x="37.1" y="161.6" text-anchor="end">-0.5</text>
<text x="37.1" y="133.5" text-anchor="end">0</text>
<text x="37.1" y="105.4" text-anchor="end">0.5</text>
<text x="37.1" y="77.2" text-anchor="end">1</text>
<text x="37.1" y="49.1" text-anchor="end">1.5</text>
<text x="37.1" y="21.0" text-anchor="end">2</text>
</g>
<g font-family='"Liberation Sans", sans-serif' font-size="11.7" fill="#1c1c1c">
<text x="416.3" y="258.2" text-anchor="middle">-2</text>
<text x="475.3" y="258.2" text-anchor="middle">-1</text>
<text x="534.3" y="258.2" text-anchor="middle">0</text>
<text x="593.3" y="258.2" text-anchor="middle">1</text>
<text x="652.3" y="258.2" text-anchor="middle">2</text>
<text x="387.1" y="201.0" text-anchor="end">0.2</text>
<text x="387.1" y="156.0" text-anchor="end">0.4</text>
<text x="387.1" y="111.0" text-anchor="end">0.6</text>
<text x="387.1" y="66.0" text-anchor="end">0.8</text>
<text x="387.1" y="21.0" text-anchor="end">1</text>
</g>
<g font-family='"Liberation Sans", sans-serif' font-size="11.7" fill="#1c1c1c">
<text x="41.4" y="543.2" text-anchor="middle">0</text>
<text x="87.8" y="543.2" text-anchor="middle">2000</text>
<text x="134.2" y="543.2" text-anchor="middle">4000</text>
<text x="180.6" y="543.2" text-anchor="middle">6000</text>
<text x="227.0" y="543.2" text-anchor="middle">8000</text>
<text x="273.4" y="543.2" text-anchor="middle">10000</text>
<text x="319.8" y="543.2" text-anchor="middle">12000</text>
<text x="37.1" y="531.0" text-anchor="end">-10</text>
<text x="37.1" y="474.8" text-anchor="end">-5</text>
<text x="37.1" y="418.5" text-anchor="end">0</text>
<text x="37.1" y="362.2" text-anchor="end">5</text>
<text x="37.1" y="306.0" text-anchor="end">10</text>
</g>
<g font-family='"Liberation Sans", sans-serif' font-size="11.7" fill="#1c1c1c">
<text x="411.5" y="543.2" text-anchor="middle">-8</text>
<text x="443.1" y="543.2" text-anchor="middle">-6</text>
<text x="474.7" y="543.2" text-anchor="middle">-4</text>
<text x="506.3" y="543.2" text-anchor="middle">-2</text>
<text x="537.9" y="543.2" text-anchor="middle">0</text>
<text x="569.5" y="543.2" text-anchor="middle">2</text>
<text x="601.1" y="543.2" text-anchor="middle">4</text>
<text x="632.7" y="543.2" text-anchor="middle">6</text>
<text x="664.3" y="543.2" text-anchor="middle">8</text>
<text x="387.1" y="531.0" text-anchor="end">0</text>
<text x="387.1" y="493.5" text-anchor="end">0.05</text>
<text x="387.1" y="456.0" text-anchor="end">0.1</text>
<text x="387.1" y="418.5" text-anchor="end">0.15</text>
<text x="387.1" y="381.0" text-anchor="end">0.2</text>
<text x="387.1" y="343.5" text-anchor="end">0.25</text>
<text x="387.1" y="306.0" text-anchor="end">0.3</text>
</g>
<text x="188.0" y="10.4" text-anchor="middle" font-family='"Liberation Sans", sans-serif' font-size="12.75" font-weight="bold" fill="#000">GLONASS L1-code</text>
<text x="537.9" y="10.4" text-anchor="middle" font-family='"Liberation Sans", sans-serif' font-size="12.75" font-weight="bold" fill="#000">GLONASS L1-code</text>
<text x="188.0" y="295.4" text-anchor="middle" font-family='"Liberation Sans", sans-serif' font-size="12.75" font-weight="bold" fill="#000">GLONASS L1-phase</text>
<text x="537.9" y="295.4" text-anchor="middle" font-family='"Liberation Sans", sans-serif' font-size="12.75" font-weight="bold" fill="#000">GLONASS L1-phase</text>
<text x="188.0" y="560.5" text-anchor="middle" font-family='"Liberation Sans", sans-serif' font-size="12.85" fill="#1c1c1c">Samples</text>
<text x="537.9" y="560.5" text-anchor="middle" font-family='"Liberation Sans", sans-serif' font-size="12.85" fill="#1c1c1c">Zenith-referenced residuals</text>
<text transform="translate(11.0,128.9) rotate(-90)" x="0" y="0" text-anchor="middle" font-family='"Liberation Sans", sans-serif' font-size="12.85" fill="#1c1c1c">Zenith-referenced residuals [m]</text>
<text transform="translate(14.1,413.9) rotate(-90)" x="0" y="0" text-anchor="middle" font-family='"Liberation Sans", sans-serif' font-size="12.85" fill="#1c1c1c">Zenith-referenced residuals [mm]</text>
<text transform="translate(364.0,128.9) rotate(-90)" x="0" y="0" text-anchor="middle" font-family='"Liberation Sans", sans-serif' font-size="12.85" fill="#1c1c1c">PDF</text>
<text transform="translate(358.0,413.9) rotate(-90)" x="0" y="0" text-anchor="middle" font-family='"Liberation Sans", sans-serif' font-size="12.85" fill="#1c1c1c">PDF</text>
<text x="413.3" y="38.2" font-family='"Liberation Sans", sans-serif' font-size="11.75" fill="#000" xml:space="preserve" style="white-space:pre">Mean = 0.01 m</text>
<text x="416.0" y="57.2" font-family='"Liberation Sans", sans-serif' font-size="11.75" fill="#000" xml:space="preserve" style="white-space:pre">STD  = 0.41 m</text>
<text x="403.8" y="337.7" font-family='"Liberation Sans", sans-serif' font-size="11.75" fill="#000" xml:space="preserve" style="white-space:pre">Mean = -0.02 mm</text>
<text x="403.3" y="356.6" font-family='"Liberation Sans", sans-serif' font-size="11.75" fill="#000" xml:space="preserve" style="white-space:pre">STD  = 1.55 mm</text>
</svg>
</body></html>
